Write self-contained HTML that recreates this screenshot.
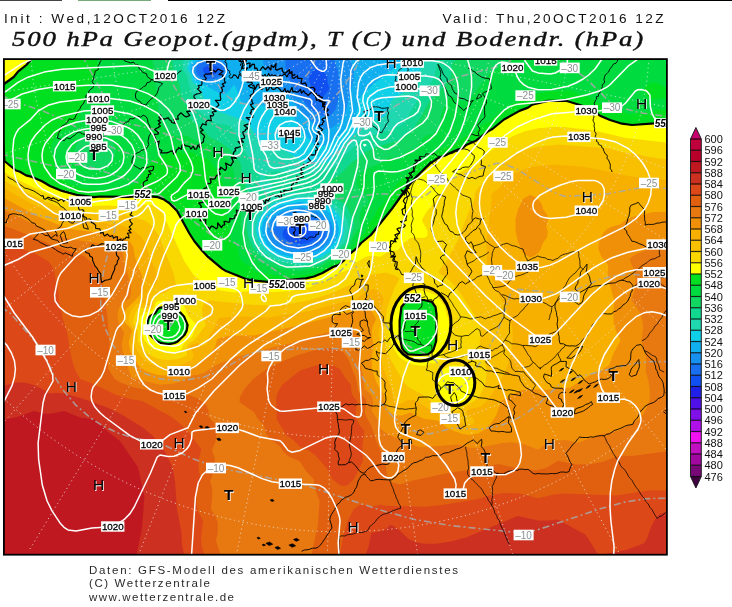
<!DOCTYPE html>
<html><head><meta charset="utf-8"><style>
html,body{margin:0;padding:0;background:#fff;width:732px;height:607px;overflow:hidden}
svg{display:block}
.h1{font-family:"Liberation Sans",sans-serif;font-size:13.6px;fill:#111}
.ti{font-family:"Liberation Serif",serif;font-style:italic;font-size:22px;fill:#111;stroke:#111;stroke-width:0.45px}
.ft{font-family:"Liberation Sans",sans-serif;font-size:11.5px;fill:#2a2a2a}
.cb text{font-family:"Liberation Sans",sans-serif;font-size:11px;fill:#111}
.lb{font-family:"Liberation Sans",sans-serif;font-size:10px}
</style></head><body>
<svg width="732" height="607" viewBox="0 0 732 607">
<rect width="732" height="607" fill="#fff"/>
<g>
<rect x="0" y="0" width="732" height="607" fill="#1050f0"/>
<path fill="#1870f0" d="M672.0 559.0 0.0 559.0 -0.0 55.0 672.0 55.0 672.0 559.0ZM213.3 75.0 218.0 72.0 218.5 69.0 217.3 67.0 212.0 64.8 204.5 67.0 203.0 69.0 203.0 71.0 204.3 73.0 208.4 75.0 213.3 75.0ZM322.3 99.0 324.3 95.0 329.6 89.0 327.7 83.0 327.2 77.0 326.0 74.7 322.0 71.1 318.0 68.6 316.0 68.8 310.0 73.6 308.8 79.0 314.0 95.0 320.0 100.3 322.0 100.0 322.3 99.0ZM308.2 243.0 315.3 239.0 317.5 235.0 317.7 233.0 316.0 229.4 312.0 226.2 304.0 223.7 296.0 223.7 288.0 226.2 283.0 231.0 282.5 235.0 284.0 238.2 290.0 242.2 300.0 244.1 308.2 243.0Z"/>
<path fill="#1890f0" d="M672.0 559.0 0.0 559.0 -0.0 55.0 286.7 55.0 285.3 61.0 285.5 67.0 287.9 77.0 290.6 83.0 308.0 106.9 318.0 114.2 326.0 116.5 330.0 115.5 332.0 114.1 335.8 109.0 340.5 89.0 338.1 71.0 332.2 55.0 672.0 55.0 672.0 559.0ZM215.1 79.0 222.0 75.3 224.3 71.0 224.3 69.0 222.3 65.0 219.6 63.0 215.4 61.0 210.0 60.7 206.0 62.3 202.0 62.5 197.8 65.0 196.3 67.0 196.0 71.6 197.7 75.0 200.6 77.0 208.0 79.3 215.1 79.0ZM306.4 249.0 317.9 245.0 324.4 239.0 326.2 235.0 326.7 231.0 325.4 227.0 322.0 222.2 318.0 219.3 312.0 216.7 306.0 215.3 298.0 215.0 286.0 217.4 277.2 223.0 274.0 228.5 273.4 233.0 275.7 239.0 278.0 241.8 282.3 245.0 290.0 248.1 296.0 249.2 306.4 249.0Z"/>
<path fill="#10b0f0" d="M672.0 559.0 0.0 559.0 -0.0 55.0 262.6 55.0 263.2 63.0 265.5 69.0 274.0 79.7 279.9 89.0 291.6 99.0 302.0 112.8 314.0 124.2 320.0 128.0 326.0 129.2 332.0 127.7 338.0 123.7 342.3 119.0 345.2 113.0 353.5 81.0 353.7 71.0 351.1 61.0 353.2 55.0 672.0 55.0 672.0 559.0ZM214.3 83.0 223.7 79.0 228.0 73.0 228.0 67.0 224.0 61.0 214.0 56.7 210.0 57.6 206.0 59.9 202.0 59.6 200.0 60.4 194.0 64.8 192.4 69.0 196.0 77.3 204.0 81.6 214.3 83.0ZM309.4 253.0 317.1 251.0 322.0 248.3 328.0 243.4 331.1 239.0 333.0 233.0 332.5 227.0 330.0 221.2 326.4 217.0 316.0 210.6 300.0 207.6 283.0 211.0 276.2 215.0 271.7 219.0 268.0 225.4 267.2 233.0 269.1 239.0 273.8 245.0 282.0 250.5 290.0 252.8 300.0 254.3 309.4 253.0Z"/>
<path fill="#10d0e8" d="M672.0 559.0 0.0 559.0 -0.0 55.0 206.5 55.0 204.0 56.7 200.0 57.5 192.2 63.0 190.7 65.0 190.0 69.0 190.6 71.0 194.0 78.5 196.0 80.6 222.0 94.4 224.0 94.4 229.0 91.0 234.0 85.1 236.0 87.9 240.9 101.0 242.0 101.9 248.0 103.9 250.0 105.6 256.0 104.9 266.0 105.9 278.0 108.5 286.0 111.7 294.0 117.7 302.0 131.1 308.0 138.5 314.0 144.3 320.0 146.4 326.0 145.4 332.0 142.1 348.3 127.0 356.1 115.0 360.0 99.0 362.0 95.1 376.0 81.9 396.1 67.0 400.3 61.0 401.4 55.0 672.0 55.0 672.0 559.0ZM308.9 257.0 318.0 255.0 322.0 253.0 330.8 247.0 335.7 241.0 338.2 235.0 338.8 229.0 336.7 221.0 332.8 215.0 320.0 205.8 300.0 201.8 280.0 205.8 267.2 215.0 263.4 221.0 261.2 229.0 262.7 237.0 267.1 245.0 274.6 251.0 282.0 254.9 300.0 258.2 308.9 257.0Z"/>
<path fill="#20d8b0" d="M672.0 559.0 0.0 559.0 -0.0 55.0 197.0 55.0 195.8 57.0 190.0 60.7 188.2 63.0 187.2 69.0 191.1 75.0 192.3 81.0 194.0 83.4 199.9 87.0 204.2 99.0 211.0 107.0 216.0 110.6 245.4 121.0 250.8 127.0 258.0 140.6 264.0 148.3 268.0 149.2 278.0 148.5 284.0 149.7 304.0 162.2 312.0 164.2 330.0 161.4 341.3 147.0 362.0 127.2 370.0 121.7 382.0 117.9 385.6 115.0 388.9 109.0 390.8 101.0 404.0 91.6 412.0 83.7 416.9 77.0 421.2 67.0 423.3 55.0 672.0 55.0 672.0 559.0ZM304.7 261.0 320.0 257.7 332.0 251.1 339.2 243.0 342.0 238.8 344.0 229.0 343.0 223.0 340.6 217.0 331.6 207.0 324.8 203.0 316.0 199.4 300.0 197.1 284.0 199.5 274.0 203.2 264.0 211.3 258.5 219.0 256.0 229.0 257.0 235.0 259.2 241.0 266.0 249.5 278.0 257.3 294.0 260.9 304.7 261.0Z"/>
<path fill="#10d890" d="M672.0 559.0 0.0 559.0 -0.0 55.0 187.3 55.0 182.9 63.0 182.7 69.0 187.7 77.0 188.2 83.0 195.7 103.0 197.6 111.0 208.0 116.4 216.0 123.6 226.0 124.4 230.0 126.1 233.0 129.0 236.0 135.0 242.0 139.5 245.1 145.0 244.6 151.0 250.8 161.0 253.9 169.0 259.6 175.0 260.4 177.0 258.0 185.0 258.3 187.0 262.6 191.0 268.0 193.1 270.0 192.7 272.7 187.0 271.5 183.0 268.3 181.0 264.7 177.0 265.2 175.0 268.0 172.9 276.0 170.9 292.0 173.1 312.0 173.6 328.0 170.3 336.0 165.7 344.0 156.1 364.0 138.1 392.0 129.4 402.0 124.6 405.3 121.0 420.0 95.7 432.3 81.0 434.5 75.0 438.9 55.0 672.0 55.0 672.0 559.0ZM312.4 263.0 318.0 262.2 326.0 257.5 334.0 254.4 339.6 247.0 345.8 241.0 348.8 227.0 347.6 221.0 344.0 213.4 340.0 208.5 330.0 200.3 312.0 193.2 290.0 192.5 280.0 196.3 272.0 195.8 270.0 196.6 265.9 203.0 257.5 211.0 252.1 223.0 251.2 229.0 251.8 233.0 256.0 244.5 260.0 249.5 266.0 254.8 273.2 259.0 280.0 261.7 300.0 264.9 312.4 263.0Z"/>
<path fill="#10d860" d="M672.0 559.0 0.0 559.0 -0.0 55.0 172.5 55.0 172.2 61.0 173.3 69.0 179.8 85.0 180.6 93.0 182.3 99.0 188.4 109.0 188.1 113.0 189.1 117.0 192.0 120.4 200.0 126.1 209.7 137.0 222.0 143.6 229.7 149.0 240.6 163.0 241.5 173.0 245.8 181.0 245.3 187.0 251.6 203.0 250.4 213.0 247.1 221.0 246.6 227.0 248.3 237.0 252.6 247.0 259.6 255.0 270.0 261.7 282.0 265.6 300.0 267.9 320.0 264.8 326.0 260.1 336.0 256.9 340.9 249.0 348.6 243.0 353.1 229.0 353.9 225.0 353.3 221.0 347.3 207.0 344.0 203.5 338.0 200.3 332.0 192.5 328.0 190.1 323.6 189.0 323.4 187.0 325.0 185.0 329.3 181.0 340.0 174.6 351.0 163.0 366.0 151.8 374.0 148.0 398.0 140.5 404.0 137.1 411.5 131.0 416.2 125.0 430.0 100.5 450.1 79.0 451.7 71.0 451.5 63.0 462.4 55.0 672.0 55.0 672.0 559.0Z"/>
<path fill="#00dc40" d="M672.0 559.0 0.0 559.0 -0.0 55.0 151.0 55.0 155.9 75.0 155.6 85.0 157.6 95.0 158.3 111.0 163.1 127.0 174.0 135.7 176.0 136.4 184.0 135.4 188.0 136.2 195.9 141.0 202.0 141.9 210.0 145.4 216.5 149.0 222.0 153.5 230.2 163.0 233.6 171.0 238.6 195.0 238.4 205.0 241.3 213.0 240.4 225.0 246.3 245.0 250.0 251.0 258.0 261.1 262.1 263.0 280.0 268.9 300.0 270.8 320.0 267.3 328.0 261.4 336.0 259.4 338.8 257.0 342.0 250.8 350.3 245.0 352.8 237.0 360.2 227.0 359.5 217.0 360.6 211.0 364.0 205.8 368.3 203.0 368.7 201.0 366.5 195.0 360.0 190.2 356.6 185.0 356.8 179.0 360.0 173.9 366.0 169.4 380.0 163.2 388.0 157.9 392.0 157.4 398.0 159.2 400.0 159.0 404.9 153.0 407.7 151.0 416.0 148.6 423.9 137.0 428.0 134.7 432.0 134.3 434.0 133.1 439.2 127.0 440.1 125.0 440.8 115.0 448.0 98.5 450.0 97.3 454.0 97.3 464.0 101.2 469.9 99.0 488.0 75.1 502.0 64.8 512.0 59.3 520.0 59.3 527.2 55.0 672.0 55.0 672.0 559.0ZM103.6 169.0 109.8 165.0 114.1 159.0 115.6 151.0 113.2 143.0 107.8 137.0 100.0 133.8 94.0 133.5 84.0 136.6 77.2 143.0 75.6 147.0 74.4 153.0 76.9 161.0 82.0 166.4 86.5 169.0 96.0 170.7 103.6 169.0Z"/>
<path fill="#00e020" d="M672.0 559.0 0.0 559.0 -0.0 55.0 93.9 55.0 96.5 59.0 98.8 69.0 97.9 71.0 92.8 75.0 77.0 121.0 70.0 124.7 66.0 129.1 58.0 134.0 55.5 137.0 51.4 145.0 50.4 151.0 54.1 159.0 54.8 169.0 58.0 174.6 62.8 179.0 68.4 183.0 78.0 187.7 94.0 190.4 112.0 189.8 128.0 187.5 136.5 183.0 140.6 179.0 144.0 171.7 150.4 163.0 160.0 156.5 174.0 151.5 184.0 153.1 192.0 152.2 198.0 156.1 207.8 159.0 217.8 171.0 219.5 177.0 223.3 185.0 221.1 189.0 220.8 193.0 222.7 199.0 226.8 205.0 226.3 215.0 227.4 219.0 230.7 225.0 229.2 231.0 229.6 237.0 232.9 243.0 238.0 247.6 238.6 255.0 240.2 259.0 243.9 263.0 251.4 267.0 254.0 270.2 258.0 272.6 280.0 276.1 298.0 275.6 312.0 273.5 322.0 270.2 326.0 267.0 338.0 262.3 341.6 259.0 345.4 253.0 353.7 247.0 358.0 239.1 365.4 233.0 367.8 225.0 375.1 215.0 378.0 208.6 384.2 203.0 388.4 195.0 397.9 183.0 405.6 177.0 410.0 170.8 415.9 165.0 434.0 152.4 458.0 141.7 466.0 136.3 474.0 133.1 480.0 127.0 490.0 121.2 498.0 113.5 506.0 109.2 512.0 104.1 522.0 100.4 528.0 96.0 534.0 94.0 540.0 93.4 548.0 91.2 570.0 90.6 576.0 92.5 580.0 95.1 586.0 95.6 590.0 96.9 596.0 102.0 606.0 105.5 612.0 110.1 622.0 111.2 630.0 114.8 640.0 112.0 644.0 112.1 650.0 113.8 656.0 109.8 666.0 109.5 666.9 103.0 666.0 100.0 664.0 98.5 654.0 99.8 648.0 98.0 645.2 95.0 644.0 91.5 644.1 89.0 646.0 85.5 650.0 83.0 654.0 82.6 660.0 84.3 666.0 87.8 668.0 88.3 672.0 87.3 672.0 559.0Z"/>
<path fill="#ffff00" d="M0.0 96.6 -0.0 55.0 31.6 55.0 31.5 59.0 26.3 65.0 18.0 71.7 13.7 77.0 4.0 84.0 0.0 96.6ZM672.0 559.0 0.0 559.0 0.0 114.4 2.6 135.0 4.4 161.0 16.0 170.5 20.0 171.8 26.0 175.4 32.0 176.9 42.0 181.2 50.0 186.0 62.0 190.9 78.0 195.2 94.0 197.1 128.0 196.9 144.0 195.8 158.0 197.2 164.0 199.6 169.1 203.0 177.1 211.0 189.1 233.0 194.2 241.0 202.4 251.0 208.0 256.9 222.0 268.6 226.0 271.1 246.0 279.0 252.0 280.4 268.0 281.8 306.0 278.4 314.0 276.5 322.0 273.3 333.0 267.0 338.5 265.0 361.2 243.0 370.9 235.0 391.8 209.0 406.1 189.0 416.2 177.0 430.0 163.6 438.0 158.2 462.0 148.5 466.0 145.1 476.0 140.7 504.0 119.5 520.0 110.6 528.0 107.6 532.0 104.8 548.0 100.9 566.0 100.8 584.0 106.3 594.0 111.4 600.0 115.7 610.0 120.0 622.0 123.7 632.0 125.0 658.0 123.1 672.0 123.9 672.0 559.0ZM419.7 355.0 428.0 354.3 432.7 351.0 433.7 349.0 436.2 341.0 436.6 315.0 435.5 307.0 432.0 302.0 424.0 300.0 414.0 299.9 406.0 301.5 401.4 307.0 399.6 321.0 399.7 337.0 402.0 348.1 404.0 351.0 408.0 354.3 419.7 355.0ZM174.8 343.0 178.0 341.2 184.5 335.0 186.6 331.0 187.6 325.0 184.0 316.4 178.0 310.0 172.0 310.6 166.0 307.1 160.0 307.6 158.0 308.7 155.4 313.0 150.0 316.2 148.0 319.0 147.2 325.0 150.0 334.7 156.0 340.8 160.0 342.8 168.0 344.3 174.8 343.0Z"/>
<path fill="#f8d800" d="M672.0 559.0 0.0 559.0 0.0 169.5 12.0 176.8 28.0 184.7 46.0 193.2 70.0 202.8 94.0 205.7 110.0 205.4 124.0 206.8 140.0 204.6 154.1 205.0 162.0 211.6 184.2 261.0 193.6 275.0 204.0 283.6 220.0 290.6 234.0 292.6 252.0 290.7 272.0 291.9 290.0 291.0 300.0 288.0 310.0 287.3 320.0 282.3 328.0 280.9 336.0 274.2 348.0 270.0 354.0 263.8 366.0 256.7 372.0 255.5 380.0 256.8 388.0 251.8 398.0 249.9 404.0 242.4 410.0 238.2 414.0 237.5 422.0 238.1 426.0 237.2 427.6 235.0 427.5 231.0 422.2 221.0 422.3 219.0 427.1 211.0 434.0 203.0 437.1 197.0 444.0 190.0 448.4 183.0 462.0 171.1 478.0 163.2 485.4 155.0 500.0 143.7 512.0 136.4 524.0 131.5 538.0 128.2 552.0 126.9 564.0 127.0 594.0 130.5 626.0 138.0 666.0 142.5 672.0 142.3 672.0 559.0ZM427.1 365.0 430.0 363.0 434.0 363.5 438.0 362.3 440.2 359.0 441.0 355.0 445.8 349.0 446.6 341.0 449.1 335.0 448.9 321.0 444.2 305.0 436.0 295.1 426.0 291.3 418.0 290.3 404.0 293.8 398.1 299.0 390.9 313.0 390.6 321.0 388.6 327.0 390.6 341.0 394.0 349.1 400.0 358.0 412.0 364.6 424.0 366.0 427.1 365.0ZM178.8 351.0 181.6 349.0 183.2 345.0 186.0 341.3 192.0 337.0 195.6 327.0 195.0 323.0 188.0 316.1 184.0 306.1 182.0 303.3 178.0 303.7 172.0 306.3 170.0 306.0 164.0 300.3 158.0 301.0 155.5 303.0 154.7 307.0 152.0 310.5 143.6 313.0 140.4 317.0 139.5 323.0 144.0 339.7 150.0 346.6 158.1 351.0 168.0 353.0 178.8 351.0ZM459.9 403.0 465.0 401.0 470.8 395.0 473.8 385.0 473.1 381.0 471.3 375.0 466.0 368.7 460.0 365.7 452.0 365.2 444.0 368.7 441.7 371.0 437.7 379.0 438.4 389.0 440.5 395.0 445.4 401.0 456.0 404.5 459.9 403.0Z"/>
<path fill="#f8c000" d="M672.0 559.0 0.0 559.0 0.0 178.4 38.0 198.3 62.0 207.9 78.0 211.7 90.0 213.3 124.0 214.4 144.0 220.2 148.7 223.0 152.9 227.0 160.1 237.0 163.8 249.0 173.5 273.0 175.9 285.0 175.1 287.0 170.0 289.2 164.6 293.0 154.0 295.1 152.5 299.0 152.8 305.0 152.0 307.0 150.0 308.6 138.0 308.0 134.5 315.0 133.1 323.0 137.7 331.0 137.7 341.0 140.0 345.7 148.0 353.4 154.0 357.0 160.0 359.2 168.0 360.1 176.0 359.4 182.0 357.8 187.0 355.0 186.7 349.0 187.6 345.0 189.3 343.0 194.0 340.4 206.0 325.0 202.4 315.0 202.0 309.0 204.0 303.3 207.5 301.0 210.0 300.4 252.0 304.7 272.0 305.7 290.0 303.8 310.0 299.9 330.0 293.8 352.0 284.1 368.0 275.2 386.0 272.6 396.0 276.1 399.3 279.0 394.0 289.0 387.0 309.0 383.9 329.0 385.1 343.0 390.0 358.8 404.0 382.2 408.0 386.7 426.0 396.4 439.4 409.0 444.0 408.9 456.0 411.1 460.0 410.0 474.4 401.0 480.2 395.0 485.3 383.0 486.4 375.0 486.2 369.0 484.3 361.0 478.9 349.0 480.9 333.0 480.2 327.0 478.0 320.8 458.0 289.5 448.0 278.7 439.0 273.0 438.9 271.0 448.0 258.7 457.5 241.0 470.0 209.0 474.0 201.0 475.0 193.0 478.0 187.6 484.0 183.3 498.0 166.5 506.1 159.0 520.0 151.7 530.0 148.5 540.0 146.7 558.0 144.6 610.0 148.4 622.0 151.9 636.0 153.9 650.0 157.3 672.0 159.8 672.0 559.0ZM170.0 303.9 169.0 303.0 170.0 301.1 172.0 303.0 170.0 303.9ZM190.0 314.2 188.8 313.0 190.0 311.3 191.0 313.0 190.0 314.2Z"/>
<path fill="#f8b000" d="M672.0 559.0 0.0 559.0 0.0 187.1 5.4 189.0 32.0 203.9 60.0 215.9 78.0 220.5 110.0 223.5 122.0 225.5 134.0 230.7 141.4 237.0 145.1 243.0 149.6 257.0 156.4 271.0 157.3 281.0 156.0 283.9 150.0 288.1 147.2 293.0 146.9 299.0 151.0 305.0 150.0 306.2 148.0 305.8 142.0 302.5 136.0 303.9 130.8 311.0 128.9 317.0 128.9 321.0 130.4 325.0 134.5 331.0 133.5 341.0 134.6 347.0 142.0 357.3 150.0 363.4 158.0 366.5 168.0 367.4 180.0 365.4 190.0 361.0 192.2 359.0 193.7 355.0 190.1 347.0 190.9 345.0 198.0 342.9 202.0 346.1 206.0 345.1 207.4 343.0 209.4 335.0 214.8 327.0 218.0 319.3 220.0 317.9 234.0 316.2 268.0 317.5 310.0 311.0 342.0 302.2 352.0 302.1 364.0 293.0 374.0 288.6 380.0 292.3 383.9 299.0 381.5 307.0 381.8 319.0 378.6 333.0 380.5 355.0 382.7 367.0 390.9 387.0 394.6 401.0 396.3 403.0 400.0 404.2 408.0 399.9 414.0 399.8 430.0 409.6 442.0 412.1 452.0 418.4 466.0 424.8 470.0 425.3 473.8 423.0 474.1 419.0 466.8 415.0 466.9 411.0 470.0 408.6 478.0 407.4 482.0 405.6 486.0 402.1 489.8 397.0 500.0 381.0 506.1 369.0 510.8 355.0 512.7 343.0 512.7 331.0 510.2 319.0 506.3 309.0 493.2 283.0 488.9 271.0 486.9 261.0 486.5 241.0 491.7 201.0 491.3 195.0 492.2 193.0 500.0 187.5 506.8 177.0 516.0 172.4 532.0 166.7 554.0 164.4 584.0 166.8 630.0 176.2 648.0 178.8 666.0 179.8 672.0 181.1 672.0 559.0ZM200.0 341.9 199.2 341.0 200.0 339.5 200.0 341.9Z"/>
<path fill="#f09008" d="M532.0 257.0 529.2 257.0 523.2 253.0 518.0 242.1 515.6 231.0 515.5 219.0 518.0 209.6 523.1 199.0 530.0 194.8 535.3 197.0 539.8 201.0 542.2 205.0 543.1 209.0 547.4 215.0 548.2 219.0 546.2 227.0 547.7 231.0 547.2 237.0 543.0 243.0 539.9 251.0 536.0 254.7 532.0 257.0ZM672.0 559.0 0.0 559.0 0.0 197.1 6.0 199.1 38.0 216.4 64.0 226.9 72.0 229.2 114.0 234.7 128.0 240.4 131.0 243.0 133.3 247.0 134.9 257.0 142.2 277.0 143.1 289.0 138.5 297.0 126.3 309.0 124.5 313.0 124.1 319.0 125.2 323.0 131.1 329.0 131.8 331.0 128.7 343.0 130.3 351.0 138.0 364.4 142.0 368.6 145.9 371.0 158.0 374.9 168.0 375.4 178.0 373.3 192.0 367.3 198.9 363.0 212.0 351.4 215.1 347.0 217.2 339.0 222.0 337.2 232.0 335.6 254.0 335.5 302.0 324.5 348.0 312.3 356.0 311.3 368.0 307.6 372.0 311.7 376.2 319.0 372.6 327.0 371.9 331.0 372.0 337.0 373.6 345.0 371.7 357.0 372.0 369.2 376.6 383.0 384.2 395.0 384.9 403.0 388.0 410.0 392.0 413.7 396.0 415.3 402.0 415.4 410.0 412.5 424.0 418.8 438.0 420.6 446.1 427.0 452.0 430.3 462.0 433.8 470.0 435.0 478.0 433.6 485.7 429.0 491.2 423.0 496.4 415.0 501.2 401.0 520.0 390.6 530.0 389.3 546.0 389.7 570.0 387.6 590.0 375.2 600.0 370.9 609.3 365.0 613.7 353.0 620.2 341.0 620.1 339.0 615.9 331.0 613.7 323.0 613.2 313.0 614.4 301.0 608.1 279.0 607.6 273.0 608.3 265.0 601.5 257.0 598.4 249.0 598.7 243.0 601.1 237.0 603.1 233.0 607.3 229.0 612.0 226.6 620.0 224.4 626.0 219.7 632.0 216.9 652.0 212.3 662.0 211.8 672.0 212.5 672.0 559.0Z"/>
<path fill="#e87810" d="M672.0 559.0 0.0 559.0 0.0 209.1 4.0 209.8 44.0 229.4 64.0 237.2 74.0 239.7 96.1 243.0 122.0 248.9 124.8 265.0 130.7 285.0 131.2 293.0 130.0 298.4 124.0 301.4 120.0 305.9 118.0 311.0 117.5 317.0 118.7 323.0 124.1 333.0 121.9 343.0 122.4 351.0 127.3 361.0 128.8 371.0 132.0 378.1 160.0 384.8 174.0 383.6 184.0 380.1 190.0 375.7 198.0 374.7 204.0 372.8 216.0 364.9 234.0 357.6 276.0 346.4 292.0 343.1 326.0 332.7 342.0 330.0 352.0 330.8 356.3 333.0 361.0 339.0 361.6 341.0 360.2 365.0 363.6 377.0 364.5 389.0 369.6 393.0 372.2 397.0 373.2 403.0 372.0 411.0 378.4 421.0 380.8 429.0 386.0 433.0 396.0 438.3 410.0 444.1 420.0 447.2 458.0 444.4 468.0 447.4 478.0 448.0 502.0 443.1 512.0 442.3 524.0 444.2 538.0 449.8 546.0 443.9 554.0 440.7 566.0 440.0 578.0 442.9 600.0 434.4 618.0 431.1 640.0 419.3 645.2 411.0 649.5 401.0 649.9 391.0 648.5 381.0 645.7 371.0 646.4 361.0 645.7 353.0 641.4 341.0 643.2 329.0 642.6 321.0 639.1 311.0 632.2 301.0 631.7 299.0 635.0 289.0 635.7 279.0 634.4 271.0 629.5 259.0 634.7 255.0 646.0 250.2 666.0 248.5 672.0 250.9 672.0 559.0Z"/>
<path fill="#e06010" d="M226.0 559.0 -0.0 559.0 0.0 225.1 12.0 228.4 60.0 247.9 84.0 256.1 91.7 263.0 100.0 275.9 102.7 283.0 107.6 319.0 109.8 345.0 107.9 357.0 108.0 368.6 114.5 379.0 121.5 383.0 134.0 387.6 150.0 390.4 160.0 394.3 178.0 395.9 190.0 395.3 198.8 399.0 206.4 405.0 208.7 411.0 208.5 417.0 214.1 423.0 215.8 427.0 216.6 433.0 215.7 441.0 212.3 449.0 212.2 451.0 214.4 457.0 215.0 463.0 213.7 471.0 210.0 481.0 211.8 487.0 212.3 493.0 211.0 509.0 215.9 517.0 217.7 523.0 217.8 531.0 216.0 541.0 220.6 555.0 226.0 559.0ZM672.0 559.0 305.1 559.0 311.4 555.0 317.9 525.0 319.6 501.0 315.2 489.0 313.4 479.0 306.0 471.0 300.0 461.6 288.0 456.1 282.8 451.0 280.0 446.3 269.8 439.0 265.9 433.0 263.9 425.0 258.0 419.0 254.0 412.1 240.6 403.0 239.5 401.0 240.0 397.0 244.4 389.0 253.3 379.0 263.8 371.0 278.1 363.0 298.1 355.0 318.0 349.3 330.0 347.9 340.0 350.1 344.1 353.0 348.0 358.5 356.1 379.0 358.2 391.0 365.9 399.0 366.2 403.0 364.7 411.0 365.4 415.0 371.7 427.0 375.5 439.0 383.3 457.0 385.6 465.0 388.0 479.7 392.0 482.6 400.0 484.5 412.0 480.8 448.0 473.0 480.0 468.2 498.0 464.1 524.0 469.6 536.0 470.2 546.0 467.9 558.0 460.7 576.0 464.4 590.0 464.3 604.0 461.4 618.0 456.0 634.0 455.8 664.0 451.7 668.0 450.7 672.0 448.4 672.0 559.0Z"/>
<path fill="#dc4818" d="M204.0 559.0 -0.0 559.0 0.0 243.4 5.2 243.0 36.0 254.1 48.0 261.3 51.5 265.0 54.7 273.0 55.8 281.0 58.1 289.0 58.8 301.0 61.2 309.0 62.2 317.0 66.7 331.0 71.7 359.0 74.9 369.0 80.0 378.9 92.0 383.2 116.0 395.0 130.0 399.0 142.0 401.0 168.2 415.0 177.0 421.0 186.0 429.3 201.3 449.0 198.9 459.0 198.4 465.0 199.2 473.0 201.1 479.0 197.1 491.0 196.2 501.0 197.9 511.0 203.0 521.0 200.9 539.0 201.9 547.0 204.8 557.0 205.1 559.0 204.0 559.0ZM348.0 485.1 344.0 486.1 340.0 485.3 332.0 478.7 327.3 469.0 315.2 455.0 308.0 449.9 300.0 447.1 294.0 440.5 286.0 434.9 276.6 419.0 276.2 397.0 278.6 391.0 282.1 385.0 300.0 370.4 320.0 364.3 334.0 366.1 340.0 368.9 344.6 377.0 350.9 385.0 351.5 393.0 353.6 397.0 357.3 401.0 355.7 413.0 356.6 419.0 359.6 425.0 364.4 431.0 362.4 445.0 363.0 461.0 354.0 479.1 348.0 485.1ZM672.0 559.0 338.9 559.0 343.1 537.0 348.0 520.0 354.0 509.0 360.0 505.1 374.0 506.3 380.0 504.7 386.0 505.8 424.0 506.7 442.0 504.9 478.0 499.0 492.0 494.8 504.0 492.9 520.0 493.6 538.0 498.3 554.0 494.6 564.0 493.4 616.0 495.5 650.0 490.3 666.0 490.4 672.0 488.6 672.0 559.0Z"/>
<path fill="#cc3020" d="M182.0 559.0 0.0 559.0 0.0 380.9 4.0 385.7 16.0 382.5 26.0 382.8 36.0 385.8 50.0 393.6 58.0 393.0 66.0 393.8 88.0 400.5 106.0 407.1 122.3 415.0 142.0 427.1 151.8 435.0 158.9 443.0 167.0 455.0 173.0 469.0 175.0 481.0 176.9 509.0 181.2 531.0 182.0 545.0 184.1 555.0 184.0 559.0 182.0 559.0ZM672.0 559.0 366.6 559.0 365.5 555.0 368.5 547.0 371.4 533.0 382.0 531.1 386.0 529.0 390.0 525.3 392.0 525.3 398.0 529.0 408.0 538.6 414.0 541.8 424.0 543.7 436.0 543.7 450.0 541.8 466.0 537.5 518.0 515.9 538.0 520.4 548.0 520.6 558.0 519.5 585.8 535.0 598.0 554.3 600.0 554.7 626.0 550.0 644.0 543.3 646.9 539.0 651.0 527.0 655.3 519.0 660.0 513.7 664.0 512.7 672.0 514.4 672.0 559.0Z"/>
<path fill="#c01820" d="M134.0 559.0 -0.0 559.0 0.0 420.6 18.0 416.8 34.0 410.9 44.0 413.4 50.0 413.8 64.2 411.0 80.0 417.5 96.0 419.9 108.0 431.7 120.0 440.9 138.0 467.2 144.4 497.0 141.9 529.0 135.6 559.0 134.0 559.0Z"/>
<path d="M-18.3 376.3 -15.4 379.4 -12.4 382.5 -9.4 385.6 -6.4 388.6 -3.4 391.6 -0.3 394.6 2.8 397.6 5.9 400.5 9.1 403.4 12.3 406.3 15.5 409.1 18.7 411.9 21.9 414.7 25.2 417.5 28.5 420.2 31.8 422.9 35.2 425.6 38.5 428.2 41.9 430.9 45.3 433.4 48.8 436.0 52.2 438.5 55.7 441.0 59.2 443.5 62.7 445.9 66.3 448.3 69.9 450.7 73.4 453.0 77.0 455.4 80.7 457.6 84.3 459.9 88.0 462.1 91.7 464.3 95.4 466.4 99.1 468.5 102.8 470.6 106.6 472.7 110.4 474.7 114.2 476.7 118.0 478.6 121.8 480.6 125.6 482.5 129.5 484.3 133.4 486.1 137.3 487.9 141.2 489.7 145.1 491.4 149.0 493.1 153.0 494.7 157.0 496.3 160.9 497.9 164.9 499.5 168.9 501.0 173.0 502.4 177.0 503.9 181.0 505.3 185.1 506.7 189.2 508.0 193.2 509.3 197.3 510.6 201.4 511.8 205.6 513.0 209.7 514.1 213.8 515.2 218.0 516.3 222.1 517.4 226.3 518.4 230.4 519.4 234.6 520.3 238.8 521.2 243.0 522.1 247.2 522.9 251.4 523.7 255.6 524.4 259.8 525.2 264.1 525.8 268.3 526.5 272.5 527.1 276.8 527.7 281.0 528.2 285.3 528.7 289.6 529.1 293.8 529.6 298.1 530.0 302.4 530.3 306.6 530.6 310.9 530.9 315.2 531.1 319.4 531.3 323.7 531.5 328.0 531.6 332.3 531.7 336.6 531.7 340.9 531.7 345.1 531.7 349.4 531.7 353.7 531.6 358.0 531.4 362.3 531.2 366.5 531.0 370.8 530.8 375.1 530.5 379.4 530.2 383.6 529.8 387.9 529.4 392.1 529.0 396.4 528.5 400.7 528.0 404.9 527.4 409.1 526.9 413.4 526.2 417.6 525.6 421.8 524.9 426.1 524.1 430.3 523.4 434.5 522.6 438.7 521.7 442.9 520.8 447.1 519.9 451.2 519.0 455.4 518.0 459.6 517.0 463.7 515.9 467.8 514.8 472.0 513.7 476.1 512.5 480.2 511.3 484.3 510.1 488.4 508.8 492.5 507.5 496.5 506.1 500.6 504.7 504.6 503.3 508.7 501.9 512.7 500.4 516.7 498.8 520.7 497.3 524.6 495.7 528.6 494.1 532.5 492.4 536.5 490.7 540.4 489.0 544.3 487.2 548.2 485.4 552.0 483.6 555.9 481.7 559.7 479.8 563.6 477.9 567.4 475.9 571.1 473.9 574.9 471.9 578.7 469.8 582.4 467.7 586.1 465.6 589.8 463.4 593.5 461.2 597.1 459.0 600.8 456.7 604.4 454.4 608.0 452.1 611.6 449.8 615.1 447.4 618.7 445.0 622.2 442.5 625.7 440.0 629.1 437.5 632.6 435.0 636.0 432.4 639.4 429.8 642.8 427.2 646.2 424.5 649.5 421.8 652.8 419.1 656.1 416.4 659.4 413.6 662.6 410.8 665.8 408.0 669.0 405.1 672.2 402.2 675.3 399.3 678.4 396.4 681.5 393.4 684.6 390.4 687.6 387.4M-18.9 209.1 -17.5 212.3 -15.9 215.4 -14.4 218.5 -12.8 221.6 -11.3 224.6 -9.6 227.7 -8.0 230.7 -6.3 233.8 -4.6 236.8 -2.9 239.8 -1.2 242.8 0.6 245.7 2.4 248.7 4.2 251.6 6.1 254.5 8.0 257.5 9.9 260.3 11.8 263.2 13.7 266.1 15.7 268.9 17.7 271.7 19.7 274.5 21.8 277.3 23.9 280.1 26.0 282.8 28.1 285.6 30.2 288.3 32.4 291.0 34.6 293.7 36.8 296.3 39.1 298.9 41.3 301.6 43.6 304.2 45.9 306.7 48.2 309.3 50.6 311.8 53.0 314.3 55.4 316.8 57.8 319.3 60.2 321.8 62.7 324.2 65.2 326.6 67.7 329.0 70.2 331.4 72.7 333.7 75.3 336.0 77.9 338.3 80.5 340.6 83.1 342.8 85.8 345.1 88.4 347.3 91.1 349.5 93.8 351.6 96.5 353.8 99.3 355.9 102.0 358.0 104.8 360.0 107.6 362.1 110.4 364.1 113.2 366.1 116.1 368.0 118.9 370.0 121.8 371.9 124.7 373.8 127.6 375.7 130.5 377.5 133.5 379.3 136.5 381.1 139.4 382.9 142.4 384.6 145.4 386.3 148.4 388.0 151.5 389.7 154.5 391.3 157.6 392.9 160.7 394.5 163.8 396.0 166.9 397.6 170.0 399.0 173.1 400.5 176.3 402.0 179.4 403.4 182.6 404.8 185.8 406.1 189.0 407.5 192.2 408.8 195.4 410.0 198.6 411.3 201.8 412.5 205.1 413.7 208.3 414.9 211.6 416.0 214.9 417.1 218.2 418.2 221.5 419.2 224.8 420.2 228.1 421.2 231.4 422.2 234.7 423.1 238.1 424.0 241.4 424.9 244.8 425.8 248.1 426.6 251.5 427.4 254.9 428.1 258.3 428.8 261.7 429.5 265.0 430.2 268.4 430.8 271.9 431.5 275.3 432.0 278.7 432.6 282.1 433.1 285.5 433.6 289.0 434.1 292.4 434.5 295.8 434.9 299.3 435.3 302.7 435.6 306.1 435.9 309.6 436.2 313.0 436.4 316.5 436.7 319.9 436.9 323.4 437.0 326.9 437.1 330.3 437.2 333.8 437.3 337.2 437.4 340.7 437.4 344.2 437.3 347.6 437.3 351.1 437.2 354.5 437.1 358.0 437.0 361.4 436.8 364.9 436.6 368.3 436.3 371.8 436.1 375.2 435.8 378.7 435.5 382.1 435.1 385.6 434.7 389.0 434.3 392.4 433.9 395.8 433.4 399.3 432.9 402.7 432.4 406.1 431.8 409.5 431.2 412.9 430.6 416.3 429.9 419.7 429.3 423.1 428.6 426.5 427.8 429.8 427.0 433.2 426.2 436.6 425.4 439.9 424.6 443.3 423.7 446.6 422.8 449.9 421.8 453.2 420.8 456.5 419.8 459.8 418.8 463.1 417.7 466.4 416.7 469.7 415.5 473.0 414.4 476.2 413.2 479.5 412.0 482.7 410.8 485.9 409.5 489.1 408.2 492.3 406.9 495.5 405.6 498.7 404.2 501.8 402.8 505.0 401.4 508.1 399.9 511.3 398.5 514.4 396.9 517.5 395.4 520.6 393.8 523.6 392.3 526.7 390.6 529.7 389.0 532.8 387.3 535.8 385.6 538.8 383.9 541.8 382.2 544.7 380.4 547.7 378.6 550.6 376.8 553.5 374.9 556.5 373.0 559.3 371.1 562.2 369.2 565.1 367.3 567.9 365.3 570.7 363.3 573.5 361.3 576.3 359.2 579.1 357.1 581.8 355.0 584.6 352.9 587.3 350.8 590.0 348.6 592.7 346.4 595.3 344.2 597.9 341.9 600.6 339.7 603.2 337.4 605.7 335.1 608.3 332.8 610.8 330.4 613.3 328.0 615.8 325.6 618.3 323.2 620.8 320.8 623.2 318.3 625.6 315.8 628.0 313.3 630.4 310.8 632.7 308.3 635.0 305.7 637.3 303.1 639.6 300.5 641.8 297.9 644.1 295.2 646.3 292.6 648.5 289.9 650.6 287.2 652.8 284.5 654.9 281.7 657.0 279.0 659.0 276.2 661.1 273.4 663.1 270.6 665.1 267.8 667.0 264.9 669.0 262.1 670.9 259.2 672.8 256.3 674.7 253.4 676.5 250.5 678.3 247.5 680.1 244.5 681.9 241.6 683.6 238.6 685.3 235.6 687.0 232.6 688.7 229.5M36.2 -17.5 35.7 -14.8 35.2 -12.2 34.8 -9.5 34.4 -6.9 33.9 -4.2 33.6 -1.5 33.2 1.2 32.9 3.8 32.6 6.5 32.3 9.2 32.0 11.9 31.8 14.6 31.5 17.3 31.3 20.0 31.2 22.7 31.0 25.3 30.9 28.0 30.8 30.7 30.7 33.4 30.7 36.1 30.6 38.8 30.6 41.5 30.6 44.2 30.7 46.9 30.7 49.6 30.8 52.3 30.9 55.0 31.1 57.7 31.2 60.4 31.4 63.1 31.6 65.8 31.9 68.5 32.1 71.2 32.4 73.9 32.7 76.6 33.0 79.2 33.3 81.9 33.7 84.6 34.1 87.3 34.5 89.9 35.0 92.6 35.4 95.3 35.9 97.9 36.4 100.6 36.9 103.2 37.5 105.9 38.1 108.5 38.7 111.1 39.3 113.7 39.9 116.4 40.6 119.0 41.3 121.6 42.0 124.2 42.8 126.8 43.5 129.4 44.3 132.0 45.1 134.5 45.9 137.1 46.8 139.7 47.7 142.2 48.6 144.8 49.5 147.3 50.4 149.9 51.4 152.4 52.4 154.9 53.4 157.4 54.4 159.9 55.4 162.4 56.5 164.9 57.6 167.3 58.7 169.8 59.8 172.2 61.0 174.7 62.2 177.1 63.4 179.5 64.6 181.9 65.8 184.3 67.1 186.7 68.4 189.1 69.7 191.5 71.0 193.8 72.3 196.2 73.7 198.5 75.1 200.8 76.5 203.1 77.9 205.4 79.4 207.7 80.8 210.0 82.3 212.2 83.8 214.4 85.3 216.7 86.9 218.9 88.4 221.1 90.0 223.3 91.6 225.5 93.2 227.6 94.9 229.8 96.5 231.9 98.2 234.0 99.9 236.1 101.6 238.2 103.4 240.3 105.1 242.3 106.9 244.4 108.7 246.4 110.5 248.4 112.3 250.4 114.1 252.4 116.0 254.4 117.8 256.3 119.7 258.2 121.6 260.1 123.5 262.0 125.5 263.9 127.4 265.8 129.4 267.6 131.4 269.5 133.4 271.3 135.4 273.1 137.4 274.8 139.5 276.6 141.6 278.3 143.6 280.1 145.7 281.8 147.8 283.5 150.0 285.1 152.1 286.8 154.2 288.4 156.4 290.0 158.6 291.6 160.8 293.2 163.0 294.7 165.2 296.3 167.4 297.8 169.7 299.3 172.0 300.8 174.2 302.2 176.5 303.7 178.8 305.1 181.1 306.5 183.4 307.8 185.8 309.2 188.1 310.5 190.5 311.8 192.9 313.1 195.2 314.4 197.6 315.7 200.0 316.9 202.4 318.1 204.9 319.3 207.3 320.5 209.7 321.6 212.2 322.7 214.7 323.8 217.1 324.9 219.6 326.0 222.1 327.0 224.6 328.0 227.1 329.0 229.6 330.0 232.2 331.0 234.7 331.9 237.2 332.8 239.8 333.7 242.3 334.6 244.9 335.4 247.5 336.2 250.1 337.0 252.7 337.8 255.2 338.5 257.8 339.3 260.4 340.0 263.1 340.7 265.7 341.3 268.3 342.0 270.9 342.6 273.6 343.2 276.2 343.7 278.8 344.3 281.5 344.8 284.2 345.3 286.8 345.8 289.5 346.2 292.1 346.6 294.8 347.1 297.5 347.4 300.2 347.8 302.8 348.1 305.5 348.4 308.2 348.7 310.9 349.0 313.6 349.2 316.3 349.5 319.0 349.7 321.7 349.8 324.3 350.0 327.0 350.1 329.7 350.2 332.4 350.3 335.1 350.3 337.8 350.4 340.5 350.4 343.2 350.4 345.9 350.3 348.6 350.3 351.3 350.2 354.0 350.1 356.7 349.9 359.4 349.8 362.1 349.6 364.8 349.4 367.5 349.1 370.2 348.9 372.9 348.6 375.6 348.3 378.2 348.0 380.9 347.7 383.6 347.3 386.3 346.9 388.9 346.5 391.6 346.0 394.3 345.6 396.9 345.1 399.6 344.6 402.2 344.1 404.9 343.5 407.5 342.9 410.1 342.3 412.7 341.7 415.4 341.1 418.0 340.4 420.6 339.7 423.2 339.0 425.8 338.2 428.4 337.5 431.0 336.7 433.5 335.9 436.1 335.1 438.7 334.2 441.2 333.3 443.8 332.4 446.3 331.5 448.9 330.6 451.4 329.6 453.9 328.6 456.4 327.6 458.9 326.6 461.4 325.6 463.9 324.5 466.3 323.4 468.8 322.3 471.2 321.2 473.7 320.0 476.1 318.8 478.5 317.6 480.9 316.4 483.3 315.2 485.7 313.9 488.1 312.6 490.5 311.3 492.8 310.0 495.2 308.7 497.5 307.3 499.8 305.9 502.1 304.5 504.4 303.1 506.7 301.6 509.0 300.2 511.2 298.7 513.4 297.2 515.7 295.7 517.9 294.1 520.1 292.6 522.3 291.0 524.5 289.4 526.6 287.8 528.8 286.1 530.9 284.5 533.0 282.8 535.1 281.1 537.2 279.4 539.3 277.6 541.3 275.9 543.4 274.1 545.4 272.3 547.4 270.5 549.4 268.7 551.4 266.9 553.4 265.0 555.3 263.2 557.2 261.3 559.1 259.4 561.0 257.5 562.9 255.5 564.8 253.6 566.6 251.6 568.5 249.6 570.3 247.6 572.1 245.6 573.8 243.6 575.6 241.5 577.3 239.4 579.1 237.4 580.8 235.3 582.5 233.2 584.1 231.0 585.8 228.9 587.4 226.8 589.0 224.6 590.6 222.4 592.2 220.2 593.7 218.0 595.3 215.8 596.8 213.6 598.3 211.3 599.8 209.0 601.2 206.8 602.7 204.5 604.1 202.2 605.5 199.9 606.8 197.6 608.2 195.2 609.5 192.9 610.8 190.5 612.1 188.1 613.4 185.8 614.7 183.4 615.9 181.0 617.1 178.6 618.3 176.1 619.5 173.7 620.6 171.3 621.7 168.8 622.8 166.3 623.9 163.9 625.0 161.4 626.0 158.9 627.0 156.4 628.0 153.9 629.0 151.4 630.0 148.8 630.9 146.3 631.8 143.8 632.7 141.2 633.6 138.7 634.4 136.1 635.2 133.5 636.0 130.9 636.8 128.3 637.5 125.8 638.3 123.2 639.0 120.6 639.7 117.9 640.3 115.3 641.0 112.7 641.6 110.1 642.2 107.4 642.7 104.8 643.3 102.2 643.8 99.5 644.3 96.8 644.8 94.2 645.2 91.5 645.6 88.9 646.1 86.2 646.4 83.5 646.8 80.8 647.1 78.2 647.4 75.5 647.7 72.8 648.0 70.1 648.2 67.4 648.5 64.7 648.7 62.0 648.8 59.3 649.0 56.7 649.1 54.0 649.2 51.3 649.3 48.6 649.3 45.9 649.4 43.2 649.4 40.5 649.4 37.8 649.3 35.1 649.3 32.4 649.2 29.7 649.1 27.0 648.9 24.3 648.8 21.6 648.6 18.9 648.4 16.2 648.1 13.5 647.9 10.8 647.6 8.1 647.3 5.4 647.0 2.8 646.7 0.1 646.3 -2.6 645.9 -5.3 645.5 -7.9 645.0 -10.6 644.6 -13.3 644.1 -15.9 643.6 -18.6M120.4 -19.5 119.9 -17.6 119.4 -15.6 118.9 -13.7 118.4 -11.8 118.0 -9.8 117.6 -7.9 117.1 -6.0 116.7 -4.0 116.4 -2.1 116.0 -0.1 115.6 1.8 115.3 3.8 115.0 5.8 114.7 7.7 114.4 9.7 114.1 11.7 113.9 13.6 113.7 15.6 113.4 17.6 113.3 19.6 113.1 21.5 112.9 23.5 112.8 25.5 112.6 27.5 112.5 29.5 112.4 31.5 112.4 33.4 112.3 35.4 112.3 37.4 112.2 39.4 112.2 41.4 112.3 43.4 112.3 45.4 112.3 47.4 112.4 49.3 112.5 51.3 112.6 53.3 112.7 55.3 112.8 57.3 113.0 59.3 113.1 61.2 113.3 63.2 113.5 65.2 113.8 67.2 114.0 69.2 114.2 71.1 114.5 73.1 114.8 75.1 115.1 77.0 115.4 79.0 115.8 80.9 116.1 82.9 116.5 84.8 116.9 86.8 117.3 88.7 117.7 90.7 118.2 92.6 118.6 94.6 119.1 96.5 119.6 98.4 120.1 100.3 120.6 102.2 121.2 104.2 121.7 106.1 122.3 108.0 122.9 109.9 123.5 111.8 124.1 113.6 124.8 115.5 125.4 117.4 126.1 119.3 126.8 121.1 127.5 123.0 128.2 124.8 129.0 126.7 129.7 128.5 130.5 130.4 131.3 132.2 132.1 134.0 132.9 135.8 133.8 137.6 134.6 139.4 135.5 141.2 136.4 143.0 137.2 144.8 138.2 146.5 139.1 148.3 140.0 150.0 141.0 151.8 142.0 153.5 143.0 155.2 144.0 156.9 145.0 158.6 146.0 160.3 147.1 162.0 148.1 163.7 149.2 165.4 150.3 167.0 151.4 168.7 152.5 170.3 153.7 172.0 154.8 173.6 156.0 175.2 157.2 176.8 158.3 178.4 159.6 180.0 160.8 181.5 162.0 183.1 163.3 184.6 164.5 186.2 165.8 187.7 167.1 189.2 168.4 190.7 169.7 192.2 171.0 193.7 172.3 195.2 173.7 196.6 175.1 198.1 176.4 199.5 177.8 200.9 179.2 202.3 180.6 203.7 182.1 205.1 183.5 206.5 185.0 207.8 186.4 209.2 187.9 210.5 189.4 211.8 190.9 213.2 192.4 214.4 193.9 215.7 195.4 217.0 197.0 218.3 198.5 219.5 200.1 220.7 201.7 221.9 203.3 223.1 204.8 224.3 206.4 225.5 208.1 226.7 209.7 227.8 211.3 228.9 213.0 230.0 214.6 231.1 216.3 232.2 218.0 233.3 219.6 234.4 221.3 235.4 223.0 236.4 224.7 237.4 226.5 238.4 228.2 239.4 229.9 240.4 231.7 241.3 233.4 242.3 235.2 243.2 237.0 244.1 238.7 245.0 240.5 245.9 242.3 246.7 244.1 247.6 245.9 248.4 247.7 249.2 249.5 250.0 251.4 250.8 253.2 251.6 255.0 252.3 256.9 253.1 258.8 253.8 260.6 254.5 262.5 255.2 264.3 255.8 266.2 256.5 268.1 257.1 270.0 257.7 271.9 258.3 273.8 258.9 275.7 259.5 277.6 260.0 279.5 260.6 281.4 261.1 283.4 261.6 285.3 262.1 287.2 262.6 289.2 263.0 291.1 263.4 293.0 263.9 295.0 264.3 296.9 264.6 298.9 265.0 300.8 265.4 302.8 265.7 304.8 266.0 306.7 266.3 308.7 266.6 310.7 266.9 312.6 267.1 314.6 267.3 316.6 267.6 318.6 267.7 320.5 267.9 322.5 268.1 324.5 268.2 326.5 268.4 328.5 268.5 330.5 268.6 332.4 268.6 334.4 268.7 336.4 268.7 338.4 268.8 340.4 268.8 342.4 268.7 344.4 268.7 346.4 268.7 348.3 268.6 350.3 268.5 352.3 268.4 354.3 268.3 356.3 268.2 358.3 268.0 360.2 267.9 362.2 267.7 364.2 267.5 366.2 267.2 368.2 267.0 370.1 266.8 372.1 266.5 374.1 266.2 376.0 265.9 378.0 265.6 379.9 265.2 381.9 264.9 383.8 264.5 385.8 264.1 387.7 263.7 389.7 263.3 391.6 262.8 393.6 262.4 395.5 261.9 397.4 261.4 399.3 260.9 401.2 260.4 403.2 259.8 405.1 259.3 407.0 258.7 408.9 258.1 410.8 257.5 412.6 256.9 414.5 256.2 416.4 255.6 418.3 254.9 420.1 254.2 422.0 253.5 423.8 252.8 425.7 252.0 427.5 251.3 429.4 250.5 431.2 249.7 433.0 248.9 434.8 248.1 436.6 247.2 438.4 246.4 440.2 245.5 442.0 244.6 443.8 243.8 445.5 242.8 447.3 241.9 449.0 241.0 450.8 240.0 452.5 239.0 454.2 238.0 455.9 237.0 457.6 236.0 459.3 235.0 461.0 233.9 462.7 232.9 464.4 231.8 466.0 230.7 467.7 229.6 469.3 228.5 471.0 227.3 472.6 226.2 474.2 225.0 475.8 223.8 477.4 222.7 479.0 221.4 480.5 220.2 482.1 219.0 483.6 217.7 485.2 216.5 486.7 215.2 488.2 213.9 489.7 212.6 491.2 211.3 492.7 210.0 494.2 208.7 495.6 207.3 497.1 205.9 498.5 204.6 499.9 203.2 501.3 201.8 502.7 200.4 504.1 198.9 505.5 197.5 506.8 196.0 508.2 194.6 509.5 193.1 510.8 191.6 512.2 190.1 513.4 188.6 514.7 187.1 516.0 185.6 517.3 184.0 518.5 182.5 519.7 180.9 520.9 179.3 522.1 177.7 523.3 176.2 524.5 174.6 525.7 172.9 526.8 171.3 527.9 169.7 529.0 168.0 530.1 166.4 531.2 164.7 532.3 163.0 533.4 161.4 534.4 159.7 535.4 158.0 536.4 156.3 537.4 154.5 538.4 152.8 539.4 151.1 540.3 149.3 541.3 147.6 542.2 145.8 543.1 144.0 544.0 142.3 544.9 140.5 545.7 138.7 546.6 136.9 547.4 135.1 548.2 133.3 549.0 131.5 549.8 129.6 550.6 127.8 551.3 126.0 552.1 124.1 552.8 122.2 553.5 120.4 554.2 118.5 554.8 116.7 555.5 114.8 556.1 112.9 556.7 111.0 557.3 109.1 557.9 107.2 558.5 105.3 559.0 103.4 559.6 101.5 560.1 99.6 560.6 97.6 561.1 95.7 561.6 93.8 562.0 91.8 562.4 89.9 562.9 88.0 563.3 86.0 563.6 84.1 564.0 82.1 564.4 80.2 564.7 78.2 565.0 76.2 565.3 74.3 565.6 72.3 565.9 70.3 566.1 68.4 566.3 66.4 566.6 64.4 566.7 62.4 566.9 60.5 567.1 58.5 567.2 56.5 567.4 54.5 567.5 52.5 567.6 50.5 567.6 48.6 567.7 46.6 567.7 44.6 567.8 42.6 567.8 40.6 567.7 38.6 567.7 36.6 567.7 34.6 567.6 32.7 567.5 30.7 567.4 28.7 567.3 26.7 567.2 24.7 567.0 22.7 566.9 20.8 566.7 18.8 566.5 16.8 566.2 14.8 566.0 12.8 565.8 10.9 565.5 8.9 565.2 6.9 564.9 5.0 564.6 3.0 564.2 1.1 563.9 -0.9 563.5 -2.8 563.1 -4.8 562.7 -6.7 562.3 -8.7 561.8 -10.6 561.4 -12.6 560.9 -14.5 560.4 -16.4 559.9 -18.3M203.0 -19.7 202.4 -18.5 201.9 -17.3 201.4 -16.1 200.9 -14.9 200.5 -13.7 200.0 -12.5 199.5 -11.2 199.1 -10.0 198.6 -8.8 198.2 -7.5 197.8 -6.3 197.4 -5.1 197.0 -3.8 196.6 -2.6 196.2 -1.3 195.9 -0.1 195.5 1.2 195.2 2.5 194.8 3.7 194.5 5.0 194.2 6.3 193.9 7.5 193.6 8.8 193.3 10.1 193.1 11.4 192.8 12.7 192.6 13.9 192.4 15.2 192.1 16.5 191.9 17.8 191.7 19.1 191.5 20.4 191.4 21.7 191.2 23.0 191.1 24.3 190.9 25.6 190.8 26.9 190.7 28.2 190.6 29.5 190.5 30.8 190.4 32.1 190.3 33.4 190.3 34.7 190.2 36.0 190.2 37.3 190.1 38.6 190.1 40.0 190.1 41.3 190.1 42.6 190.1 43.9 190.2 45.2 190.2 46.5 190.3 47.8 190.3 49.1 190.4 50.4 190.5 51.7 190.6 53.0 190.7 54.3 190.8 55.6 191.0 56.9 191.1 58.2 191.3 59.5 191.4 60.8 191.6 62.1 191.8 63.4 192.0 64.7 192.2 66.0 192.4 67.3 192.7 68.6 192.9 69.9 193.2 71.1 193.5 72.4 193.7 73.7 194.0 75.0 194.3 76.2 194.6 77.5 195.0 78.8 195.3 80.0 195.6 81.3 196.0 82.6 196.4 83.8 196.7 85.1 197.1 86.3 197.5 87.6 198.0 88.8 198.4 90.0 198.8 91.3 199.3 92.5 199.7 93.7 200.2 95.0 200.6 96.2 201.1 97.4 201.6 98.6 202.1 99.8 202.7 101.0 203.2 102.2 203.7 103.4 204.3 104.6 204.8 105.8 205.4 106.9 206.0 108.1 206.6 109.3 207.2 110.4 207.8 111.6 208.4 112.7 209.0 113.9 209.7 115.0 210.3 116.2 211.0 117.3 211.7 118.4 212.3 119.5 213.0 120.6 213.7 121.7 214.4 122.8 215.2 123.9 215.9 125.0 216.6 126.1 217.4 127.2 218.1 128.2 218.9 129.3 219.7 130.4 220.5 131.4 221.3 132.4 222.1 133.5 222.9 134.5 223.7 135.5 224.5 136.5 225.4 137.5 226.2 138.5 227.1 139.5 227.9 140.5 228.8 141.5 229.7 142.4 230.6 143.4 231.5 144.4 232.4 145.3 233.3 146.2 234.2 147.2 235.1 148.1 236.1 149.0 237.0 149.9 238.0 150.8 238.9 151.7 239.9 152.6 240.9 153.4 241.9 154.3 242.9 155.1 243.9 156.0 244.9 156.8 245.9 157.6 246.9 158.5 247.9 159.3 249.0 160.1 250.0 160.9 251.1 161.6 252.1 162.4 253.2 163.2 254.2 163.9 255.3 164.7 256.4 165.4 257.5 166.1 258.6 166.8 259.7 167.5 260.8 168.2 261.9 168.9 263.0 169.6 264.2 170.3 265.3 170.9 266.4 171.6 267.6 172.2 268.7 172.8 269.9 173.5 271.0 174.1 272.2 174.7 273.4 175.2 274.5 175.8 275.7 176.4 276.9 176.9 278.1 177.5 279.3 178.0 280.5 178.6 281.7 179.1 282.9 179.6 284.1 180.1 285.3 180.5 286.5 181.0 287.8 181.5 289.0 181.9 290.2 182.4 291.5 182.8 292.7 183.2 293.9 183.6 295.2 184.0 296.4 184.4 297.7 184.8 298.9 185.1 300.2 185.5 301.5 185.8 302.7 186.2 304.0 186.5 305.3 186.8 306.5 187.1 307.8 187.4 309.1 187.7 310.4 187.9 311.7 188.2 312.9 188.4 314.2 188.6 315.5 188.9 316.8 189.1 318.1 189.3 319.4 189.5 320.7 189.6 322.0 189.8 323.3 189.9 324.6 190.1 325.9 190.2 327.2 190.3 328.5 190.4 329.8 190.5 331.1 190.6 332.4 190.7 333.7 190.7 335.0 190.8 336.3 190.8 337.6 190.9 339.0 190.9 340.3 190.9 341.6 190.9 342.9 190.9 344.2 190.8 345.5 190.8 346.8 190.7 348.1 190.7 349.4 190.6 350.7 190.5 352.0 190.4 353.3 190.3 354.6 190.2 355.9 190.0 357.2 189.9 358.5 189.7 359.8 189.6 361.1 189.4 362.4 189.2 363.7 189.0 365.0 188.8 366.3 188.6 367.6 188.3 368.9 188.1 370.1 187.8 371.4 187.5 372.7 187.3 374.0 187.0 375.2 186.7 376.5 186.4 377.8 186.0 379.0 185.7 380.3 185.4 381.6 185.0 382.8 184.6 384.1 184.3 385.3 183.9 386.6 183.5 387.8 183.0 389.0 182.6 390.3 182.2 391.5 181.7 392.7 181.3 394.0 180.8 395.2 180.4 396.4 179.9 397.6 179.4 398.8 178.9 400.0 178.3 401.2 177.8 402.4 177.3 403.6 176.7 404.8 176.2 405.9 175.6 407.1 175.0 408.3 174.4 409.4 173.8 410.6 173.2 411.7 172.6 412.9 172.0 414.0 171.3 415.2 170.7 416.3 170.0 417.4 169.3 418.5 168.7 419.6 168.0 420.7 167.3 421.8 166.6 422.9 165.8 424.0 165.1 425.1 164.4 426.2 163.6 427.2 162.9 428.3 162.1 429.4 161.3 430.4 160.5 431.4 159.7 432.5 158.9 433.5 158.1 434.5 157.3 435.5 156.5 436.5 155.6 437.5 154.8 438.5 153.9 439.5 153.1 440.5 152.2 441.4 151.3 442.4 150.4 443.4 149.5 444.3 148.6 445.2 147.7 446.2 146.8 447.1 145.9 448.0 144.9 448.9 144.0 449.8 143.0 450.7 142.1 451.6 141.1 452.4 140.1 453.3 139.1 454.1 138.1 455.0 137.1 455.8 136.1 456.6 135.1 457.5 134.1 458.3 133.1 459.1 132.0 459.9 131.0 460.6 129.9 461.4 128.9 462.2 127.8 462.9 126.8 463.7 125.7 464.4 124.6 465.1 123.5 465.8 122.4 466.5 121.3 467.2 120.2 467.9 119.1 468.6 118.0 469.3 116.8 469.9 115.7 470.6 114.6 471.2 113.4 471.8 112.3 472.5 111.1 473.1 110.0 473.7 108.8 474.2 107.6 474.8 106.5 475.4 105.3 475.9 104.1 476.5 102.9 477.0 101.7 477.6 100.5 478.1 99.3 478.6 98.1 479.1 96.9 479.5 95.7 480.0 94.5 480.5 93.2 480.9 92.0 481.4 90.8 481.8 89.5 482.2 88.3 482.6 87.1 483.0 85.8 483.4 84.6 483.8 83.3 484.1 82.1 484.5 80.8 484.8 79.5 485.2 78.3 485.5 77.0 485.8 75.7 486.1 74.5 486.4 73.2 486.7 71.9 486.9 70.6 487.2 69.3 487.4 68.1 487.6 66.8 487.9 65.5 488.1 64.2 488.3 62.9 488.5 61.6 488.6 60.3 488.8 59.0 488.9 57.7 489.1 56.4 489.2 55.1 489.3 53.8 489.4 52.5 489.5 51.2 489.6 49.9 489.7 48.6 489.7 47.3 489.8 46.0 489.8 44.7 489.9 43.4 489.9 42.0 489.9 40.7 489.9 39.4 489.9 38.1 489.8 36.8 489.8 35.5 489.7 34.2 489.7 32.9 489.6 31.6 489.5 30.3 489.4 29.0 489.3 27.7 489.2 26.4 489.0 25.1 488.9 23.8 488.7 22.5 488.6 21.2 488.4 19.9 488.2 18.6 488.0 17.3 487.8 16.0 487.6 14.7 487.3 13.4 487.1 12.1 486.8 10.9 486.5 9.6 486.3 8.3 486.0 7.0 485.7 5.8 485.4 4.5 485.0 3.2 484.7 2.0 484.4 0.7 484.0 -0.6 483.6 -1.8 483.3 -3.1 482.9 -4.3 482.5 -5.6 482.0 -6.8 481.6 -8.0 481.2 -9.3 480.7 -10.5 480.3 -11.7 479.8 -13.0 479.4 -14.2 478.9 -15.4 478.4 -16.6 477.9 -17.8 477.3 -19.0M293.6 -17.1 293.1 -16.7 292.6 -16.3 292.1 -15.9 291.6 -15.5 291.1 -15.0 290.6 -14.6 290.1 -14.2 289.7 -13.7 289.2 -13.3 288.7 -12.9 288.2 -12.4 287.8 -12.0 287.3 -11.5 286.9 -11.0 286.4 -10.6 286.0 -10.1 285.5 -9.6 285.1 -9.1 284.6 -8.7 284.2 -8.2 283.8 -7.7 283.4 -7.2 282.9 -6.7 282.5 -6.2 282.1 -5.7 281.7 -5.2 281.3 -4.7 280.9 -4.2 280.5 -3.7 280.1 -3.1 279.8 -2.6 279.4 -2.1 279.0 -1.5 278.6 -1.0 278.3 -0.5 277.9 0.1 277.6 0.6 277.2 1.2 276.9 1.7 276.5 2.3 276.2 2.8 275.9 3.4 275.5 3.9 275.2 4.5 274.9 5.1 274.6 5.6 274.3 6.2 274.0 6.8 273.7 7.4 273.4 7.9 273.1 8.5 272.8 9.1 272.5 9.7 272.3 10.3 272.0 10.9 271.8 11.5 271.5 12.1 271.2 12.7 271.0 13.3 270.8 13.9 270.5 14.5 270.3 15.1 270.1 15.7 269.9 16.3 269.6 16.9 269.4 17.5 269.2 18.1 269.0 18.8 268.8 19.4 268.7 20.0 268.5 20.6 268.3 21.3 268.1 21.9 268.0 22.5 267.8 23.1 267.7 23.8 267.5 24.4 267.4 25.0 267.2 25.7 267.1 26.3 267.0 26.9 266.9 27.6 266.7 28.2 266.6 28.9 266.5 29.5 266.4 30.1 266.3 30.8 266.3 31.4 266.2 32.1 266.1 32.7 266.0 33.4 266.0 34.0 265.9 34.6 265.9 35.3 265.8 35.9 265.8 36.6 265.7 37.2 265.7 37.9 265.7 38.5 265.7 39.2 265.6 39.8 265.6 40.5 265.6 41.1 265.6 41.8 265.6 42.4 265.7 43.1 265.7 43.7 265.7 44.4 265.7 45.0 265.8 45.7 265.8 46.3 265.9 47.0 265.9 47.6 266.0 48.3 266.1 48.9 266.1 49.5 266.2 50.2 266.3 50.8 266.4 51.5 266.5 52.1 266.6 52.8 266.7 53.4 266.8 54.0 266.9 54.7 267.0 55.3 267.2 56.0 267.3 56.6 267.4 57.2 267.6 57.9 267.7 58.5 267.9 59.1 268.0 59.7 268.2 60.4 268.4 61.0 268.6 61.6 268.7 62.2 268.9 62.9 269.1 63.5 269.3 64.1 269.5 64.7 269.7 65.3 269.9 65.9 270.2 66.6 270.4 67.2 270.6 67.8 270.9 68.4 271.1 69.0 271.3 69.6 271.6 70.2 271.9 70.8 272.1 71.4 272.4 72.0 272.7 72.5 272.9 73.1 273.2 73.7 273.5 74.3 273.8 74.9 274.1 75.5 274.4 76.0 274.7 76.6 275.0 77.2 275.3 77.7 275.7 78.3 276.0 78.9 276.3 79.4 276.7 80.0 277.0 80.5 277.4 81.1 277.7 81.6 278.1 82.2 278.4 82.7 278.8 83.2 279.2 83.8 279.5 84.3 279.9 84.8 280.3 85.3 280.7 85.9 281.1 86.4 281.5 86.9 281.9 87.4 282.3 87.9 282.7 88.4 283.1 88.9 283.5 89.4 284.0 89.9 284.4 90.4 284.8 90.9 285.3 91.3 285.7 91.8 286.1 92.3 286.6 92.8 287.0 93.2 287.5 93.7 288.0 94.1 288.4 94.6 288.9 95.0 289.4 95.5 289.9 95.9 290.3 96.4 290.8 96.8 291.3 97.2 291.8 97.6 292.3 98.1 292.8 98.5 293.3 98.9 293.8 99.3 294.3 99.7 294.8 100.1 295.3 100.5 295.9 100.9 296.4 101.2 296.9 101.6 297.5 102.0 298.0 102.4 298.5 102.7 299.1 103.1 299.6 103.4 300.2 103.8 300.7 104.1 301.3 104.5 301.8 104.8 302.4 105.1 302.9 105.5 303.5 105.8 304.1 106.1 304.6 106.4 305.2 106.7 305.8 107.0 306.4 107.3 306.9 107.6 307.5 107.9 308.1 108.2 308.7 108.5 309.3 108.7 309.9 109.0 310.5 109.2 311.1 109.5 311.7 109.8 312.3 110.0 312.9 110.2 313.5 110.5 314.1 110.7 314.7 110.9 315.3 111.1 315.9 111.4 316.5 111.6 317.1 111.8 317.8 112.0 318.4 112.2 319.0 112.3 319.6 112.5 320.3 112.7 320.9 112.9 321.5 113.0 322.1 113.2 322.8 113.3 323.4 113.5 324.0 113.6 324.7 113.8 325.3 113.9 325.9 114.0 326.6 114.1 327.2 114.3 327.9 114.4 328.5 114.5 329.1 114.6 329.8 114.7 330.4 114.7 331.1 114.8 331.7 114.9 332.4 115.0 333.0 115.0 333.6 115.1 334.3 115.1 334.9 115.2 335.6 115.2 336.2 115.3 336.9 115.3 337.5 115.3 338.2 115.3 338.8 115.4 339.5 115.4 340.1 115.4 340.8 115.4 341.4 115.4 342.1 115.3 342.7 115.3 343.4 115.3 344.0 115.3 344.7 115.2 345.3 115.2 346.0 115.1 346.6 115.1 347.3 115.0 347.9 114.9 348.5 114.9 349.2 114.8 349.8 114.7 350.5 114.6 351.1 114.5 351.8 114.4 352.4 114.3 353.0 114.2 353.7 114.1 354.3 114.0 355.0 113.8 355.6 113.7 356.2 113.6 356.9 113.4 357.5 113.3 358.1 113.1 358.7 113.0 359.4 112.8 360.0 112.6 360.6 112.4 361.2 112.3 361.9 112.1 362.5 111.9 363.1 111.7 363.7 111.5 364.3 111.3 364.9 111.1 365.6 110.8 366.2 110.6 366.8 110.4 367.4 110.1 368.0 109.9 368.6 109.7 369.2 109.4 369.8 109.1 370.4 108.9 371.0 108.6 371.5 108.3 372.1 108.1 372.7 107.8 373.3 107.5 373.9 107.2 374.5 106.9 375.0 106.6 375.6 106.3 376.2 106.0 376.7 105.7 377.3 105.3 377.9 105.0 378.4 104.7 379.0 104.3 379.5 104.0 380.1 103.6 380.6 103.3 381.2 102.9 381.7 102.6 382.2 102.2 382.8 101.8 383.3 101.5 383.8 101.1 384.3 100.7 384.9 100.3 385.4 99.9 385.9 99.5 386.4 99.1 386.9 98.7 387.4 98.3 387.9 97.9 388.4 97.5 388.9 97.0 389.4 96.6 389.9 96.2 390.3 95.7 390.8 95.3 391.3 94.9 391.8 94.4 392.2 94.0 392.7 93.5 393.1 93.0 393.6 92.6 394.0 92.1 394.5 91.6 394.9 91.1 395.4 90.7 395.8 90.2 396.2 89.7 396.6 89.2 397.1 88.7 397.5 88.2 397.9 87.7 398.3 87.2 398.7 86.7 399.1 86.2 399.5 85.7 399.9 85.1 400.2 84.6 400.6 84.1 401.0 83.5 401.4 83.0 401.7 82.5 402.1 81.9 402.4 81.4 402.8 80.8 403.1 80.3 403.5 79.7 403.8 79.2 404.1 78.6 404.5 78.1 404.8 77.5 405.1 76.9 405.4 76.4 405.7 75.8 406.0 75.2 406.3 74.6 406.6 74.1 406.9 73.5 407.2 72.9 407.5 72.3 407.7 71.7 408.0 71.1 408.2 70.5 408.5 69.9 408.8 69.3 409.0 68.7 409.2 68.1 409.5 67.5 409.7 66.9 409.9 66.3 410.1 65.7 410.4 65.1 410.6 64.5 410.8 63.9 411.0 63.2 411.2 62.6 411.3 62.0 411.5 61.4 411.7 60.7 411.9 60.1 412.0 59.5 412.2 58.9 412.3 58.2 412.5 57.6 412.6 57.0 412.8 56.3 412.9 55.7 413.0 55.1 413.1 54.4 413.3 53.8 413.4 53.1 413.5 52.5 413.6 51.9 413.7 51.2 413.7 50.6 413.8 49.9 413.9 49.3 414.0 48.6 414.0 48.0 414.1 47.4 414.1 46.7 414.2 46.1 414.2 45.4 414.3 44.8 414.3 44.1 414.3 43.5 414.3 42.8 414.4 42.2 414.4 41.5 414.4 40.9 414.4 40.2 414.4 39.6 414.3 38.9 414.3 38.3 414.3 37.6 414.3 37.0 414.2 36.3 414.2 35.7 414.1 35.0 414.1 34.4 414.0 33.7 413.9 33.1 413.9 32.5 413.8 31.8 413.7 31.2 413.6 30.5 413.5 29.9 413.4 29.2 413.3 28.6 413.2 28.0 413.1 27.3 413.0 26.7 412.8 26.0 412.7 25.4 412.6 24.8 412.4 24.1 412.3 23.5 412.1 22.9 412.0 22.3 411.8 21.6 411.6 21.0 411.4 20.4 411.3 19.8 411.1 19.1 410.9 18.5 410.7 17.9 410.5 17.3 410.3 16.7 410.1 16.1 409.8 15.4 409.6 14.8 409.4 14.2 409.1 13.6 408.9 13.0 408.7 12.4 408.4 11.8 408.1 11.2 407.9 10.6 407.6 10.0 407.3 9.5 407.1 8.9 406.8 8.3 406.5 7.7 406.2 7.1 405.9 6.5 405.6 6.0 405.3 5.4 405.0 4.8 404.7 4.3 404.3 3.7 404.0 3.1 403.7 2.6 403.3 2.0 403.0 1.5 402.6 0.9 402.3 0.4 401.9 -0.2 401.6 -0.7 401.2 -1.2 400.8 -1.8 400.5 -2.3 400.1 -2.8 399.7 -3.3 399.3 -3.9 398.9 -4.4 398.5 -4.9 398.1 -5.4 397.7 -5.9 397.3 -6.4 396.9 -6.9 396.5 -7.4 396.0 -7.9 395.6 -8.4 395.2 -8.9 394.7 -9.3 394.3 -9.8 393.9 -10.3 393.4 -10.8 393.0 -11.2 392.5 -11.7 392.0 -12.1 391.6 -12.6 391.1 -13.0 390.6 -13.5 390.1 -13.9 389.7 -14.4 389.2 -14.8 388.7 -15.2 388.2 -15.6 387.7 -16.1 387.2 -16.5 386.7 -16.9 386.2 -17.3 385.7 -17.7 385.2 -18.1 384.7 -18.5 384.1 -18.9 383.6 -19.2 383.1 -19.6 382.5 -20.0M-16.3 32.3 -12.0 32.4 -7.6 32.5 -3.3 32.6 1.0 32.7 5.3 32.8 9.6 32.9 13.8 33.0 18.1 33.1 22.3 33.2 26.5 33.3 30.7 33.4 34.9 33.5 39.1 33.6 43.3 33.7 47.4 33.8 51.6 34.0 55.7 34.1 59.8 34.2 63.9 34.3 68.0 34.4 72.1 34.5 76.1 34.6 80.2 34.7 84.3 34.7 88.3 34.8 92.3 34.9 96.3 35.0 100.3 35.1 104.3 35.2 108.3 35.3 112.3 35.4 116.3 35.5 120.2 35.6 124.2 35.7 128.1 35.8 132.1 35.9 136.0 36.0 139.9 36.1 143.8 36.2 147.7 36.3 151.6 36.4 155.5 36.5 159.4 36.6 163.3 36.7 167.1 36.8 171.0 36.9 174.8 37.0 178.7 37.1 182.5 37.2 186.3 37.2 190.2 37.3 194.0 37.4 197.8 37.5 201.6 37.6 205.4 37.7 209.2 37.8 213.0 37.9 216.8 38.0 220.6 38.1 224.4 38.2 228.1 38.3 231.9 38.4 235.7 38.5 239.4 38.5 243.2 38.6 246.9 38.7 250.7 38.8 254.4 38.9 258.2 39.0 261.9 39.1 265.7 39.2 269.4 39.3 273.1 39.4 276.9 39.5 280.6 39.5 284.3 39.6 288.0 39.7 291.7 39.8 295.5 39.9 299.2 40.0 302.9 40.1 306.6 40.2 310.3 40.3 314.0 40.4 317.7 40.5 321.5 40.5 325.2 40.6 328.9 40.7 332.6 40.8 336.3 40.9 340.0 41.0M-16.7 95.0 -12.4 94.3 -8.1 93.6 -3.8 93.0 0.4 92.4 4.7 91.7 8.9 91.1 13.2 90.4 17.4 89.8 21.6 89.2 25.8 88.5 29.9 87.9 34.1 87.3 38.3 86.6 42.4 86.0 46.5 85.4 50.6 84.8 54.7 84.1 58.8 83.5 62.9 82.9 66.9 82.3 71.0 81.7 75.0 81.1 79.0 80.5 83.1 79.9 87.1 79.3 91.0 78.7 95.0 78.0 99.0 77.4 103.0 76.8 106.9 76.2 110.9 75.7 114.8 75.1 118.7 74.5 122.6 73.9 126.6 73.3 130.5 72.7 134.3 72.1 138.2 71.5 142.1 70.9 146.0 70.3 149.8 69.8 153.7 69.2 157.5 68.6 161.4 68.0 165.2 67.4 169.0 66.9 172.8 66.3 176.6 65.7 180.4 65.1 184.2 64.6 188.0 64.0 191.8 63.4 195.6 62.8 199.4 62.3 203.1 61.7 206.9 61.1 210.6 60.6 214.4 60.0 218.1 59.4 221.9 58.9 225.6 58.3 229.4 57.7 233.1 57.2 236.8 56.6 240.5 56.0 244.2 55.5 248.0 54.9 251.7 54.4 255.4 53.8 259.1 53.2 262.8 52.7 266.5 52.1 270.2 51.6 273.9 51.0 277.5 50.4 281.2 49.9 284.9 49.3 288.6 48.8 292.3 48.2 296.0 47.7 299.6 47.1 303.3 46.5 307.0 46.0 310.7 45.4 314.3 44.9 318.0 44.3 321.7 43.8 325.3 43.2 329.0 42.7 332.7 42.1 336.3 41.6 340.0 41.0M-18.7 161.7 -14.5 160.3 -10.3 158.9 -6.1 157.5 -2.0 156.1 2.2 154.7 6.3 153.3 10.4 151.9 14.5 150.5 18.6 149.2 22.7 147.8 26.7 146.4 30.8 145.1 34.8 143.7 38.8 142.4 42.8 141.0 46.8 139.7 50.8 138.3 54.7 137.0 58.7 135.7 62.6 134.4 66.5 133.0 70.4 131.7 74.4 130.4 78.2 129.1 82.1 127.8 86.0 126.5 89.9 125.2 93.7 123.9 97.5 122.6 101.4 121.3 105.2 120.0 109.0 118.7 112.8 117.5 116.6 116.2 120.4 114.9 124.1 113.6 127.9 112.4 131.7 111.1 135.4 109.9 139.1 108.6 142.9 107.3 146.6 106.1 150.3 104.8 154.0 103.6 157.7 102.3 161.4 101.1 165.1 99.9 168.8 98.6 172.4 97.4 176.1 96.2 179.8 94.9 183.4 93.7 187.1 92.5 190.7 91.2 194.3 90.0 198.0 88.8 201.6 87.6 205.2 86.4 208.8 85.2 212.4 83.9 216.0 82.7 219.6 81.5 223.2 80.3 226.8 79.1 230.4 77.9 233.9 76.7 237.5 75.5 241.1 74.3 244.7 73.1 248.2 71.9 251.8 70.7 255.3 69.5 258.9 68.3 262.4 67.1 266.0 65.9 269.5 64.7 273.1 63.5 276.6 62.3 280.1 61.1 283.7 60.0 287.2 58.8 290.7 57.6 294.3 56.4 297.8 55.2 301.3 54.0 304.8 52.8 308.3 51.7 311.9 50.5 315.4 49.3 318.9 48.1 322.4 46.9 325.9 45.7 329.5 44.5 333.0 43.4 336.5 42.2 340.0 41.0M-20.0 237.3 -16.0 235.1 -12.0 232.9 -8.0 230.7 -4.0 228.6 -0.1 226.4 3.8 224.3 7.7 222.2 11.6 220.0 15.5 217.9 19.4 215.8 23.2 213.7 27.1 211.6 30.9 209.5 34.7 207.5 38.5 205.4 42.3 203.3 46.0 201.3 49.8 199.2 53.5 197.2 57.3 195.2 61.0 193.1 64.7 191.1 68.4 189.1 72.1 187.1 75.7 185.1 79.4 183.1 83.0 181.1 86.7 179.1 90.3 177.1 93.9 175.2 97.5 173.2 101.1 171.2 104.7 169.3 108.3 167.3 111.8 165.4 115.4 163.5 118.9 161.5 122.5 159.6 126.0 157.7 129.5 155.8 133.0 153.8 136.5 151.9 140.0 150.0 143.5 148.1 147.0 146.2 150.5 144.3 153.9 142.4 157.4 140.6 160.8 138.7 164.3 136.8 167.7 134.9 171.1 133.1 174.6 131.2 178.0 129.3 181.4 127.5 184.8 125.6 188.2 123.8 191.6 121.9 194.9 120.1 198.3 118.3 201.7 116.4 205.0 114.6 208.4 112.7 211.8 110.9 215.1 109.1 218.5 107.3 221.8 105.4 225.1 103.6 228.5 101.8 231.8 100.0 235.1 98.2 238.4 96.4 241.7 94.6 245.1 92.8 248.4 91.0 251.7 89.2 255.0 87.4 258.3 85.6 261.6 83.8 264.9 82.0 268.1 80.2 271.4 78.4 274.7 76.6 278.0 74.8 281.3 73.0 284.5 71.2 287.8 69.5 291.1 67.7 294.4 65.9 297.6 64.1 300.9 62.3 304.2 60.5 307.4 58.8 310.7 57.0 313.9 55.2 317.2 53.4 320.5 51.7 323.7 49.9 327.0 48.1 330.2 46.3 333.5 44.6 336.7 42.8 340.0 41.0M-16.9 325.9 -13.2 323.0 -9.5 320.0 -5.8 317.1 -2.1 314.1 1.5 311.2 5.2 308.3 8.8 305.4 12.4 302.5 16.0 299.6 19.6 296.8 23.1 293.9 26.7 291.1 30.2 288.3 33.8 285.5 37.3 282.7 40.8 279.9 44.2 277.1 47.7 274.3 51.2 271.6 54.6 268.8 58.0 266.1 61.4 263.4 64.8 260.7 68.2 258.0 71.6 255.3 75.0 252.6 78.3 249.9 81.7 247.2 85.0 244.6 88.3 241.9 91.6 239.3 94.9 236.6 98.2 234.0 101.5 231.4 104.8 228.8 108.0 226.2 111.3 223.6 114.5 221.0 117.7 218.4 120.9 215.9 124.2 213.3 127.4 210.7 130.5 208.2 133.7 205.7 136.9 203.1 140.1 200.6 143.2 198.1 146.4 195.6 149.5 193.1 152.7 190.6 155.8 188.1 158.9 185.6 162.0 183.1 165.1 180.6 168.2 178.1 171.3 175.7 174.4 173.2 177.4 170.8 180.5 168.3 183.6 165.9 186.6 163.4 189.7 161.0 192.7 158.6 195.8 156.1 198.8 153.7 201.8 151.3 204.8 148.9 207.9 146.5 210.9 144.1 213.9 141.7 216.9 139.3 219.9 136.9 222.9 134.5 225.9 132.1 228.8 129.7 231.8 127.4 234.8 125.0 237.8 122.6 240.7 120.3 243.7 117.9 246.6 115.5 249.6 113.2 252.5 110.8 255.5 108.5 258.4 106.1 261.4 103.8 264.3 101.4 267.2 99.1 270.2 96.7 273.1 94.4 276.0 92.1 279.0 89.7 281.9 87.4 284.8 85.1 287.7 82.7 290.6 80.4 293.5 78.1 296.5 75.8 299.4 73.4 302.3 71.1 305.2 68.8 308.1 66.5 311.0 64.2 313.9 61.8 316.8 59.5 319.7 57.2 322.6 54.9 325.5 52.6 328.4 50.3 331.3 47.9 334.2 45.6 337.1 43.3 340.0 41.0M-18.1 447.2 -14.7 443.3 -11.2 439.4 -7.8 435.6 -4.5 431.7 -1.1 427.9 2.2 424.1 5.6 420.3 8.9 416.6 12.2 412.8 15.5 409.1 18.7 405.4 22.0 401.7 25.2 398.1 28.4 394.4 31.6 390.8 34.8 387.2 38.0 383.6 41.1 380.0 44.3 376.5 47.4 372.9 50.5 369.4 53.6 365.9 56.7 362.4 59.7 358.9 62.8 355.4 65.8 352.0 68.9 348.5 71.9 345.1 74.9 341.7 77.9 338.3 80.9 334.9 83.8 331.6 86.8 328.2 89.7 324.9 92.7 321.5 95.6 318.2 98.5 314.9 101.4 311.6 104.3 308.4 107.2 305.1 110.0 301.8 112.9 298.6 115.7 295.4 118.6 292.2 121.4 288.9 124.2 285.7 127.0 282.6 129.8 279.4 132.6 276.2 135.4 273.1 138.2 269.9 140.9 266.8 143.7 263.7 146.4 260.5 149.2 257.4 151.9 254.3 154.6 251.2 157.4 248.2 160.1 245.1 162.8 242.0 165.5 239.0 168.1 235.9 170.8 232.9 173.5 229.9 176.2 226.8 178.8 223.8 181.5 220.8 184.1 217.8 186.7 214.8 189.4 211.8 192.0 208.9 194.6 205.9 197.2 202.9 199.8 200.0 202.5 197.0 205.0 194.1 207.6 191.1 210.2 188.2 212.8 185.3 215.4 182.4 218.0 179.4 220.5 176.5 223.1 173.6 225.6 170.7 228.2 167.8 230.7 164.9 233.3 162.1 235.8 159.2 238.4 156.3 240.9 153.4 243.4 150.6 245.9 147.7 248.5 144.8 251.0 142.0 253.5 139.1 256.0 136.3 258.5 133.4 261.0 130.6 263.5 127.8 266.0 124.9 268.5 122.1 271.0 119.3 273.5 116.5 276.0 113.6 278.4 110.8 280.9 108.0 283.4 105.2 285.9 102.4 288.3 99.6 290.8 96.8 293.3 94.0 295.8 91.2 298.2 88.4 300.7 85.6 303.2 82.8 305.6 80.0 308.1 77.2 310.5 74.4 313.0 71.6 315.5 68.8 317.9 66.1 320.4 63.3 322.8 60.5 325.3 57.7 327.7 54.9 330.2 52.1 332.6 49.3 335.1 46.6 337.5 43.8 340.0 41.0M29.9 549.0 32.8 544.3 35.6 539.6 38.5 535.0 41.3 530.4 44.1 525.8 46.9 521.2 49.6 516.7 52.4 512.2 55.1 507.7 57.9 503.2 60.6 498.8 63.3 494.4 66.0 490.0 68.6 485.6 71.3 481.3 73.9 476.9 76.5 472.6 79.1 468.4 81.7 464.1 84.3 459.9 86.9 455.7 89.4 451.5 92.0 447.3 94.5 443.2 97.0 439.0 99.5 434.9 102.0 430.8 104.5 426.8 107.0 422.7 109.5 418.7 111.9 414.7 114.4 410.7 116.8 406.7 119.2 402.7 121.6 398.8 124.0 394.9 126.4 390.9 128.8 387.1 131.1 383.2 133.5 379.3 135.8 375.5 138.2 371.6 140.5 367.8 142.8 364.0 145.1 360.2 147.4 356.5 149.7 352.7 152.0 349.0 154.3 345.2 156.6 341.5 158.8 337.8 161.1 334.1 163.3 330.5 165.6 326.8 167.8 323.1 170.0 319.5 172.2 315.9 174.4 312.3 176.6 308.7 178.8 305.1 181.0 301.5 183.2 297.9 185.3 294.4 187.5 290.8 189.7 287.3 191.8 283.8 194.0 280.2 196.1 276.7 198.2 273.2 200.4 269.8 202.5 266.3 204.6 262.8 206.7 259.4 208.8 255.9 210.9 252.5 213.0 249.0 215.1 245.6 217.2 242.2 219.3 238.8 221.3 235.4 223.4 232.0 225.5 228.6 227.5 225.3 229.6 221.9 231.6 218.5 233.7 215.2 235.7 211.8 237.8 208.5 239.8 205.2 241.8 201.8 243.8 198.5 245.9 195.2 247.9 191.9 249.9 188.6 251.9 185.3 253.9 182.0 255.9 178.7 257.9 175.5 259.9 172.2 261.9 168.9 263.9 165.7 265.9 162.4 267.9 159.2 269.9 155.9 271.8 152.7 273.8 149.4 275.8 146.2 277.8 143.0 279.7 139.7 281.7 136.5 283.7 133.3 285.6 130.1 287.6 126.9 289.5 123.7 291.5 120.5 293.5 117.3 295.4 114.1 297.4 110.9 299.3 107.7 301.3 104.5 303.2 101.3 305.1 98.1 307.1 94.9 309.0 91.7 311.0 88.6 312.9 85.4 314.9 82.2 316.8 79.0 318.7 75.8 320.7 72.7 322.6 69.5 324.5 66.3 326.5 63.2 328.4 60.0 330.3 56.8 332.3 53.7 334.2 50.5 336.1 47.3 338.1 44.2 340.0 41.0M128.8 579.8 130.8 574.8 132.8 569.8 134.7 564.8 136.7 559.9 138.6 554.9 140.5 550.0 142.4 545.2 144.3 540.3 146.2 535.5 148.1 530.7 149.9 526.0 151.8 521.2 153.6 516.5 155.5 511.8 157.3 507.2 159.1 502.5 160.9 497.9 162.7 493.3 164.5 488.8 166.3 484.2 168.1 479.7 169.8 475.2 171.6 470.7 173.4 466.2 175.1 461.8 176.8 457.4 178.5 453.0 180.3 448.6 182.0 444.2 183.7 439.9 185.4 435.6 187.1 431.3 188.7 427.0 190.4 422.7 192.1 418.5 193.7 414.2 195.4 410.0 197.0 405.8 198.7 401.7 200.3 397.5 201.9 393.4 203.5 389.2 205.1 385.1 206.8 381.0 208.4 376.9 209.9 372.9 211.5 368.8 213.1 364.8 214.7 360.7 216.3 356.7 217.8 352.7 219.4 348.8 220.9 344.8 222.5 340.8 224.0 336.9 225.6 333.0 227.1 329.0 228.6 325.1 230.2 321.2 231.7 317.4 233.2 313.5 234.7 309.6 236.2 305.8 237.7 302.0 239.2 298.1 240.7 294.3 242.2 290.5 243.7 286.7 245.2 283.0 246.7 279.2 248.1 275.4 249.6 271.7 251.1 267.9 252.5 264.2 254.0 260.5 255.4 256.8 256.9 253.1 258.3 249.4 259.8 245.7 261.2 242.0 262.7 238.3 264.1 234.7 265.5 231.0 267.0 227.3 268.4 223.7 269.8 220.1 271.2 216.4 272.7 212.8 274.1 209.2 275.5 205.6 276.9 202.0 278.3 198.4 279.7 194.8 281.1 191.3 282.5 187.7 283.9 184.1 285.3 180.5 286.7 177.0 288.1 173.4 289.5 169.9 290.9 166.3 292.3 162.8 293.6 159.3 295.0 155.7 296.4 152.2 297.8 148.7 299.2 145.2 300.5 141.7 301.9 138.2 303.3 134.7 304.7 131.2 306.0 127.7 307.4 124.2 308.8 120.7 310.1 117.2 311.5 113.7 312.9 110.2 314.2 106.8 315.6 103.3 317.0 99.8 318.3 96.3 319.7 92.9 321.0 89.4 322.4 85.9 323.7 82.5 325.1 79.0 326.5 75.6 327.8 72.1 329.2 68.6 330.5 65.2 331.9 61.7 333.2 58.3 334.6 54.8 335.9 51.4 337.3 47.9 338.6 44.5 340.0 41.0M231.9 577.0 233.0 571.8 234.0 566.7 235.0 561.7 236.0 556.6 237.0 551.6 238.0 546.6 239.1 541.7 240.0 536.7 241.0 531.8 242.0 526.9 243.0 522.1 244.0 517.2 244.9 512.4 245.9 507.6 246.9 502.9 247.8 498.1 248.8 493.4 249.7 488.7 250.7 484.0 251.6 479.4 252.5 474.8 253.5 470.1 254.4 465.6 255.3 461.0 256.2 456.4 257.1 451.9 258.1 447.4 259.0 442.9 259.9 438.4 260.8 434.0 261.7 429.5 262.5 425.1 263.4 420.7 264.3 416.3 265.2 412.0 266.1 407.6 266.9 403.3 267.8 399.0 268.7 394.7 269.5 390.4 270.4 386.1 271.3 381.9 272.1 377.6 273.0 373.4 273.8 369.2 274.7 365.0 275.5 360.8 276.3 356.7 277.2 352.5 278.0 348.4 278.8 344.3 279.7 340.2 280.5 336.1 281.3 332.0 282.1 327.9 283.0 323.8 283.8 319.8 284.6 315.8 285.4 311.7 286.2 307.7 287.0 303.7 287.8 299.7 288.6 295.7 289.4 291.8 290.2 287.8 291.0 283.9 291.8 279.9 292.6 276.0 293.4 272.1 294.2 268.2 295.0 264.3 295.8 260.4 296.5 256.5 297.3 252.6 298.1 248.7 298.9 244.9 299.7 241.0 300.4 237.2 301.2 233.4 302.0 229.5 302.8 225.7 303.5 221.9 304.3 218.1 305.1 214.3 305.8 210.5 306.6 206.7 307.3 203.0 308.1 199.2 308.9 195.4 309.6 191.7 310.4 187.9 311.1 184.2 311.9 180.4 312.6 176.7 313.4 173.0 314.1 169.2 314.9 165.5 315.6 161.8 316.4 158.1 317.1 154.4 317.9 150.7 318.6 147.0 319.4 143.3 320.1 139.6 320.9 135.9 321.6 132.3 322.3 128.6 323.1 124.9 323.8 121.2 324.6 117.6 325.3 113.9 326.0 110.2 326.8 106.6 327.5 102.9 328.3 99.3 329.0 95.6 329.7 92.0 330.5 88.3 331.2 84.7 331.9 81.0 332.7 77.4 333.4 73.7 334.1 70.1 334.9 66.5 335.6 62.8 336.3 59.2 337.1 55.5 337.8 51.9 338.5 48.3 339.3 44.6 340.0 41.0M326.9 577.1 327.0 572.0 327.1 566.8 327.3 561.7 327.4 556.6 327.5 551.6 327.6 546.5 327.8 541.5 327.9 536.6 328.0 531.6 328.1 526.7 328.3 521.8 328.4 516.9 328.5 512.0 328.6 507.2 328.7 502.4 328.8 497.6 329.0 492.8 329.1 488.1 329.2 483.3 329.3 478.6 329.4 474.0 329.5 469.3 329.6 464.7 329.8 460.0 329.9 455.4 330.0 450.9 330.1 446.3 330.2 441.8 330.3 437.2 330.4 432.7 330.5 428.3 330.6 423.8 330.8 419.3 330.9 414.9 331.0 410.5 331.1 406.1 331.2 401.7 331.3 397.3 331.4 393.0 331.5 388.6 331.6 384.3 331.7 380.0 331.8 375.7 331.9 371.4 332.0 367.2 332.1 362.9 332.2 358.7 332.3 354.5 332.4 350.3 332.5 346.1 332.6 341.9 332.7 337.7 332.8 333.6 333.0 329.4 333.1 325.3 333.2 321.2 333.3 317.1 333.4 313.0 333.5 308.9 333.6 304.9 333.7 300.8 333.7 296.7 333.8 292.7 333.9 288.7 334.0 284.7 334.1 280.7 334.2 276.7 334.3 272.7 334.4 268.7 334.5 264.7 334.6 260.8 334.7 256.8 334.8 252.9 334.9 248.9 335.0 245.0 335.1 241.1 335.2 237.2 335.3 233.3 335.4 229.4 335.5 225.5 335.6 221.6 335.7 217.7 335.8 213.9 335.9 210.0 336.0 206.2 336.1 202.3 336.2 198.5 336.2 194.7 336.3 190.8 336.4 187.0 336.5 183.2 336.6 179.4 336.7 175.6 336.8 171.8 336.9 168.0 337.0 164.2 337.1 160.4 337.2 156.6 337.3 152.9 337.4 149.1 337.5 145.3 337.5 141.6 337.6 137.8 337.7 134.1 337.8 130.3 337.9 126.6 338.0 122.8 338.1 119.1 338.2 115.3 338.3 111.6 338.4 107.9 338.5 104.1 338.5 100.4 338.6 96.7 338.7 93.0 338.8 89.3 338.9 85.5 339.0 81.8 339.1 78.1 339.2 74.4 339.3 70.7 339.4 67.0 339.5 63.3 339.5 59.5 339.6 55.8 339.7 52.1 339.8 48.4 339.9 44.7 340.0 41.0M421.0 576.4 420.2 571.3 419.4 566.2 418.7 561.1 417.9 556.0 417.1 551.0 416.4 546.0 415.6 541.0 414.9 536.1 414.1 531.1 413.4 526.2 412.6 521.4 411.9 516.5 411.2 511.7 410.5 506.9 409.7 502.1 409.0 497.3 408.3 492.6 407.6 487.9 406.9 483.2 406.2 478.5 405.5 473.9 404.8 469.2 404.1 464.6 403.4 460.0 402.7 455.5 402.0 450.9 401.3 446.4 400.6 441.9 399.9 437.4 399.3 432.9 398.6 428.4 397.9 424.0 397.3 419.6 396.6 415.2 395.9 410.8 395.3 406.4 394.6 402.1 394.0 397.7 393.3 393.4 392.6 389.1 392.0 384.8 391.4 380.6 390.7 376.3 390.1 372.1 389.4 367.8 388.8 363.6 388.2 359.4 387.5 355.2 386.9 351.1 386.3 346.9 385.6 342.7 385.0 338.6 384.4 334.5 383.8 330.4 383.1 326.3 382.5 322.2 381.9 318.1 381.3 314.1 380.7 310.0 380.1 306.0 379.5 302.0 378.9 297.9 378.3 293.9 377.7 290.0 377.0 286.0 376.4 282.0 375.8 278.0 375.2 274.1 374.7 270.1 374.1 266.2 373.5 262.3 372.9 258.4 372.3 254.4 371.7 250.5 371.1 246.7 370.5 242.8 369.9 238.9 369.3 235.0 368.8 231.2 368.2 227.3 367.6 223.5 367.0 219.6 366.4 215.8 365.9 212.0 365.3 208.2 364.7 204.4 364.1 200.6 363.6 196.8 363.0 193.0 362.4 189.2 361.8 185.4 361.3 181.6 360.7 177.9 360.1 174.1 359.6 170.4 359.0 166.6 358.4 162.9 357.9 159.1 357.3 155.4 356.7 151.6 356.2 147.9 355.6 144.2 355.0 140.5 354.5 136.8 353.9 133.0 353.4 129.3 352.8 125.6 352.2 121.9 351.7 118.2 351.1 114.5 350.6 110.8 350.0 107.1 349.4 103.5 348.9 99.8 348.3 96.1 347.8 92.4 347.2 88.7 346.7 85.0 346.1 81.4 345.5 77.7 345.0 74.0 344.4 70.3 343.9 66.7 343.3 63.0 342.8 59.3 342.2 55.7 341.7 52.0 341.1 48.3 340.6 44.7 340.0 41.0M521.2 579.3 519.4 574.2 517.8 569.2 516.1 564.2 514.4 559.2 512.7 554.2 511.1 549.3 509.4 544.4 507.8 539.5 506.1 534.7 504.5 529.9 502.9 525.1 501.3 520.3 499.7 515.5 498.1 510.8 496.5 506.1 495.0 501.4 493.4 496.8 491.8 492.2 490.3 487.6 488.7 483.0 487.2 478.4 485.7 473.9 484.2 469.3 482.6 464.8 481.1 460.4 479.6 455.9 478.1 451.5 476.7 447.1 475.2 442.7 473.7 438.3 472.2 433.9 470.8 429.6 469.3 425.3 467.9 420.9 466.4 416.7 465.0 412.4 463.6 408.1 462.1 403.9 460.7 399.7 459.3 395.5 457.9 391.3 456.5 387.1 455.1 383.0 453.7 378.8 452.3 374.7 450.9 370.6 449.5 366.5 448.2 362.4 446.8 358.3 445.4 354.3 444.1 350.2 442.7 346.2 441.4 342.2 440.0 338.2 438.7 334.2 437.3 330.2 436.0 326.3 434.7 322.3 433.4 318.4 432.0 314.5 430.7 310.6 429.4 306.6 428.1 302.8 426.8 298.9 425.5 295.0 424.2 291.1 422.9 287.3 421.6 283.5 420.3 279.6 419.0 275.8 417.7 272.0 416.5 268.2 415.2 264.4 413.9 260.6 412.6 256.9 411.4 253.1 410.1 249.3 408.9 245.6 407.6 241.9 406.3 238.1 405.1 234.4 403.8 230.7 402.6 227.0 401.3 223.3 400.1 219.6 398.9 215.9 397.6 212.2 396.4 208.6 395.2 204.9 393.9 201.2 392.7 197.6 391.5 193.9 390.2 190.3 389.0 186.7 387.8 183.0 386.6 179.4 385.4 175.8 384.2 172.2 382.9 168.6 381.7 165.0 380.5 161.4 379.3 157.8 378.1 154.2 376.9 150.6 375.7 147.1 374.5 143.5 373.3 139.9 372.1 136.3 370.9 132.8 369.7 129.2 368.5 125.7 367.3 122.1 366.1 118.6 364.9 115.0 363.7 111.5 362.5 107.9 361.3 104.4 360.1 100.9 359.0 97.3 357.8 93.8 356.6 90.3 355.4 86.7 354.2 83.2 353.0 79.7 351.8 76.2 350.7 72.7 349.5 69.1 348.3 65.6 347.1 62.1 345.9 58.6 344.7 55.1 343.5 51.5 342.4 48.0 341.2 44.5 340.0 41.0M624.9 563.6 622.3 558.7 619.6 553.9 617.0 549.1 614.4 544.4 611.9 539.7 609.3 535.0 606.8 530.3 604.2 525.6 601.7 521.0 599.2 516.4 596.7 511.9 594.3 507.3 591.8 502.8 589.3 498.3 586.9 493.9 584.5 489.4 582.1 485.0 579.7 480.6 577.3 476.2 574.9 471.9 572.6 467.5 570.2 463.2 567.9 458.9 565.5 454.7 563.2 450.4 560.9 446.2 558.6 442.0 556.3 437.8 554.1 433.6 551.8 429.5 549.6 425.4 547.3 421.3 545.1 417.2 542.9 413.1 540.7 409.0 538.5 405.0 536.3 401.0 534.1 397.0 531.9 393.0 529.7 389.0 527.6 385.0 525.4 381.1 523.3 377.2 521.2 373.3 519.0 369.4 516.9 365.5 514.8 361.6 512.7 357.8 510.6 353.9 508.5 350.1 506.5 346.3 504.4 342.5 502.3 338.7 500.3 335.0 498.2 331.2 496.2 327.5 494.2 323.7 492.1 320.0 490.1 316.3 488.1 312.6 486.1 308.9 484.1 305.3 482.1 301.6 480.1 298.0 478.1 294.3 476.1 290.7 474.2 287.1 472.2 283.5 470.2 279.9 468.3 276.3 466.3 272.7 464.4 269.2 462.5 265.6 460.5 262.1 458.6 258.5 456.7 255.0 454.8 251.5 452.8 248.0 450.9 244.5 449.0 241.0 447.1 237.5 445.2 234.0 443.3 230.5 441.4 227.1 439.6 223.6 437.7 220.2 435.8 216.7 433.9 213.3 432.1 209.9 430.2 206.4 428.3 203.0 426.5 199.6 424.6 196.2 422.8 192.8 420.9 189.4 419.1 186.1 417.3 182.7 415.4 179.3 413.6 176.0 411.7 172.6 409.9 169.2 408.1 165.9 406.3 162.5 404.4 159.2 402.6 155.9 400.8 152.5 399.0 149.2 397.2 145.9 395.4 142.6 393.6 139.3 391.8 135.9 390.0 132.6 388.2 129.3 386.4 126.0 384.6 122.7 382.8 119.4 381.0 116.1 379.2 112.9 377.4 109.6 375.6 106.3 373.8 103.0 372.0 99.7 370.2 96.5 368.5 93.2 366.7 89.9 364.9 86.6 363.1 83.4 361.3 80.1 359.5 76.8 357.8 73.6 356.0 70.3 354.2 67.1 352.4 63.8 350.7 60.5 348.9 57.3 347.1 54.0 345.3 50.8 343.6 47.5 341.8 44.3 340.0 41.0M687.7 476.5 684.4 472.4 681.1 468.3 677.8 464.2 674.6 460.1 671.4 456.1 668.2 452.1 665.0 448.1 661.8 444.1 658.6 440.1 655.5 436.2 652.4 432.3 649.3 428.4 646.2 424.5 643.1 420.7 640.0 416.8 637.0 413.0 633.9 409.2 630.9 405.4 627.9 401.7 624.9 397.9 622.0 394.2 619.0 390.5 616.1 386.8 613.1 383.1 610.2 379.5 607.3 375.8 604.4 372.2 601.5 368.6 598.6 365.0 595.8 361.4 592.9 357.9 590.1 354.3 587.3 350.8 584.5 347.2 581.7 343.7 578.9 340.2 576.1 336.8 573.3 333.3 570.6 329.8 567.8 326.4 565.1 323.0 562.4 319.6 559.7 316.2 557.0 312.8 554.3 309.4 551.6 306.0 548.9 302.7 546.2 299.3 543.6 296.0 540.9 292.7 538.3 289.4 535.6 286.1 533.0 282.8 530.4 279.5 527.8 276.2 525.2 273.0 522.6 269.7 520.0 266.5 517.4 263.3 514.9 260.1 512.3 256.8 509.7 253.6 507.2 250.5 504.7 247.3 502.1 244.1 499.6 240.9 497.1 237.8 494.6 234.6 492.1 231.5 489.6 228.3 487.1 225.2 484.6 222.1 482.1 219.0 479.6 215.9 477.1 212.8 474.7 209.7 472.2 206.6 469.8 203.6 467.3 200.5 464.9 197.4 462.4 194.4 460.0 191.3 457.6 188.3 455.1 185.2 452.7 182.2 450.3 179.2 447.9 176.2 445.5 173.1 443.1 170.1 440.7 167.1 438.3 164.1 435.9 161.1 433.5 158.1 431.1 155.1 428.7 152.2 426.4 149.2 424.0 146.2 421.6 143.2 419.3 140.3 416.9 137.3 414.5 134.4 412.2 131.4 409.8 128.5 407.5 125.5 405.1 122.6 402.8 119.6 400.4 116.7 398.1 113.8 395.7 110.8 393.4 107.9 391.1 105.0 388.7 102.0 386.4 99.1 384.1 96.2 381.7 93.3 379.4 90.4 377.1 87.5 374.8 84.5 372.4 81.6 370.1 78.7 367.8 75.8 365.5 72.9 363.2 70.0 360.8 67.1 358.5 64.2 356.2 61.3 353.9 58.4 351.6 55.5 349.3 52.6 346.9 49.7 344.6 46.8 342.3 43.9 340.0 41.0M689.8 349.4 686.2 346.2 682.6 343.0 679.0 339.9 675.5 336.7 671.9 333.6 668.4 330.5 664.9 327.4 661.4 324.3 657.9 321.3 654.4 318.2 651.0 315.2 647.5 312.1 644.1 309.1 640.7 306.1 637.3 303.1 633.9 300.1 630.6 297.2 627.2 294.2 623.9 291.3 620.5 288.3 617.2 285.4 613.9 282.5 610.6 279.6 607.4 276.7 604.1 273.8 600.8 271.0 597.6 268.1 594.4 265.3 591.2 262.4 587.9 259.6 584.7 256.8 581.6 254.0 578.4 251.2 575.2 248.4 572.1 245.6 568.9 242.8 565.8 240.1 562.7 237.3 559.5 234.6 556.4 231.8 553.3 229.1 550.2 226.4 547.2 223.6 544.1 220.9 541.0 218.2 538.0 215.5 534.9 212.9 531.9 210.2 528.9 207.5 525.8 204.8 522.8 202.2 519.8 199.5 516.8 196.9 513.8 194.3 510.8 191.6 507.9 189.0 504.9 186.4 501.9 183.8 499.0 181.2 496.0 178.5 493.1 176.0 490.1 173.4 487.2 170.8 484.3 168.2 481.4 165.6 478.4 163.0 475.5 160.5 472.6 157.9 469.7 155.4 466.8 152.8 463.9 150.3 461.1 147.7 458.2 145.2 455.3 142.6 452.4 140.1 449.6 137.6 446.7 135.1 443.8 132.5 441.0 130.0 438.1 127.5 435.3 125.0 432.4 122.5 429.6 120.0 426.8 117.5 423.9 115.0 421.1 112.5 418.3 110.0 415.5 107.5 412.6 105.0 409.8 102.6 407.0 100.1 404.2 97.6 401.4 95.1 398.6 92.7 395.8 90.2 393.0 87.7 390.2 85.2 387.4 82.8 384.6 80.3 381.8 77.8 379.0 75.4 376.2 72.9 373.4 70.5 370.6 68.0 367.8 65.5 365.1 63.1 362.3 60.6 359.5 58.2 356.7 55.7 353.9 53.3 351.1 50.8 348.3 48.4 345.6 45.9 342.8 43.5 340.0 41.0M689.9 254.6 686.1 252.2 682.2 249.9 678.3 247.5 674.5 245.2 670.6 242.8 666.8 240.5 663.0 238.2 659.2 235.9 655.5 233.6 651.7 231.3 648.0 229.0 644.2 226.7 640.5 224.4 636.8 222.2 633.1 219.9 629.5 217.7 625.8 215.4 622.1 213.2 618.5 211.0 614.9 208.8 611.3 206.6 607.7 204.4 604.1 202.2 600.5 200.0 596.9 197.8 593.4 195.7 589.8 193.5 586.3 191.3 582.8 189.2 579.2 187.0 575.7 184.9 572.2 182.8 568.8 180.6 565.3 178.5 561.8 176.4 558.4 174.3 554.9 172.2 551.5 170.1 548.0 168.0 544.6 165.9 541.2 163.8 537.8 161.7 534.4 159.7 531.0 157.6 527.6 155.5 524.3 153.5 520.9 151.4 517.5 149.4 514.2 147.3 510.8 145.3 507.5 143.2 504.2 141.2 500.8 139.2 497.5 137.2 494.2 135.1 490.9 133.1 487.6 131.1 484.3 129.1 481.0 127.1 477.7 125.1 474.5 123.1 471.2 121.1 467.9 119.1 464.7 117.1 461.4 115.1 458.2 113.1 454.9 111.1 451.7 109.2 448.4 107.2 445.2 105.2 442.0 103.2 438.7 101.3 435.5 99.3 432.3 97.3 429.1 95.4 425.9 93.4 422.7 91.5 419.5 89.5 416.3 87.5 413.1 85.6 409.9 83.6 406.7 81.7 403.5 79.7 400.3 77.8 397.1 75.9 393.9 73.9 390.7 72.0 387.6 70.0 384.4 68.1 381.2 66.1 378.0 64.2 374.8 62.3 371.7 60.3 368.5 58.4 365.3 56.5 362.2 54.5 359.0 52.6 355.8 50.7 352.7 48.7 349.5 46.8 346.3 44.9 343.2 42.9 340.0 41.0M688.2 177.5 684.1 175.9 680.0 174.2 675.9 172.6 671.9 171.1 667.8 169.5 663.8 167.9 659.7 166.3 655.7 164.7 651.7 163.2 647.8 161.6 643.8 160.1 639.8 158.5 635.9 157.0 632.0 155.4 628.0 153.9 624.1 152.4 620.2 150.8 616.4 149.3 612.5 147.8 608.6 146.3 604.8 144.8 601.0 143.3 597.1 141.8 593.3 140.3 589.5 138.8 585.7 137.3 582.0 135.8 578.2 134.3 574.4 132.9 570.7 131.4 566.9 129.9 563.2 128.5 559.5 127.0 555.8 125.6 552.1 124.1 548.4 122.7 544.7 121.2 541.0 119.8 537.3 118.3 533.7 116.9 530.0 115.5 526.3 114.0 522.7 112.6 519.1 111.2 515.4 109.8 511.8 108.3 508.2 106.9 504.6 105.5 501.0 104.1 497.4 102.7 493.8 101.3 490.3 99.9 486.7 98.5 483.1 97.1 479.5 95.7 476.0 94.3 472.4 92.9 468.9 91.5 465.3 90.1 461.8 88.7 458.3 87.4 454.7 86.0 451.2 84.6 447.7 83.2 444.2 81.8 440.7 80.5 437.2 79.1 433.7 77.7 430.2 76.3 426.7 75.0 423.2 73.6 419.7 72.2 416.2 70.9 412.7 69.5 409.2 68.1 405.8 66.8 402.3 65.4 398.8 64.0 395.3 62.7 391.9 61.3 388.4 60.0 384.9 58.6 381.5 57.3 378.0 55.9 374.6 54.5 371.1 53.2 367.6 51.8 364.2 50.5 360.7 49.1 357.3 47.8 353.8 46.4 350.4 45.1 346.9 43.7 343.5 42.4 340.0 41.0M689.4 111.5 685.1 110.6 680.9 109.7 676.6 108.9 672.4 108.0 668.2 107.2 664.0 106.3 659.8 105.5 655.7 104.7 651.5 103.8 647.4 103.0 643.3 102.2 639.2 101.3 635.1 100.5 631.0 99.7 626.9 98.9 622.8 98.0 618.8 97.2 614.8 96.4 610.7 95.6 606.7 94.8 602.7 94.0 598.7 93.2 594.7 92.4 590.8 91.6 586.8 90.8 582.9 90.0 578.9 89.2 575.0 88.4 571.1 87.6 567.2 86.8 563.3 86.0 559.4 85.2 555.5 84.5 551.6 83.7 547.7 82.9 543.9 82.1 540.0 81.3 536.2 80.6 532.4 79.8 528.5 79.0 524.7 78.2 520.9 77.5 517.1 76.7 513.3 75.9 509.5 75.2 505.7 74.4 502.0 73.7 498.2 72.9 494.4 72.1 490.7 71.4 486.9 70.6 483.2 69.9 479.4 69.1 475.7 68.4 472.0 67.6 468.2 66.9 464.5 66.1 460.8 65.4 457.1 64.6 453.4 63.9 449.7 63.1 446.0 62.4 442.3 61.6 438.6 60.9 434.9 60.1 431.3 59.4 427.6 58.7 423.9 57.9 420.2 57.2 416.6 56.4 412.9 55.7 409.2 55.0 405.6 54.2 401.9 53.5 398.3 52.7 394.6 52.0 391.0 51.3 387.3 50.5 383.7 49.8 380.0 49.1 376.4 48.3 372.7 47.6 369.1 46.9 365.5 46.1 361.8 45.4 358.2 44.7 354.5 43.9 350.9 43.2 347.3 42.5 343.6 41.7 340.0 41.0M687.6 49.5 683.3 49.4 679.0 49.3 674.7 49.2 670.4 49.1 666.2 49.0 661.9 48.9 657.7 48.8 653.5 48.7 649.3 48.6 645.1 48.5 640.9 48.4 636.7 48.3 632.6 48.2 628.4 48.0 624.3 47.9 620.2 47.8 616.1 47.7 612.0 47.6 607.9 47.5 603.9 47.4 599.8 47.3 595.7 47.3 591.7 47.2 587.7 47.1 583.7 47.0 579.7 46.9 575.7 46.8 571.7 46.7 567.7 46.6 563.7 46.5 559.8 46.4 555.8 46.3 551.9 46.2 547.9 46.1 544.0 46.0 540.1 45.9 536.2 45.8 532.3 45.7 528.4 45.6 524.5 45.5 520.6 45.4 516.7 45.3 512.9 45.2 509.0 45.1 505.2 45.0 501.3 44.9 497.5 44.8 493.7 44.8 489.8 44.7 486.0 44.6 482.2 44.5 478.4 44.4 474.6 44.3 470.8 44.2 467.0 44.1 463.2 44.0 459.4 43.9 455.6 43.8 451.9 43.7 448.1 43.6 444.3 43.5 440.6 43.5 436.8 43.4 433.1 43.3 429.3 43.2 425.6 43.1 421.8 43.0 418.1 42.9 414.3 42.8 410.6 42.7 406.9 42.6 403.1 42.5 399.4 42.5 395.7 42.4 392.0 42.3 388.3 42.2 384.5 42.1 380.8 42.0 377.1 41.9 373.4 41.8 369.7 41.7 366.0 41.6 362.3 41.5 358.5 41.5 354.8 41.4 351.1 41.3 347.4 41.2 343.7 41.1 340.0 41.0M688.1 -11.6 683.8 -11.0 679.6 -10.4 675.3 -9.7 671.1 -9.1 666.8 -8.4 662.6 -7.8 658.4 -7.2 654.2 -6.5 650.1 -5.9 645.9 -5.3 641.7 -4.6 637.6 -4.0 633.5 -3.4 629.4 -2.8 625.3 -2.1 621.2 -1.5 617.1 -0.9 613.1 -0.3 609.0 0.3 605.0 0.9 601.0 1.5 596.9 2.1 592.9 2.7 589.0 3.3 585.0 4.0 581.0 4.6 577.0 5.2 573.1 5.8 569.1 6.3 565.2 6.9 561.3 7.5 557.4 8.1 553.4 8.7 549.5 9.3 545.7 9.9 541.8 10.5 537.9 11.1 534.0 11.7 530.2 12.2 526.3 12.8 522.5 13.4 518.6 14.0 514.8 14.6 511.0 15.1 507.2 15.7 503.4 16.3 499.6 16.9 495.8 17.4 492.0 18.0 488.2 18.6 484.4 19.2 480.6 19.7 476.9 20.3 473.1 20.9 469.4 21.4 465.6 22.0 461.9 22.6 458.1 23.1 454.4 23.7 450.6 24.3 446.9 24.8 443.2 25.4 439.5 26.0 435.8 26.5 432.0 27.1 428.3 27.6 424.6 28.2 420.9 28.8 417.2 29.3 413.5 29.9 409.8 30.4 406.1 31.0 402.5 31.6 398.8 32.1 395.1 32.7 391.4 33.2 387.7 33.8 384.0 34.3 380.4 34.9 376.7 35.5 373.0 36.0 369.3 36.6 365.7 37.1 362.0 37.7 358.3 38.2 354.7 38.8 351.0 39.3 347.3 39.9 343.7 40.4 340.0 41.0M518.6 -19.1 514.9 -17.9 511.2 -16.6 507.6 -15.4 503.9 -14.2 500.2 -12.9 496.6 -11.7 492.9 -10.5 489.3 -9.2 485.7 -8.0 482.0 -6.8 478.4 -5.6 474.8 -4.4 471.2 -3.2 467.6 -1.9 464.0 -0.7 460.4 0.5 456.8 1.7 453.2 2.9 449.6 4.1 446.1 5.3 442.5 6.5 438.9 7.7 435.3 8.9 431.8 10.1 428.2 11.3 424.7 12.5 421.1 13.7 417.6 14.9 414.0 16.1 410.5 17.3 406.9 18.5 403.4 19.7 399.9 20.9 396.3 22.0 392.8 23.2 389.3 24.4 385.7 25.6 382.2 26.8 378.7 28.0 375.2 29.2 371.7 30.3 368.1 31.5 364.6 32.7 361.1 33.9 357.6 35.1 354.1 36.3 350.5 37.5 347.0 38.6 343.5 39.8 340.0 41.0" fill="none" stroke="#e8e8e8" stroke-opacity="0.75" stroke-width="1" stroke-dasharray="1.2 3.2"/><g fill="none" stroke="#a8a8a8" stroke-width="1.6" stroke-dasharray="7 3 2 3" opacity="0.85"><path d="M207.5 56.0 208.9 65.0 213.1 77.0 222.9 92.0 229.6 98.0 238.0 102.6 253.0 105.4 271.0 102.3 289.9 92.0 307.7 74.0 313.2 65.0 315.9 56.0"/>
<path d="M165.2 56.0 168.3 71.0 173.8 86.0 181.4 98.0 192.8 110.0 208.4 122.0 224.9 131.0 235.0 133.5 253.0 134.3 271.0 133.5 286.0 130.8 301.0 125.2 313.0 118.0 325.7 107.0 341.5 89.0 355.8 68.0 360.9 56.0"/>
<path d="M82.4 56.0 114.6 116.0 120.7 122.0 154.0 129.2 196.0 146.1 214.1 152.0 295.0 165.5 316.0 162.7 334.0 155.2 346.0 145.8 367.0 122.7 406.0 99.8 460.0 76.6 503.6 65.0 518.6 56.0"/>
<path d="M554.5 56.0 584.4 77.0 608.9 101.0 616.0 106.2 640.0 112.8 670.0 116.8"/>
<path d="M1.0 94.8 16.0 102.1 43.0 110.9 64.0 120.0 106.0 144.5 118.0 150.1 196.0 174.6 211.0 177.1 244.0 178.7 256.0 182.7 262.7 188.0 267.3 197.0 267.4 221.0 270.2 230.0 277.0 238.2 289.0 243.5 295.0 242.4 298.0 238.9 305.5 218.0 310.0 210.2 316.0 204.9 322.0 202.0 334.0 199.3 379.0 193.8 394.0 194.2 421.0 197.8 427.0 194.7 442.0 182.0 496.0 163.4 502.0 163.2 517.0 169.1 553.0 192.2 565.0 196.4 607.0 194.0 646.0 186.6 670.0 188.8"/>
<path d="M1.0 154.2 58.0 166.8 82.0 164.3 139.0 183.0 162.3 197.0 211.0 234.7 235.0 242.9 283.0 275.5 298.0 282.7 313.0 284.1 325.9 281.0 336.7 275.0 349.0 262.0 352.0 260.8 355.1 263.0 359.7 278.0 367.9 296.0 388.5 329.0 403.0 343.5 427.0 354.6 436.0 361.0 440.8 368.0 445.0 386.5 448.0 389.8 451.0 390.6 458.1 389.0 466.0 383.0 482.6 359.0 497.4 332.0 510.8 293.0 514.0 289.9 520.0 289.4 565.0 293.5 574.0 290.9 598.0 280.0 616.0 275.4 634.0 274.5 670.0 277.7"/>
<path d="M170.6 326.0 174.4 320.0 172.4 314.0 169.0 312.0 163.0 312.8 159.2 317.0 158.5 323.0 163.0 327.2 170.6 326.0"/>
<path d="M1.0 207.1 70.0 221.9 85.0 222.7 106.0 220.2 113.1 221.0 115.1 224.0 114.8 230.0 104.5 266.0 100.5 290.0 100.8 308.0 104.3 326.0 112.0 344.0 124.0 359.2 142.0 372.5 160.0 378.9 181.0 380.7 204.1 377.0 219.7 371.0 247.0 355.2 256.0 351.7 295.0 349.1 340.0 348.6 346.0 350.9 349.0 354.1 366.0 383.0 383.9 407.0 394.9 419.0 412.0 430.4 421.0 433.2 430.0 433.9 454.0 427.9 478.0 429.4 499.0 426.2 514.0 420.3 526.5 413.0 538.4 404.0 559.0 384.8 568.0 379.8 628.0 364.4 649.0 361.7 670.0 361.6"/>
<path d="M1.0 307.3 10.0 313.0 37.5 344.0 43.0 351.7 53.2 374.0 62.2 389.0 76.0 405.4 91.0 418.3 103.0 425.9 118.0 433.0 133.0 437.7 160.0 443.2 193.0 458.8 217.0 467.6 304.0 484.8 382.0 510.6 415.0 519.5 451.0 525.6 517.0 532.5 526.0 532.4 537.0 530.0 601.0 508.6 625.0 502.0 646.0 498.7 670.0 498.1"/></g>
<g fill="none" stroke="#000" stroke-linejoin="round"><path d="M447.4 381.8 445.4 384.3 443.2 386.6 440.7 388.6 439.6 390.6 437.6 392.9 435.2 395.2 432.8 398.4 428.8 397.0 424.2 397.0 418.6 397.2 417.6 400.7 415.3 402.9 415.5 405.2 416.3 408.7 415.8 411.6 415.9 415.2 411.5 417.3 408.4 419.2 405.5 421.7 403.5 425.7 402.5 428.7 401.2 431.3 398.7 434.3 397.8 437.3 399.7 439.9 401.9 442.4 403.0 445.0 400.3 446.6 398.1 448.7 396.4 451.9 396.0 455.4 390.7 456.1 390.3 458.7 389.3 461.2 388.9 463.9 386.1 464.5 382.5 464.1 379.3 464.9 376.6 465.4 373.9 465.8 371.4 466.7 368.0 468.9 366.2 470.8 364.6 473.1 363.0 473.1 359.8 471.4 357.8 468.8 355.4 465.6 351.7 462.0 348.4 462.7 345.3 464.7 341.5 464.8 338.5 464.9 338.1 462.0 339.4 459.3 338.4 455.6 338.1 452.5 334.5 449.2 335.2 446.0 334.7 442.6 335.8 438.9 337.6 435.5 339.2 433.0 339.3 430.2 338.6 427.6 338.4 424.6 337.7 421.6 337.3 418.8 337.3 414.8 335.1 411.0 338.4 409.3 341.2 407.0 345.7 403.8 348.9 404.9 352.1 404.0 355.2 405.0 358.4 404.2 361.5 404.7 364.5 404.4 367.5 404.5 370.4 405.7 373.4 406.1 376.4 405.8 379.4 406.5 381.9 405.1 384.9 403.4 386.0 400.2 385.8 396.9 385.1 393.6 386.5 390.7 384.9 387.8 384.9 385.0 385.1 382.3 383.8 380.1 381.8 378.3 379.5 376.9 377.3 374.7 377.1 371.0 374.3 371.1 371.7 369.9 368.4 369.2 365.1 368.1 364.0 366.0 361.4 363.2 365.7 360.4 368.6 360.3 371.3 358.4 374.2 358.9 377.3 360.7 379.6 358.8 377.7 356.4 376.7 353.7 376.2 351.1 378.4 352.9 381.1 353.0 385.5 353.7 387.9 351.5 390.0 349.0 392.2 346.7 393.8 343.8 393.8 340.4 395.0 337.8 397.1 336.1 399.9 334.6 401.5 332.0 403.7 330.0 404.7 327.4 404.8 324.5 405.3 321.9 406.1 318.4 408.0 314.7 411.3 313.3 414.7 312.1 416.7 311.2 420.7 307.9 422.0 305.6 421.8 301.3 418.8 297.3 416.4 293.8 415.6 291.1 414.6 288.5 412.7 285.9 413.3 283.3 414.0 280.6 416.6 278.0 418.4 274.5 421.2 273.4 421.2 277.5 421.5 280.4 422.7 283.3 425.0 284.6 424.3 287.6 424.1 290.4 425.2 294.8 426.9 296.8 427.9 300.1 431.7 299.7 432.7 302.0 434.4 298.8 437.1 297.6 438.7 295.4 441.4 292.8 445.5 295.1 448.4 296.8 449.6 293.3 452.6 291.5 455.0 288.9 457.4 286.3 459.2 283.3 462.2 281.5 465.4 284.0 469.7 281.5 468.4 276.9 470.2 274.6 471.8 271.6 470.5 268.5 468.0 266.2 466.9 263.3 466.1 259.6 464.8 256.1 466.1 253.5 467.2 250.7 471.8 252.9 476.2 252.8 473.5 248.7 473.0 245.3 470.9 241.7 469.0 243.8 465.7 240.7 465.6 237.4 467.9 235.7 470.6 233.1 473.2 230.5 476.1 229.3 477.5 226.7 480.0 224.1 480.5 220.2 483.5 218.7 479.5 219.0 475.4 217.8 473.1 219.5 471.9 221.8 469.9 223.6 467.8 225.2 466.9 227.9 465.5 230.1 463.1 232.5 460.8 234.7 457.8 235.0 454.7 234.4 452.8 232.0 450.2 231.3 448.2 227.8 447.2 225.2 444.8 223.8 443.7 221.4 441.7 216.7 442.2 213.9 443.0 211.1 443.2 208.5 444.2 205.1 444.4 201.4 445.7 196.9 442.8 195.9 440.4 194.8 437.6 194.9 435.3 196.5 433.2 199.1 434.1 204.1 434.3 207.0 436.2 209.6 436.2 214.4 434.8 216.9 434.2 219.7 433.3 223.3 432.0 226.8 431.0 228.9 432.4 232.2 433.9 235.4 434.6 238.6 436.6 241.9 439.5 241.3 442.8 241.2 446.7 244.6 444.2 249.4 445.0 254.7 442.1 255.7 440.1 258.0 442.8 260.6 444.3 263.9 446.5 266.0 447.2 268.6 447.5 271.4 447.5 274.2 445.5 276.1 444.2 278.6 442.6 280.0 442.7 285.0 439.8 285.5 437.4 287.2 437.0 285.5 434.7 283.1 434.1 278.6 431.9 276.7 429.4 275.4 425.8 271.9 424.3 269.7 422.0 268.1 419.6 264.3 417.7 261.9 417.0 259.1 416.1 256.7 415.7 261.0 415.4 264.6 412.9 267.4 411.3 270.7 409.3 273.6 405.7 275.3 401.5 274.4 400.4 271.7 398.8 269.2 394.5 266.2 395.4 262.4 394.3 258.8 390.7 254.9 390.5 250.1 390.0 245.5 393.7 242.5 394.9 239.0 397.2 236.2 399.4 232.6 400.5 230.5 401.8 228.1 401.9 225.2 403.2 222.9 403.8 219.9 406.1 217.6 406.0 214.9 405.5 212.2 405.4 209.6 404.5 206.6 405.8 203.9 406.7 201.1 407.5 198.0 406.5 195.2 406.2 191.9 402.7 191.9 405.7 190.8 408.1 188.3 406.6 183.5 407.6 180.1 410.2 175.9 411.8 172.6 414.4 168.9 415.6 165.9 416.4 162.8 419.2 159.7 419.4 156.3 424.7 156.9 425.8 153.9 428.4 154.0 431.2 154.6 434.2 153.4 437.5 156.2 440.8 156.5 444.3 156.5 446.9 155.4 449.2 153.9 452.4 153.5 455.2 151.8 458.3 151.3 460.7 148.5 464.2 148.9 467.6 149.6 470.2 151.3 472.0 153.9 474.4 155.6 474.2 158.4 473.4 160.7 472.0 163.0 470.6 165.2 468.6 167.1 465.5 167.0 462.5 167.6 459.9 169.5 456.2 169.3 452.5 171.7 455.4 172.4 457.8 173.9 460.9 174.4 463.4 176.1 466.2 177.2 469.0 178.6 472.0 177.3 475.3 178.8 477.6 177.3 480.0 176.4 483.1 176.0 483.6 172.9 484.4 169.9 485.5 166.6 481.0 165.2 481.5 162.0 480.8 158.8 482.9 156.5 484.0 153.7 484.3 151.1 481.5 148.9 478.2 147.5 475.7 145.1 473.1 142.5 469.9 140.9 466.4 140.1 468.7 137.1 471.6 133.9 474.9 135.3 479.0 135.8 478.2 132.5 480.0 129.4 477.7 125.0 479.6 122.8 481.3 120.5 483.6 118.7 485.0 116.4 484.6 113.0 484.6 109.6 484.5 106.2 486.5 103.3 486.3 100.4 484.8 97.0 482.4 93.7 484.6 92.2 487.2 91.4 489.4 89.8 491.6 88.6 490.9 85.5 490.5 82.4 489.2 78.5 485.3 78.2 481.6 77.1 479.4 75.6 477.0 74.2 475.1 72.1 472.6 70.9 470.6 69.0 468.0 68.0" stroke-width="0.90"/>
<path d="M398.3 269.7 395.4 269.0 396.9 265.7 397.0 263.9 397.3 262.0 393.1 261.0 392.9 259.7 395.5 256.1 390.6 257.2 394.6 254.2 393.5 252.0 388.1 250.4 388.5 248.0 390.9 246.5 390.3 242.6 390.9 240.6 396.0 241.8 394.6 238.8 397.7 238.7 394.8 235.0 397.4 233.9 399.9 232.9 397.0 229.1 398.7 228.1 402.4 227.7 404.4 226.8 405.3 225.4 400.6 221.5 403.9 221.1 406.3 220.2 405.7 217.6 406.8 215.9 403.3 214.6 402.4 213.0 402.5 211.4 401.9 209.5 405.4 207.6 405.2 205.7 405.5 203.8 403.3 201.2 404.1 199.4 404.7 198.2 408.8 196.0 409.6 194.0 406.4 189.5 404.3 195.0 401.1 189.8 406.3 193.3 405.8 189.5 409.3 188.2 406.1 187.0 406.8 185.3 406.9 183.7 407.1 181.8 408.9 180.7 405.9 177.6 410.9 178.0 412.4 176.9 409.0 173.4 411.5 172.4 414.3 171.4 413.5 168.4 413.3 165.8 414.2 163.9 417.3 163.2 414.9 160.1 421.2 160.3 419.5 157.1" stroke-width="1.20"/>
<path d="M447.4 381.8 450.5 382.5 453.5 382.7 455.7 384.8 458.2 386.6 459.9 388.7 461.2 391.2 464.1 392.4 466.9 394.3 471.4 395.2 476.0 396.7 479.2 397.8 482.4 398.0 485.6 398.3 488.5 399.1 491.4 399.4 495.1 400.2 498.4 401.7 501.7 403.0 504.5 405.2 507.3 407.2 508.6 409.7 509.0 412.4 510.1 415.2 509.9 418.0 513.6 418.5 513.7 415.5 514.8 412.9 513.5 409.6 515.5 405.4 513.0 402.8 511.3 400.6 509.0 399.7 508.9 395.4 510.5 394.0 513.9 394.5 517.3 395.0 520.6 395.8 520.1 392.1 517.2 391.6 514.5 390.6 511.8 390.2 509.1 389.6 506.3 390.4 503.7 389.3 501.1 388.7 498.1 388.5 499.1 385.5 496.1 386.8 492.7 387.6 490.1 386.9 487.4 386.8 484.7 386.0 481.8 382.1 479.3 380.5 477.1 378.5 473.8 377.0 470.2 376.5 468.7 373.7 466.4 371.5 465.6 369.0 464.0 366.3 466.2 364.7 468.0 362.8 472.3 361.2 476.1 362.5 475.4 365.6 478.3 366.6 481.4 367.0 485.2 370.3 488.3 371.0 491.4 370.9 494.3 372.5 498.2 372.5 502.0 373.2 504.8 373.9 507.7 374.2 510.3 374.4 512.9 375.2 515.5 375.4 519.3 376.3 520.4 380.8 522.5 383.7 524.3 386.5 526.9 388.3 529.9 389.7 532.2 391.5 535.1 393.5 538.5 394.4 542.7 396.8 547.5 396.5 547.6 399.8 546.0 403.2 549.2 405.1 553.0 406.1 554.2 408.2 558.0 408.1 561.8 408.6 564.0 404.1 562.1 401.9 561.2 399.2 558.4 398.1 559.1 394.3 562.0 392.2 565.6 392.7 562.4 388.3 557.9 388.2 554.5 388.1 551.4 387.0 550.1 384.0 547.5 383.0 545.2 380.2 543.5 377.0 544.4 373.9 549.1 375.5 551.4 376.4 551.6 371.9 551.2 369.3 551.5 366.7 554.0 364.9 556.7 363.6 560.2 361.4 564.6 361.4 566.4 361.5 566.0 366.7 570.1 369.1 572.6 370.0 574.5 371.7 576.2 373.9 578.1 376.1 579.9 374.6 582.4 377.3 584.5 380.4 586.8 382.1 589.1 384.0 592.4 382.8 595.7 381.7 598.4 380.0 601.4 379.0 604.1 379.5 606.9 379.1 609.6 377.6 611.5 375.9 610.0 372.9 608.9 369.4 611.7 368.5 614.4 367.7 617.0 366.1 618.8 366.3 622.6 365.6 626.0 365.6 628.5 363.0 630.3 360.0 630.8 357.1 630.8 354.2 631.4 351.3 632.9 349.0 634.7 347.0 636.7 345.3 640.9 344.5 642.9 346.9 643.9 349.6 646.0 354.0 648.6 356.4 650.9 358.9 653.9 361.1 654.5 363.7 655.5 366.1 655.8 369.0 657.3 371.3 658.0 374.1 659.1 376.9 661.5 379.5 663.0 382.6 663.6 386.0 664.1 389.1 664.2 392.3 663.7 395.5 661.2 397.5 658.0 398.5 655.9 401.0 653.2 402.7 649.4 403.9 646.0 405.7 643.9 407.5 642.3 409.8 639.9 411.6 638.6 416.1 636.6 418.7 634.3 421.0 632.8 424.3 630.1 424.9 627.2 425.3 624.6 426.3 622.1 427.6 619.5 428.7 616.9 429.7 614.2 430.5 611.9 432.2 609.5 433.7 606.7 434.3 604.3 435.7 601.5 435.6 598.7 435.9 596.0 436.3 593.3 437.2 590.7 436.8 588.0 437.5 585.4 437.5 582.7 437.5 579.7 437.0 577.5 439.1 575.8 441.8 573.5 443.7 571.6 446.2 569.7 448.6 567.8 451.0 565.9 453.4 567.6 456.0 568.8 459.0 570.0 461.9 571.8 464.5 570.1 468.0 569.0 471.6 566.3 472.4 563.4 472.0 560.6 472.1 557.9 473.1 555.1 473.7 552.3 473.5 549.5 473.7 546.7 474.0 544.0 473.8 541.1 473.9 538.2 473.4 535.3 474.0 532.5 473.2 530.4 470.8 527.9 469.4 525.2 469.6 522.4 469.1 519.7 469.2 517.2 470.4 514.4 470.0 511.9 470.8 508.9 471.2 506.2 472.4 503.5 473.9 499.6 473.9 495.9 473.2 493.6 471.1 491.4 468.5 488.4 469.5 485.0 469.9 486.6 467.2 487.2 464.1 487.9 461.0 486.8 457.8 485.9 454.4 484.7 451.1 483.3 448.6 481.1 446.5 481.9 443.0 481.7 439.2 479.2 441.3 477.4 443.7 473.4 439.9 470.5 441.4 467.6 442.9 465.0 444.8 462.5 446.7 459.8 448.2 456.6 449.0 453.5 450.4 451.0 451.3 448.6 452.6 445.9 452.8 443.2 453.5 440.9 455.1 438.2 455.6 435.4 455.7 432.7 455.6 429.2 457.0 425.4 457.4 422.8 459.7 419.7 460.7 416.8 462.2 413.6 462.9 410.7 464.8 408.5 467.4 405.8 469.5 403.1 470.9 400.6 472.6 398.1 474.0 396.4 476.5 394.1 478.2 391.5 479.9 387.6 479.8 383.8 479.7 379.9 479.3 376.0 479.5 373.5 480.4 370.5 480.8 368.6 478.6 366.6 476.6 364.9 474.0 361.5 475.5 359.8 478.3 358.1 481.1 357.4 484.1 356.6 487.1 354.8 489.7 353.9 492.3 351.2 494.9 347.9 496.6 345.3 497.3 343.2 499.0 341.1 500.3 339.7 502.7 337.3 504.4 335.9 506.7 334.8 509.3 333.1 511.8 331.6 514.3 330.3 516.9 329.8 519.7 330.6 522.3 331.4 525.0 332.0 528.0 330.2 530.2 329.0 532.7 327.2 534.9 325.9 537.3 324.0 539.9 322.3 542.6 320.3 545.1 318.0 547.4 315.3 548.2 312.4 548.2 309.8 549.2 307.0 549.8 304.2 550.0 301.6 551.3" stroke-width="0.90"/>
<path d="M508.8 416.6 508.8 419.7 508.4 422.9 510.3 425.5 511.5 428.4 511.5 432.0 507.0 432.3 504.5 431.8 501.8 431.4 499.2 431.8 496.5 431.5 493.9 431.0 491.0 431.1 489.2 427.8 491.6 425.8 494.0 424.3 496.6 423.7 499.3 423.5 501.5 421.5 504.1 420.2 506.4 418.2Z" stroke-width="0.90"/>
<path d="M457.7 407.7 461.6 409.7 463.1 412.1 463.4 414.8 464.7 417.3 464.8 420.0 465.2 422.8 465.8 425.7 462.8 427.1 460.0 429.2 458.7 426.5 457.2 423.8 456.0 421.0 454.6 418.1 453.2 415.2 451.9 411.7 454.9 409.9Z" stroke-width="0.90"/>
<path d="M454.2 392.5 456.2 395.6 456.7 398.7 457.3 401.8 457.4 406.1 454.5 405.4 451.8 401.7 450.6 397.0 452.5 394.8Z" stroke-width="0.90"/>
<path d="M574.3 413.0 575.4 409.1 577.8 408.0 580.3 407.3 582.8 406.4 585.6 404.5 588.8 403.5 591.4 401.6 592.6 404.5 590.3 405.9 588.3 407.7 586.1 409.2 583.8 410.8 580.9 411.9 577.8 412.9 574.7 413.9Z" stroke-width="0.90"/>
<path d="M629.1 374.7 630.3 371.9 631.2 369.0 633.1 366.6 635.3 364.3 637.0 361.8 638.8 359.5 639.2 363.1 639.4 366.7 638.5 369.4 637.2 372.0 636.4 374.9 631.4 376.5Z" stroke-width="0.90"/>
<path d="M420.6 430.0 424.0 432.3 421.0 435.4 416.6 434.6 418.5 430.2Z" stroke-width="0.90"/>
<path d="M411.7 443.7 411.0 439.3 408.9 440.6Z" stroke-width="0.90"/>
<path d="M574.0 393.2 576.1 391.0 578.9 389.9 576.9 392.2Z" stroke-width="0.6" fill="#000"/>
<path d="M577.6 398.6 579.7 396.3 582.6 395.3 580.5 397.6Z" stroke-width="0.6" fill="#000"/>
<path d="M569.4 392.9 571.5 390.7 574.3 389.7 572.3 391.9Z" stroke-width="0.6" fill="#000"/>
<path d="M577.6 391.9 579.6 389.6 582.5 388.6 580.5 390.9Z" stroke-width="0.6" fill="#000"/>
<path d="M571.0 380.9 572.9 378.6 575.7 377.6 573.7 379.8Z" stroke-width="0.6" fill="#000"/>
<path d="M568.0 374.0 569.9 371.8 572.7 370.8 570.8 373.0Z" stroke-width="0.6" fill="#000"/>
<path d="M593.6 387.5 595.6 385.1 598.4 383.9 596.4 386.3Z" stroke-width="0.6" fill="#000"/>
<path d="M578.2 383.7 580.1 381.4 582.9 380.3 581.0 382.6Z" stroke-width="0.6" fill="#000"/>
<path d="M560.1 382.6 562.1 380.4 564.9 379.4 562.9 381.6Z" stroke-width="0.6" fill="#000"/>
<path d="M559.3 371.1 561.2 369.0 563.9 368.0 562.0 370.2Z" stroke-width="0.6" fill="#000"/>
<path d="M586.0 388.4 588.0 386.1 590.8 384.9 588.8 387.3Z" stroke-width="0.6" fill="#000"/>
<path d="M392.1 336.6 391.9 334.1 389.4 329.8 390.4 327.3 391.2 325.5 389.2 323.0 383.9 322.8 383.0 321.6 383.4 316.8 380.6 313.5 377.9 310.4 376.0 308.3 374.2 306.5 372.6 303.4 370.0 301.1 365.0 299.4 366.7 297.0 366.3 293.2 368.1 290.0 368.2 285.0 364.8 284.9 361.7 286.2 359.4 288.2 360.6 284.1 361.7 280.2 363.4 279.3 360.6 279.4 357.7 278.8 356.1 279.5 355.1 282.3 354.5 285.1 351.4 287.2 349.6 290.5 351.6 294.1 352.5 296.9 352.9 301.3 353.8 307.3 356.0 305.4 358.8 304.4 357.6 306.8 356.8 308.3 360.7 309.6 363.0 309.0 365.1 311.9 365.3 315.3 365.8 318.2 367.5 321.6 363.9 319.8 360.2 321.3 360.0 325.8 363.4 330.4 360.2 332.3 356.8 334.2 360.4 335.5 364.3 335.5 367.7 337.7 370.8 337.4 366.6 339.2 364.5 341.2 360.4 340.5 360.4 344.5 356.7 346.0 355.6 349.5 358.5 350.3 361.3 348.5 364.3 345.9 367.4 348.5 370.4 347.2 372.9 345.3 375.8 343.9 378.3 341.9 382.1 342.5 384.9 339.8 387.3 341.8 389.7 338.1Z" stroke-width="0.90"/>
<path d="M345.5 305.7 348.3 306.6 350.3 307.4 353.6 312.2 351.8 314.4 352.2 316.8 352.7 319.7 352.6 322.3 351.7 324.8 350.9 328.2 351.1 331.4 347.8 333.2 344.4 333.6 341.3 334.8 339.1 336.6 336.3 337.0 334.5 337.8 331.2 336.0 330.3 332.1 332.8 330.6 334.2 328.2 336.0 326.1 337.6 323.6 334.6 323.7 332.2 322.0 332.2 317.0 333.3 314.8 336.7 314.2 340.4 314.8 339.5 311.0 341.6 308.2Z" stroke-width="0.90"/>
<path d="M369.3 260.5 369.0 264.5 369.5 267.5 367.4 263.2Z" stroke-width="0.90"/>
<path d="M363.0 275.6 361.9 277.3 361.3 274.9Z" stroke-width="0.90"/>
<path d="M296.0 212.2 297.2 213.4 298.5 214.4 299.8 215.4 301.3 216.1 303.2 215.8 304.7 218.6 306.5 217.9 308.4 217.9 310.1 216.0 312.0 216.0 313.9 216.5 314.6 217.4 317.1 217.4 318.5 218.5 320.2 219.3 319.9 221.4 322.9 222.3 324.7 223.8 323.0 225.8 321.4 226.9 320.8 228.7 320.2 230.5 318.6 231.6 318.7 234.4 316.4 234.1 315.4 236.8 313.5 237.4 311.2 236.9 309.5 237.2 308.1 238.2 306.9 240.0 305.1 238.1 303.2 238.0 301.1 238.3 299.6 237.3 298.1 236.2 296.2 236.1 294.3 236.0 294.1 232.0 293.3 234.1 293.5 232.0 295.3 231.2 295.0 229.1 294.6 226.7 291.7 227.4 291.6 224.6 289.8 224.2 291.2 222.3 287.8 220.4 290.1 219.5 289.9 216.2 292.3 216.7 295.0 216.7 293.1 212.7Z" stroke-width="0.90"/>
<path d="M345.1 250.5 347.2 252.8 346.7 257.6 345.3 254.9 343.8 251.9Z" stroke-width="0.90"/>
<path d="M575.8 346.1 578.8 344.4 580.9 342.2 582.8 339.8 584.9 337.6 587.4 335.7 588.1 332.9 589.4 330.3 591.6 328.1 592.3 325.2 594.3 323.1 596.6 321.2 598.6 319.0 600.0 316.4 601.9 313.8 604.8 313.6 607.7 314.0 611.8 313.9 613.7 311.7 616.5 310.9 618.5 309.0 621.0 307.6 622.8 305.1 625.4 303.5 627.6 301.3 628.9 298.6 630.2 296.1 630.6 293.3 632.2 290.9 632.1 288.0 633.2 285.9 630.0 281.9 627.1 281.8 624.4 280.6 621.3 280.1 618.2 281.2 615.3 282.8 612.0 283.1 608.9 283.3 606.0 284.3 603.0 285.2 599.9 285.5 596.9 285.8 593.7 286.1 590.7 287.3 587.9 287.8 586.4 291.1 584.4 294.2 583.4 296.9 583.1 299.8 582.1 302.4 578.7 304.5 576.5 303.0 574.4 301.7 570.9 301.3 567.8 300.9 569.1 297.6 570.6 294.6 567.9 294.6 565.5 295.6 562.4 295.1 560.9 297.5 558.8 299.4 556.8 301.4 555.3 303.4 554.9 306.6 555.5 309.6 556.5 312.7 556.8 315.9 557.7 318.6 557.5 321.4 557.0 324.1 557.6 326.8 558.1 330.1 558.2 333.4 559.2 336.6 559.1 340.0 560.1 343.7 563.5 343.8 566.2 345.5 569.4 346.0 572.6 345.8Z" stroke-width="0.90"/>
<path d="M587.5 287.7 589.8 286.0 591.4 283.8 590.1 280.4 589.6 276.9 588.1 274.2 586.2 271.5 586.9 267.9 587.0 264.1 585.6 266.0 583.9 268.2 582.0 270.2 580.5 272.5 579.9 277.6 578.2 280.3 577.7 283.6 575.8 286.2 575.0 289.0 577.2 291.1 579.7 292.6 582.4 291.1 585.1 289.6Z" stroke-width="0.90"/>
<path d="M576.4 347.9 579.6 347.3 582.7 346.2 581.4 349.3 579.6 352.2 577.0 354.4 574.1 356.2 571.4 358.3 566.8 358.0 569.3 355.5 571.6 352.8 574.0 350.3Z" stroke-width="0.90"/>
<path d="M630.7 205.5 629.7 208.0 629.9 210.8 629.4 213.4 629.0 216.1 627.8 218.6 627.3 221.2 626.4 223.7 625.7 226.2 624.2 228.8 626.5 230.8 627.1 233.8 628.9 236.0 630.4 238.5 631.8 241.2 634.5 241.6 637.0 242.6 639.4 243.8 642.0 244.6 644.4 245.9 646.8 247.3 650.1 247.3 653.4 247.0 656.7 247.5 659.3 246.4 662.1 246.7 664.7 245.3 667.4 244.8 670.1 244.2 672.9 244.2 675.1 243.3 674.6 246.4 676.9 248.1 678.1 250.5 679.7 252.7 681.4 254.8 682.5 257.6 685.2 259.2 686.6 261.8 689.6 262.3 692.7 262.8 695.7 262.1 698.7 260.9 701.6 259.7 704.0 257.4 706.9 256.2 708.9 254.5 709.6 251.8 711.3 249.7 712.6 247.5 714.1 245.4 715.1 243.2 715.4 239.6 716.5 235.5 713.5 234.5 710.7 233.4 707.7 232.7 705.0 232.3 702.3 231.5 699.5 231.5 696.8 230.8 694.2 229.8 691.4 230.1 688.6 229.7 686.0 227.9 683.0 227.3 679.8 226.9 676.5 223.8 673.5 222.9 670.3 222.9 667.5 221.9 664.8 222.0 662.2 222.2 659.6 223.0 657.0 223.1 654.5 224.1 651.4 224.5 648.2 224.3 645.1 225.1 645.4 222.4 644.6 219.8 644.6 217.1 644.3 214.4 644.6 211.7 644.1 209.3 642.1 207.0 640.1 204.8 638.3 202.3 635.8 203.6 633.2 204.5Z" stroke-width="0.90"/>
<path d="M663.3 411.6 665.5 413.4 668.2 414.7 670.6 416.4 673.4 417.4 675.8 419.1 678.8 419.5 681.7 420.7 684.8 421.1 687.9 421.7 690.4 422.8 692.7 424.2 695.1 425.5 697.5 426.9 699.7 428.5 702.2 429.6 705.0 430.3 707.8 431.3 710.5 432.2 713.1 433.8 716.0 434.3 718.6 435.6 721.3 436.6 724.1 437.4" stroke-width="0.90"/>
<path d="M664.5 410.4 667.1 411.4 669.9 411.4 672.4 412.3 675.0 413.0 678.2 413.3 681.3 414.4 684.5 414.5 687.9 415.0 686.6 412.7 685.2 410.4 684.4 407.9 683.2 405.5 682.0 403.1 681.5 400.4 682.8 403.2 684.9 405.5 686.4 408.1 688.0 410.7 689.6 413.3 689.0 416.6" stroke-width="0.90"/>
<path d="M752.0 307.6 753.2 310.6 753.8 314.0 756.6 314.1 759.2 315.0 761.9 315.4 764.6 315.4 767.5 315.5 770.5 315.7 773.4 316.1 776.3 316.0 779.3 316.1 782.4 316.0 780.1 314.7 778.1 313.0 776.1 311.3 774.0 309.7 771.9 308.2 769.9 306.5 768.2 304.5 766.1 302.8 764.2 301.0 762.3 299.2 759.9 298.0 758.0 296.2" stroke-width="0.90"/>
<path d="M363.7 111.5 366.9 110.6 370.1 110.0 372.3 106.9 375.5 106.8 378.6 107.1 381.5 108.2 384.5 108.3 388.4 107.6 387.2 110.3 388.7 113.0 387.7 115.7 387.7 118.4 388.5 121.7 386.3 124.1 385.1 127.0 383.3 129.6 381.5 133.0 379.0 131.5 377.1 129.2 375.0 127.3 372.4 125.6 371.6 122.4 368.8 120.9 366.5 118.7 365.2 115.0Z" stroke-width="0.90"/>
<path d="M395.0 81.6 395.8 78.7 396.0 75.6 397.9 73.0 398.9 70.5 400.8 68.5 403.1 67.1 404.2 64.1 407.3 63.3 407.4 66.5 408.2 69.7 407.4 73.0 405.9 76.3 403.0 78.4 400.8 80.9 397.9 81.4Z" stroke-width="0.90"/>
<path d="M437.9 64.3 438.9 66.9 439.7 69.5 440.8 72.0 440.6 74.8 440.0 77.7 441.3 80.2 442.7 82.7 442.4 85.7 445.0 87.3 446.1 90.1 447.5 92.6 448.5 95.4 451.4 96.9 452.7 99.6 453.9 102.1 456.0 103.7 458.1 105.4 460.0 107.2 462.2 108.8 463.8 110.7 465.4 108.6 468.1 107.6 470.0 105.8 471.0 103.0 473.3 100.4 469.7 101.6 466.8 100.5 464.1 98.8 461.0 98.4 457.9 97.3 457.8 94.3 454.7 93.0 453.4 90.7 452.1 88.4 451.6 85.6 449.3 83.9 447.4 82.0 447.0 78.7 445.1 76.4 443.2 74.1 442.2 71.2 440.9 68.5Z" stroke-width="0.90"/>
<path d="M476.5 99.2 479.1 97.9 481.8 96.4 479.3 93.9 477.6 96.4Z" stroke-width="0.90"/>
<path d="M200.0 147.7 197.9 145.2 196.5 149.0 194.7 149.1 193.2 146.2 190.8 149.1 189.5 146.5 187.7 146.2 185.9 145.9 183.3 144.1 181.9 145.3 181.2 149.3 178.7 147.4 177.9 149.2 176.4 150.1 175.9 152.2 173.7 154.1 172.5 150.9 170.1 151.4 168.5 152.4 166.6 152.8 164.6 152.9 160.7 152.9 162.0 150.5 159.4 149.4 158.5 147.7 158.0 145.8 158.3 145.0 159.3 141.2 155.5 142.3 155.5 139.6 155.7 138.6 154.7 136.5 153.6 134.4 157.9 134.2 158.5 132.7 154.7 129.6 156.3 128.5 158.2 127.4 160.4 126.2 158.4 124.1 160.5 122.7 158.1 120.6 161.0 119.4 159.0 117.3 160.5 114.9 161.5 117.7 163.0 118.7 164.6 119.1 166.7 118.2 168.6 117.9 169.3 119.7 171.0 120.5 171.7 122.5 175.5 123.4 173.8 119.5 176.0 119.2 178.4 119.1 177.6 116.2 179.4 114.3 181.1 112.8 183.8 115.5 186.2 117.0 189.9 115.4 186.6 111.4 190.3 111.3 189.9 108.9 192.0 107.8 191.5 105.7 195.0 105.4 196.1 103.9 192.0 100.0 196.2 100.1 193.9 97.0 194.2 95.3 196.2 94.2 199.2 93.5 201.3 92.5 197.4 88.9 199.2 87.7 198.3 85.5 201.6 85.2 201.9 83.6 202.0 81.9 202.2 80.2 205.5 79.8 206.3 78.4 204.0 75.7 205.4 74.2 207.5 74.2 209.3 73.8 211.4 73.8 210.6 70.1 212.0 70.6 213.9 70.3 215.2 72.2 218.0 69.1 219.6 69.8 222.9 71.4 218.9 74.4 223.1 75.0 222.3 77.0 224.8 78.0 224.2 80.5 225.6 82.6 222.2 84.0 224.2 86.3 221.2 87.5 222.5 89.9 222.2 91.7 220.2 93.0 220.3 94.9 220.3 96.8 220.9 98.8 220.3 100.3 215.3 100.4 218.0 103.0 218.8 105.0 217.7 106.3 215.6 107.5 212.3 108.4 216.2 111.3 212.1 112.0 213.7 114.3 213.0 115.8 210.2 115.6 210.9 118.3 211.4 120.8 208.2 120.2 206.7 121.1 205.8 122.5 206.3 125.0 202.4 123.9 201.2 126.5 200.3 128.0 203.2 130.1 200.7 131.4 201.1 133.1 204.0 135.2 204.6 137.0 203.5 138.6 203.5 140.2 203.5 141.8 201.6 143.1 199.1 144.3 201.3 146.3Z" stroke-width="1.20"/>
<path d="M230.4 77.9 232.2 77.6 233.6 74.9 235.7 75.4 238.0 78.5 239.5 73.9 241.7 76.1 243.7 77.2 245.6 76.9 247.5 76.6 249.5 75.0 251.5 76.8 253.4 76.8 255.1 76.5 256.7 77.5 258.3 73.4 259.9 77.4 261.6 74.8 263.2 76.4 265.1 74.4 266.6 77.6 268.6 73.6 270.2 76.3 271.8 74.7 273.5 75.4 275.2 75.3 276.9 76.6 278.7 77.3 280.2 75.1 281.9 76.2 283.4 74.7 285.0 74.2 287.0 76.9 288.4 74.0 290.0 72.8 291.8 73.8 293.7 75.5 295.3 74.2" stroke-width="1.10"/>
<path d="M230.4 77.9 228.9 76.5 230.6 74.4 229.5 72.9 229.7 71.2 227.4 69.9 226.8 68.4 226.5 66.8 226.8 64.9 226.7 63.2 224.7 62.0 226.1 59.9 225.4 58.0 226.8 56.7 228.8 56.4 231.2 56.8 231.2 53.4 232.6 54.6 235.3 53.7 236.1 56.1 239.0 54.8 238.0 57.3 240.4 58.6 238.6 60.5 241.6 61.7 241.1 63.5 240.2 65.2 242.4 66.8 242.0 68.6 240.4 70.5 239.4 72.4 241.1 74.3" stroke-width="0.90"/>
<path d="M153.6 166.3 153.5 168.0 153.2 169.7 151.8 170.7 148.7 170.9 151.0 173.9 148.4 174.6 148.5 176.7 146.7 177.8 147.5 180.2 145.1 181.1 143.5 182.4 143.1 184.2 143.5 186.1 143.5 187.9 142.0 188.9 141.9 191.4 138.6 190.2 137.6 191.8 136.9 193.6 134.8 194.5 135.4 196.4 135.1 198.1 135.4 200.0 133.5 201.4 133.2 203.2 133.1 204.9 134.7 207.1 131.9 208.2 132.2 210.0 131.6 211.6 131.5 213.2 130.0 214.8 133.2 216.5 131.8 218.1 129.5 219.7 130.6 221.8 132.4 223.9 130.7 225.7 129.2 227.0 131.1 229.3 128.7 230.3 131.2 232.8 127.3 233.3 128.8 235.5 129.0 237.9 126.1 237.1 125.4 238.8 123.4 239.1 122.5 240.5 123.0 241.7 121.0 241.5 121.0 238.9 117.2 240.7 117.5 236.8 115.6 236.9 113.5 238.3 112.5 235.6 110.4 236.6 108.8 235.8 107.6 234.0 104.7 236.0 103.6 234.6 103.2 232.4 100.4 233.1 100.4 230.5 99.7 228.7 97.6 228.6 95.6 228.3 95.7 225.4 94.7 224.3 93.3 223.2 91.4 222.4 91.3 220.1 89.7 219.0 86.4 219.3 86.2 217.4 84.3 216.8 83.1 215.7 83.2 213.6 84.0 211.0 82.9 209.8 79.5 210.3 78.8 208.8 78.5 207.0 78.5 204.1 76.6 204.3 75.5 202.6 72.7 205.1 72.7 201.0 69.9 203.4 69.1 201.1 67.7 199.4 65.8 199.7 63.6 201.4 62.2 199.1 60.3 199.7 58.2 201.0 56.7 199.3 55.1 199.0 53.3 197.7 51.5 199.0 49.7 197.6 48.0 197.2 45.6 199.1 43.9 198.7 43.2 195.8 41.2 195.9" stroke-width="1.10"/>
<path d="M153.6 166.3 150.7 166.3 148.3 167.2 145.9 168.3 142.5 167.3 140.7 169.3 137.4 167.5 134.3 165.6 131.8 162.9 132.1 159.6 133.0 157.0 134.8 154.6 137.1 152.9 139.7 151.9 141.8 150.2 145.2 149.4 147.3 147.2 148.8 144.6 148.0 141.7 148.4 139.0 149.1 136.0 150.9 133.2 149.8 130.0 150.0 126.1 148.0 122.9 147.5 119.2 146.0 116.5 143.1 115.2 140.7 117.2 137.6 116.0 135.3 117.4 133.0 118.9 129.8 118.7 128.5 121.6 125.7 122.3 123.7 124.2 121.3 125.3 119.0 127.0 116.2 126.7 114.5 129.1 112.1 131.0 109.3 131.9 107.9 134.9 105.0 135.4 103.0 136.8 100.1 137.6 97.4 136.7 94.5 137.1 92.2 134.7 88.6 135.7 85.7 134.5 82.5 133.9 79.1 132.0 76.6 133.3 74.5 135.3 72.2 136.8 70.0 138.9 66.7 137.7 64.2 140.8 61.0 139.3 57.4 138.2 58.4 133.5 60.3 130.1 61.5 126.3 65.3 124.4 67.4 122.0 69.3 118.8 72.4 119.6 74.8 118.5 75.7 115.8 77.2 113.5 77.9 110.8 80.0 108.7 81.0 106.1 83.0 104.1 84.5 101.4 85.9 98.8 85.9 95.4 88.4 93.3 89.2 90.6 93.1 87.4 94.3 84.8 92.1 81.7 93.6 79.2 93.8 76.4 94.8 74.0 95.1 71.0 98.3 69.6 97.8 66.1 99.5 63.9 100.3 61.2 102.5 59.0 106.0 58.4 108.8 55.2 111.4 55.4 114.1 56.7 116.6 56.5 119.2 58.2 122.5 58.2 124.7 61.0 127.5 61.8 130.2 62.9 133.8 62.2 135.4 64.6 138.3 65.0 139.1 68.5 140.8 69.9 142.7 72.4 146.5 73.7 147.3 76.7 151.6 79.8 154.2 79.8 156.9 78.6 159.4 80.5 162.4 79.6 165.0 80.6 167.2 80.2 170.2 79.7 171.8 77.1 173.9 75.6 176.9 74.5 178.8 72.2 181.4 70.7" stroke-width="0.90"/>
<path d="M141.7 103.9 140.2 101.5 137.5 100.3 135.7 98.0 135.4 94.9 136.4 91.6 138.9 90.2 141.3 88.6 143.5 86.7 146.0 85.5 147.0 82.6 150.0 82.0 151.8 79.0 154.1 81.6 157.2 81.8 160.1 82.6 162.7 83.7 160.7 85.5 158.9 87.4 158.2 90.2 157.0 93.5 154.9 96.2 152.0 98.2 150.0 100.3 147.9 102.2 146.0 105.1Z" stroke-width="0.90"/>
<path d="M75.4 220.1 75.4 216.9 75.0 214.4 72.4 213.7 69.8 212.9 67.7 211.6 65.3 209.9 63.5 207.6 60.6 206.4 59.0 203.9 56.8 202.4 53.7 201.0 50.5 200.2 47.5 198.5" stroke-width="0.90"/>
<path d="M75.4 220.1 73.2 223.3 70.3 222.6 68.0 220.8 65.4 219.0 63.6 221.2 62.0 223.5 61.1 226.2 58.4 228.4 55.1 230.8 56.7 233.3 57.2 236.3 55.4 234.7 51.0 238.2 49.5 236.0 48.0 233.9 46.4 231.8 44.8 230.0 41.9 228.4 38.9 227.0 36.3 225.9 34.9 223.3 31.9 222.8 30.1 220.6 27.4 218.5 24.4 216.7 21.6 215.0 18.7 214.8 15.9 214.0 13.2 213.7 8.9 214.9 8.4 217.7 6.7 220.2 6.2 223.0 3.6 221.7 2.0 219.3 0.6 216.7 -2.5 215.8 -4.0 213.2" stroke-width="0.90"/>
<path d="M76.2 248.6 74.8 251.0 72.9 253.3 72.3 256.4 70.0 254.9 67.5 254.0 65.4 252.9 63.2 254.1 60.7 252.5 57.9 251.4 55.5 249.5 53.0 247.9 50.7 246.3 47.7 246.2 45.2 245.0 42.9 243.7 40.4 242.6 37.2 240.3 33.3 239.3 36.5 235.9 39.5 232.4 42.5 233.4 45.1 235.4 48.5 235.7 51.0 238.7 54.0 239.7 57.5 240.3 59.3 242.7 60.6 245.9 64.1 247.0 67.8 247.8 70.7 247.1 73.4 248.7Z" stroke-width="0.90"/>
<path d="M63.7 231.6 65.1 234.4 65.6 237.4 66.7 240.3 67.7 242.8 65.1 243.1 62.1 243.5 62.1 240.6 61.2 238.1 60.2 235.6 61.5 233.2Z" stroke-width="0.90"/>
<path d="M124.2 243.6 120.5 244.1 117.4 245.9 116.9 249.0 116.2 252.1 116.6 255.2 119.1 258.2 117.4 261.0 117.0 263.8 115.0 265.8 114.6 269.6 113.0 273.0 111.9 275.4 111.1 278.7 108.3 279.7 105.1 280.2 101.7 282.5 100.9 278.1 100.8 273.9 98.6 271.1 97.1 268.4 94.9 265.9 93.9 263.3 92.7 260.8 92.5 257.6 89.9 256.1 89.1 253.4 85.9 252.4 84.8 249.6 87.5 248.5 90.4 247.9 92.4 244.7 95.7 246.6 98.8 245.2 101.5 243.8 104.5 244.0 107.0 243.1 109.9 243.0 112.1 242.9 115.3 242.2 118.2 243.2 121.3 242.8Z" stroke-width="1.10"/>
<path d="M83.1 214.9 83.9 217.9 85.5 220.6 86.0 223.7 87.5 226.4 88.3 229.3 83.6 227.8 83.1 224.4 82.3 221.1 81.8 217.6Z" stroke-width="0.90"/>
<path d="M41.2 195.9 38.8 194.2 36.4 192.6 33.9 191.0 30.9 189.9 27.9 188.7 24.8 188.1 22.5 186.3 20.2 184.7 18.1 182.8 15.2 181.6 12.8 179.7 10.0 178.5 7.6 176.7" stroke-width="0.90"/>
<path d="M216.7 438.7 219.3 438.1 221.2 440.1 218.5 440.7Z" stroke-width="0.6" fill="#000"/>
<path d="M204.9 427.1 208.0 426.5 210.1 428.9 207.0 429.6Z" stroke-width="0.6" fill="#000"/>
<path d="M199.4 426.1 201.5 425.7 202.9 427.4 200.7 427.8Z" stroke-width="0.6" fill="#000"/>
<path d="M184.3 411.4 185.9 411.2 186.9 412.5 185.3 412.7Z" stroke-width="0.6" fill="#000"/>
<path d="M270.1 500.1 272.3 499.3 274.2 500.7 272.0 501.6Z" stroke-width="0.6" fill="#000"/>
<path d="M265.9 543.3 269.6 542.0 272.8 544.2 269.1 545.6Z" stroke-width="0.6" fill="#000"/>
<path d="M274.9 547.6 277.9 546.4 280.6 548.3 277.6 549.4Z" stroke-width="0.6" fill="#000"/>
<path d="M288.9 545.1 292.5 543.7 295.7 545.8 292.1 547.3Z" stroke-width="0.6" fill="#000"/>
<path d="M293.5 539.5 296.5 538.3 299.2 540.0 296.2 541.3Z" stroke-width="0.6" fill="#000"/>
<path d="M262.1 544.7 263.9 544.1 265.5 545.2 263.6 545.9Z" stroke-width="0.6" fill="#000"/>
<path d="M256.9 537.8 258.7 537.2 260.3 538.3 258.5 539.0Z" stroke-width="0.6" fill="#000"/>
<path d="M383.3 404.5 386.0 404.9 388.5 406.1 391.1 406.6 393.8 407.0 396.4 407.5 398.8 408.9 402.2 408.8 405.6 409.4 408.4 408.8 411.1 408.7 413.9 408.3 416.7 408.0" stroke-width="0.75"/>
<path d="M397.9 336.0 401.9 338.5 404.9 339.5 408.0 340.2 412.0 341.0 415.0 342.2 417.7 344.2 421.0 344.5 423.9 345.6 426.6 345.9 429.2 344.9 431.7 345.2 431.8 348.3 431.9 351.4 432.1 354.5 432.2 357.9 428.5 359.3 428.0 361.9 427.3 364.5 427.3 367.3 426.2 370.1 429.5 371.0 432.9 372.6 432.6 376.2 432.6 379.8 435.5 381.8 437.7 384.5 440.3 386.6 440.5 389.3" stroke-width="0.75"/>
<path d="M404.9 331.5 408.4 331.5 411.5 331.1 415.2 332.5 416.4 333.9 416.9 336.8 418.1 339.6 419.9 341.6 421.2 343.9" stroke-width="0.75"/>
<path d="M416.8 312.3 416.9 315.3 417.5 318.3 418.4 321.5 416.4 323.7 414.7 325.8 414.7 329.1 415.4 332.4" stroke-width="0.75"/>
<path d="M419.7 298.6 422.6 297.4 425.6 296.7" stroke-width="0.75"/>
<path d="M447.3 296.4 449.1 298.7 450.7 301.1 452.4 303.5 453.7 306.2 455.6 308.7 457.3 311.4 459.0 314.0 460.5 316.8 460.0 318.5 458.2 321.0 455.6 322.5 453.4 324.4 451.4 326.6 449.2 328.7 450.8 330.8 452.7 332.7 454.5 334.9 458.0 336.0 461.5 336.3 460.9 339.6 461.3 342.2 460.7 344.9 461.4 347.7 458.8 348.3 456.5 349.9 454.0 350.8 451.5 351.9 448.9 352.6 446.4 353.5 443.5 354.6 440.5 355.2 437.5 356.1 434.8 357.0 432.0 357.6" stroke-width="0.75"/>
<path d="M443.0 354.2 445.9 356.7 449.2 358.0 452.5 358.4 455.6 357.6 458.6 356.6 461.9 357.0 465.1 355.3 468.6 354.8 470.8 358.1 472.2 361.7" stroke-width="0.75"/>
<path d="M468.7 354.8 471.3 353.4 473.2 351.1 475.9 349.8 477.7 347.4 480.2 346.1 484.4 347.8" stroke-width="0.75"/>
<path d="M460.5 316.8 463.8 317.1 467.0 317.7 470.2 318.9 473.0 318.7 475.6 317.8 478.3 317.4 480.8 316.7 485.3 318.9 487.8 317.6 490.5 317.1 493.1 315.8 496.0 315.1 498.7 314.0 501.5 313.1 504.2 312.1" stroke-width="0.75"/>
<path d="M461.7 336.4 465.1 335.6 468.7 335.5 470.7 333.6 472.9 332.0 474.8 330.0 477.2 328.6 479.8 330.2" stroke-width="0.75"/>
<path d="M479.8 330.2 480.3 332.7 480.7 335.7 482.8 336.3 485.5 333.6 488.5 331.3 491.0 329.8 493.6 328.6 496.1 327.3 498.7 325.6 500.5 322.9 502.4 320.1 504.0 317.2" stroke-width="0.75"/>
<path d="M469.0 281.5 471.9 280.5 474.6 279.2 476.9 277.0 479.9 276.0 482.6 274.7 487.0 275.7 488.2 278.1 489.4 280.5 490.2 283.0 492.1 285.1 492.9 287.6 495.2 290.3 498.5 291.8 500.8 294.0 502.7 296.7 504.9 298.5 505.6 301.3 505.3 304.0 504.3 306.6 504.2 309.4 504.2 312.1 504.0 317.2" stroke-width="0.75"/>
<path d="M466.8 264.1 469.2 263.0 471.7 261.9 474.1 260.7 476.1 258.7 478.5 257.5 481.4 256.7 484.0 255.4 486.5 253.8 488.9 252.0" stroke-width="0.75"/>
<path d="M472.8 246.3 476.5 245.2 480.2 244.1 482.9 242.7 485.6 241.4" stroke-width="0.75"/>
<path d="M478.6 227.7 480.5 230.2 481.2 233.3 483.0 235.8 484.2 238.7 485.6 241.5 488.0 242.9 490.1 244.8 492.5 246.2 494.6 247.5 497.9 247.1 500.7 245.3 503.7 244.2 506.9 243.2 509.5 244.3 512.1 245.6 514.9 246.1 517.6 247.0 520.1 248.3 523.0 249.0 523.7 251.6 524.9 253.9 525.3 256.6 526.9 258.8 527.4 261.1 529.9 259.8 532.5 258.4 535.2 257.4 537.5 256.0 540.0 256.9 542.7 257.5 545.4 257.9 547.7 259.4 550.5 259.7 552.8 260.5 555.3 259.2 557.9 258.3 560.0 256.3 562.3 254.9 564.9 254.0 567.6 253.6 570.2 252.5 572.9 251.8 575.7 251.9 578.1 251.2 578.9 253.7 578.7 256.4 579.5 258.9 579.9 261.5 579.9 264.1 580.2 266.9 583.5 269.6" stroke-width="0.75"/>
<path d="M487.2 275.7 488.4 273.1 489.9 270.8 490.4 267.9 492.1 265.6 491.8 262.4 491.4 259.2 492.1 256.1 492.3 253.1 493.4 250.4 494.7 247.8" stroke-width="0.75"/>
<path d="M492.9 287.6 496.1 287.5 499.3 287.0 502.4 286.4 505.4 285.3 507.6 283.9 509.0 281.5 511.2 280.1 513.1 278.6 515.3 276.8 517.7 275.8 520.4 275.2 522.9 274.4 525.4 273.2 528.2 272.1 528.2 269.1 528.6 266.1 529.2 263.3" stroke-width="0.75"/>
<path d="M472.3 220.5 472.0 217.4 472.3 214.4 473.0 211.3 471.8 206.7 471.4 203.7 471.0 200.8 470.5 198.2 467.7 196.9 464.9 195.9 461.9 194.8 460.3 192.7 458.4 190.9 456.6 189.0 454.7 187.2 452.5 185.6 450.9 183.7 448.9 181.9 447.7 179.5 446.5 177.4 444.3 175.8 442.3 173.9 440.3 172.4 437.9 169.3 435.6 166.0 435.8 163.3 436.1 160.7 436.1 158.0" stroke-width="0.75"/>
<path d="M420.6 262.5 420.3 259.4 420.7 256.2 420.8 253.1 420.2 249.9 419.5 247.4 418.9 244.8 417.7 242.4 415.0 239.3 414.5 236.6 413.4 234.2 411.3 232.1 411.8 228.8 411.1 225.5 412.0 222.0 413.3 218.8 412.1 215.0 412.4 211.7 411.7 208.4 411.2 205.1 411.6 201.7 412.3 198.2 411.2 195.2 410.6 192.2 411.5 189.0 412.3 185.8 413.5 183.3 415.1 181.0 416.6 178.7" stroke-width="0.75"/>
<path d="M438.4 194.3 436.0 192.3 434.1 189.8 432.2 187.2 429.9 185.6 427.8 183.7 425.8 181.7 423.5 180.2 420.2 179.4 417.2 178.7 418.6 176.3 420.2 173.9 422.0 171.6 423.6 169.3 425.2 166.9 428.1 164.6 430.4 161.4 432.8 164.1 435.9 166.0" stroke-width="0.75"/>
<path d="M504.0 317.2 506.8 319.2 510.2 320.8 512.2 318.5 514.8 317.0 517.5 315.6 519.5 313.3 521.1 311.2 523.3 309.6 524.7 307.3 526.7 305.6 528.2 303.3 530.5 301.8 532.1 299.3 535.0 299.9 537.7 301.2 540.7 301.6 543.5 302.6 546.4 303.9 549.1 305.7 552.1 306.7 551.6 309.4 551.3 312.2 550.1 314.8 549.7 317.5 548.8 320.1" stroke-width="0.75"/>
<path d="M510.0 320.5 509.7 323.6 509.4 326.7 509.4 329.8 509.6 333.1 507.9 335.3 506.5 337.7 505.0 340.1 503.3 342.2 502.3 344.9 499.7 346.2 497.5 348.1 494.7 348.9 492.3 350.9 489.8 349.4 487.2 348.5 484.4 347.8" stroke-width="0.75"/>
<path d="M505.1 340.1 508.6 341.5 511.7 343.8 514.5 343.8 517.2 344.1 519.9 344.7 522.6 345.5 525.8 345.4 529.0 345.7 532.2 345.9 535.5 346.7 538.1 344.9 540.9 343.3 543.5 341.8 545.4 339.0 547.9 336.6 549.6 333.9 552.1 333.1 554.5 332.1 556.9 330.9 559.2 329.8" stroke-width="0.75"/>
<path d="M522.7 345.0 523.9 347.7 525.5 350.1 526.9 352.7 528.4 355.1 530.4 357.3 531.3 360.1 533.2 362.2 535.9 364.4 538.1 367.1 541.0 369.0" stroke-width="0.75"/>
<path d="M541.0 369.0 539.7 368.2 542.3 366.9 544.4 365.0 547.0 363.7 549.2 361.8 551.6 360.0 553.9 358.0 555.9 355.7 557.7 353.3 560.1 351.5 561.6 348.9 564.1 347.3 565.6 344.8" stroke-width="0.75"/>
<path d="M558.1 353.6 558.7 356.3 560.2 358.7 561.0 361.3" stroke-width="0.75"/>
<path d="M515.0 371.5 518.0 371.3 521.0 371.8 523.8 371.8 525.5 374.3 527.6 376.5 529.8 378.6 531.5 381.2 534.0 383.1 535.5 385.4 533.8 388.0 532.3 390.7" stroke-width="0.75"/>
<path d="M504.5 350.3 501.8 351.6 499.2 353.0 496.8 354.7 494.1 355.9 491.7 357.6 488.6 359.7 485.5 361.6 487.2 363.7 488.9 365.4 491.5 366.5 494.0 368.0 496.9 368.3 499.5 369.7 501.9 370.8 504.4 371.7 506.9 372.5 509.4 373.5" stroke-width="0.75"/>
<path d="M502.2 344.7 503.5 347.4 504.7 350.4 503.7 353.5 505.6 355.7 507.7 357.6 509.5 359.4 510.9 362.1 511.2 365.2 512.0 368.2 515.0 371.5" stroke-width="0.75"/>
<path d="M533.1 362.3 531.1 364.8 528.8 366.4 525.4 367.2 521.9 367.8" stroke-width="0.75"/>
<path d="M642.0 340.9 645.0 339.2 647.6 337.0 648.8 334.6 650.4 332.4 652.2 330.4 653.8 328.3 655.0 325.9 657.3 324.2 658.6 321.9 660.2 319.5 662.0 317.3 663.2 314.6 664.7 312.3 666.6 310.1 667.9 307.6 669.4 305.0 670.5 302.2 671.9 299.5 673.6 297.0 675.1 294.4 672.6 292.0 669.8 290.2 667.0 288.4 664.8 286.7 662.5 285.2 660.4 283.4 659.7 278.4" stroke-width="0.75"/>
<path d="M634.2 286.1 636.6 284.9 638.3 282.7 640.6 281.4 642.9 280.1 645.0 278.7 647.9 278.5 650.8 278.5 653.8 278.8 656.7 278.8 659.7 278.4" stroke-width="0.75"/>
<path d="M644.2 350.6 647.2 351.8 649.9 353.6 652.5 355.5 655.5 356.6 656.7 359.1 657.0 361.9 658.5 364.4 659.2 367.0 659.7 369.8 664.2 372.1" stroke-width="0.75"/>
<path d="M603.9 436.0 605.5 438.4 606.5 441.1 607.9 443.6 609.6 445.9 610.6 448.6 612.1 451.1 613.4 453.6 615.0 456.0 616.4 458.5 618.2 460.5 619.5 463.0 620.6 465.5 622.2 467.7 624.5 469.4 626.0 471.7 627.4 474.0 628.6 476.5 630.4 478.6 632.2 480.6 633.5 483.1 634.9 485.4 636.4 487.7 638.2 489.7 639.5 492.1 641.0 494.3 642.5 496.5 644.4 498.4 645.4 501.0 647.3 502.9 648.8 505.0 650.0 507.5 651.8 509.4 653.2 511.7 654.4 514.1 655.8 516.3 657.3 518.5" stroke-width="0.75"/>
<path d="M657.3 518.5 659.1 516.7 661.8 515.8 663.8 514.1 665.7 512.2 667.8 510.8 669.8 509.0 672.3 507.9 673.9 505.7 676.1 504.2 678.1 502.6 680.6 501.6 682.5 499.7 684.6 498.0 686.7 496.5 689.1 495.3 690.8 493.2 693.2 492.1 695.3 490.4 697.2 488.7 699.3 487.0 701.4 485.5 703.5 483.9 705.5 482.3 707.8 480.9 709.6 479.0 711.5 477.1 713.7 475.7 715.4 473.7 717.4 471.9 719.6 470.5 721.2 468.4 723.1 466.5 725.4 465.2 727.4 463.4 729.2 461.5 730.8 459.5 732.9 457.9 734.9 456.2 736.5 454.1 738.7 452.6 740.8 451.0 742.6 449.0 744.5 447.2 746.3 445.3 748.2 443.6" stroke-width="0.75"/>
<path d="M497.9 472.6 496.7 475.4 496.1 478.4 494.5 481.0 493.6 483.9 492.1 486.7 492.7 489.5 492.2 492.1 492.8 494.8 492.3 497.5 491.8 500.2 492.2 502.9 491.7 505.6 493.3 508.0 494.3 510.6 494.9 513.3 496.8 515.5 497.3 518.3 499.3 520.4 500.0 523.2 500.9 525.7 502.1 528.4 503.7 530.9 504.6 533.7 505.7 536.4 506.8 539.1 508.0 541.8 509.4 544.4" stroke-width="0.75"/>
<path d="M465.6 446.7 466.0 449.7 466.9 452.6 466.9 455.6 467.6 458.5 468.1 461.4 468.1 464.3 468.7 467.8 467.7 471.1 467.7 474.4 469.3 476.7 471.0 478.8 473.3 480.2 475.0 482.4 476.9 484.3 478.8 486.2 480.8 487.9 482.4 490.2 483.7 492.9 485.5 495.4 487.3 497.7 488.5 500.6 490.4 503.0 491.8 505.6" stroke-width="0.75"/>
<path d="M389.2 479.8 390.6 482.1 391.3 484.8 392.5 487.3 393.5 489.8 394.1 492.6 395.5 495.1 396.2 497.9 397.7 500.3 398.4 503.1 400.1 505.4 400.7 508.4 398.1 508.9 395.6 509.8 393.1 510.6 390.7 511.9 388.2 512.9 385.7 513.7 383.2 514.4 381.0 515.6 379.0 517.3 377.0 519.1 375.6 521.4 373.7 523.3 371.6 524.9 369.7 526.8 368.5 529.2 366.6 531.3 363.9 532.0 361.1 532.6 358.3 532.4 355.5 533.1 352.9 534.1 350.1 534.4 347.3 534.8 344.7 536.0 341.8 535.8 338.8 536.7 339.4 539.7 338.9 542.7 338.9 545.7 339.3 548.7 338.7 551.8 339.1 554.8" stroke-width="0.75"/>
<path d="M665.4 392.4 668.2 393.5 670.7 395.1 673.4 396.3 676.0 397.8 678.4 399.5 681.2 400.6" stroke-width="0.75"/>
<path d="M338.0 419.4 340.7 419.6 343.3 419.8 345.9 420.2 348.6 419.6 351.3 419.7 353.8 420.0 353.4 422.9 351.8 425.4 351.7 428.2 351.4 431.2 351.3 434.2 350.7 437.1 350.0 440.2 349.6 443.3 349.5 446.2 350.5 449.9 351.3 453.5 350.9 456.7 349.4 459.7 348.8 462.9" stroke-width="0.75"/>
<path d="M552.1 306.7 554.4 304.7 555.9 302.2 557.4 299.8 558.5 297.3 560.3 295.1 561.0 292.3 562.9 290.2 563.6 287.5 565.6 285.4 566.7 282.8 568.0 280.4 569.4 278.1 571.2 276.2 573.2 274.4 575.4 272.9 576.9 270.7 578.8 268.9 580.3 266.7" stroke-width="0.75"/>
<path d="M502.2 294.6 505.4 295.5 508.4 297.0 511.2 298.2 514.0 299.0 516.7 298.6 519.5 298.9 522.2 299.4 525.0 299.6 528.5 299.3 532.0 299.5" stroke-width="0.75"/>
<path d="M621.5 280.5 623.8 279.1 626.0 277.5 628.5 276.3 630.7 274.6 633.0 273.2 635.3 271.3 637.6 269.6 639.9 267.7 642.0 265.7 644.5 264.2 647.0 262.6 649.1 260.5 651.8 259.2 654.8 258.7 657.3 257.2 660.0 256.1 659.3 253.1 659.4 250.0 658.5 247.0" stroke-width="0.75"/>
<path d="M659.7 278.4 662.3 277.5 664.8 276.3 667.4 275.3 670.0 274.2 672.5 273.0 674.3 271.0 676.2 269.0 678.1 267.1 680.0 265.2 683.3 263.5 686.6 261.8" stroke-width="0.75"/>
<path d="M352.8 312.0 349.7 313.3 346.9 314.4 343.6 311.7 345.6 308.1" stroke-width="0.75"/>
<path d="M370.1 300.8 369.2 303.4 368.3 306.2 366.2 308.5" stroke-width="0.75"/>
<path d="M367.4 320.8 367.6 325.7 368.9 328.8 369.1 332.3 370.4 335.4" stroke-width="0.75"/>
<path d="M617.8 59.9 617.1 61.7 616.0 63.2 613.9 63.8 612.7 65.2 611.7 66.8 610.7 68.1 609.6 69.4 609.1 71.0 608.1 72.4 606.9 73.6 605.3 74.8 604.7 76.4 604.3 78.1 603.9 79.8 604.7 81.9 603.9 83.5 602.2 84.7 602.3 86.6 601.8 88.2 601.5 89.9 600.0 91.2 600.0 93.0 598.3 93.9 598.6 96.2 596.3 96.7 596.7 99.1 595.6 100.1 594.9 101.7 594.1 103.3 594.7 105.1 593.6 106.6 592.6 108.2 593.1 110.0 592.6 111.7 593.1 113.3 593.2 115.0 594.0 116.6 593.6 118.3 592.9 120.0 593.5 121.7 594.4 123.3 594.1 125.0 594.1 126.7 594.7 128.3 594.5 130.0 594.7 131.7 596.0 133.2 595.8 134.9 595.3 136.7 596.3 138.3 596.6 139.5 596.6 141.5 598.2 142.3 598.4 144.3 599.9 145.1 601.6 145.8 601.8 147.7 603.3 148.5 603.5 150.2 604.3 151.8 604.9 153.5 606.7 154.7 607.4 156.4 606.8 158.5 608.6 159.8 609.1 161.5 609.9 163.2 610.3 165.0 610.3 166.8 610.1 168.8 611.7 170.2 612.0 172.0" stroke-width="0.9"/>
<path d="M242.4 58.4 239.7 61.4 244.2 61.6 242.2 64.3 243.0 65.9 241.7 68.4 247.7 67.9 245.2 70.7 246.9 71.7 244.9 74.3 248.9 74.4 246.7 77.0 250.5 77.3 249.2 79.5 247.0 82.1 251.9 81.9 252.4 83.8 248.5 85.9 250.3 87.3 254.4 88.5 253.8 90.2 253.7 91.8 253.5 93.4 250.2 95.5 251.3 97.0 249.8 98.8 251.9 99.8 251.9 101.5 253.1 103.5 250.6 104.7 251.7 106.7 254.1 108.9 251.1 110.0 251.4 111.8 250.1 113.3 252.8 115.6 252.6 117.3 246.3 117.7 249.8 120.3 249.5 121.9 250.0 123.9 246.7 124.5 244.2 125.4 248.1 128.6 245.6 129.4 245.0 131.0 242.8 132.0 243.3 134.2 244.6 136.6 244.2 138.4 240.3 138.8 243.4 142.2 238.1 141.6 242.1 145.5 240.4 146.7 238.0 147.5 235.0 148.2 235.6 150.4 234.2 151.7 233.4 153.4 233.0 155.1 236.3 158.4 231.5 157.5 233.4 161.8 232.2 162.9 231.6 164.6 230.5 165.8 225.5 163.1 226.5 166.6 226.3 169.1 225.1 170.3 220.7 167.2 220.3 169.5 217.7 168.9 220.1 174.1 218.6 175.0 216.6 175.4 215.8 177.0 215.0 178.6 213.5 179.2 210.1 178.8 211.2 182.2 210.0 183.6 207.0 183.5 206.7 185.3 207.3 187.6 204.1 188.3 203.7 190.2 203.7 192.1 202.9 193.7 205.4 195.7 201.5 196.8 203.9 198.8 202.8 200.3 204.6 202.2 198.8 203.0 200.4 204.9 201.5 206.7 200.4 208.3 197.7 209.7 202.7 211.9 200.9 213.4 198.8 215.6 201.5 216.1 200.5 218.6 200.2 220.8 205.9 219.6 205.4 221.8 205.7 222.8 205.6 226.2 206.9 227.2 208.6 227.5 209.3 229.6 211.3 226.1 213.4 226.7 216.2 228.8 217.6 227.6 217.7 223.0 221.5 227.5 223.0 225.2 224.7 224.8 224.0 221.3 226.2 221.5 228.9 222.3 229.9 221.0 229.9 218.4 232.5 219.0 234.2 218.5 234.8 216.7 235.3 214.8 237.4 215.6 236.3 210.2 238.5 211.0 240.4 211.1 240.6 207.9 243.9 210.8 243.2 206.0 246.3 208.5 246.7 205.8 248.2 205.2 250.5 206.1 250.7 203.0 252.9 203.7 255.1 205.9 257.0 206.4 257.8 201.5 259.6 201.8 261.7 203.5 262.7 200.0 265.3 203.8 265.8 199.5 268.3 201.0 269.4 199.0 270.2 196.4 271.9 195.7 273.5 195.0 275.9 196.3 277.4 195.3 281.6 198.5 281.5 195.6 280.5 191.7 284.4 193.9 283.8 190.5 286.1 190.7 288.4 190.8 290.3 190.4 291.9 189.8 291.2 186.2 291.9 184.8 293.3 183.8 293.8 182.2 297.0 182.5 296.6 180.1 298.7 179.7 296.9 176.3 301.2 177.4 303.4 176.3 299.8 172.6 302.9 172.3 301.0 169.5 301.1 167.6 304.0 167.2 303.4 165.0 307.2 165.3 307.4 163.4 308.9 162.4 311.4 162.2 307.7 157.4 308.9 156.2 309.6 154.7 312.8 155.0 315.9 154.6 315.7 152.6 315.6 150.6 318.1 149.7 315.8 146.9 314.9 144.6 318.7 144.2 315.7 141.1 317.5 140.4 316.4 138.6 317.5 137.1 317.0 135.4 320.2 134.1 317.8 132.2 321.1 130.9 322.7 129.5 319.8 127.5 318.6 125.7 322.3 124.5 322.9 122.9 324.0 121.4 322.1 119.7 323.3 118.3 325.8 117.8 325.9 115.6 328.5 115.2 325.7 112.3 328.3 110.0 327.0 108.6 325.6 107.2 322.4 106.4 324.9 104.1 322.7 104.0 322.8 101.2 321.0 100.5 319.7 99.3 316.5 100.3 316.3 99.2 315.5 95.8 313.9 94.8 312.8 92.3 310.7 92.9 308.0 95.4 306.6 93.8 305.0 93.0 303.6 90.8 301.5 93.1 300.4 89.4 298.2 91.9 296.4 92.1 294.8 91.3 292.9 91.8 292.0 87.5 289.2 93.2 287.9 90.6 286.1 92.5 284.9 88.5 282.9 91.6 281.3 91.4 279.9 89.5 278.5 88.2 277.0 86.9 275.2 88.8 273.4 89.5 271.9 88.8 270.6 85.4 268.5 89.5 266.7 90.6 265.6 84.9 263.7 87.3 261.8 89.3 260.1 89.2 258.9 84.2 257.2 84.9 255.1 89.1 253.8 85.1 252.0 86.0" stroke-width="1.3"/>
<path d="M242.1 57.6 242.5 59.7 243.2 61.5 246.6 59.7 244.4 65.2 248.1 63.2 250.1 63.2 249.4 67.7 252.5 64.2 254.4 64.3 254.8 68.6 256.9 68.1 257.8 71.3 259.7 71.2 261.4 68.2 262.8 66.7 265.4 69.6 266.8 68.3 268.1 66.8 270.9 70.0 271.2 65.2 273.6 67.4 276.1 63.5 275.5 69.2 277.0 70.1 279.6 68.9 282.0 68.0 282.5 71.1 283.7 72.8 285.6 73.0 289.5 69.5 289.4 72.9 292.0 71.7 292.1 74.8 292.2 77.9 293.9 78.3 297.4 75.8 297.8 78.3 300.1 78.3 302.1 78.7 301.0 82.7 302.2 83.9 305.4 83.0 306.3 84.6 306.5 87.0 307.7 88.1 310.0 87.8 312.6 87.1 314.0 88.0 315.0 89.3 313.4 93.4 316.2 93.3 316.6 95.3 319.2 95.4 320.3 96.8 322.4 97.3 319.2 101.2 322.0 101.8 325.4 102.1 322.7 105.0 323.9 106.2 324.5 107.8 324.2 109.7 325.7 110.8 327.0 112.0" stroke-width="1.3"/></g>
<path d="M31.6 55.0 31.5 59.0 26.3 65.0 18.0 71.7 13.7 77.0 4.0 84.0 0.0 96.6M0.0 114.4 2.6 135.0 4.4 161.0 16.0 170.5 20.0 171.8 26.0 175.4 32.0 176.9 42.0 181.2 50.0 186.0 62.0 190.9 78.0 195.2 94.0 197.1 100.0 196.5 128.0 196.9 144.0 195.8 158.0 197.2 164.0 199.6 169.1 203.0 177.1 211.0 189.1 233.0 194.2 241.0 202.4 251.0 208.0 256.9 222.0 268.6 226.0 271.1 246.0 279.0 252.0 280.4 268.0 281.8 306.0 278.4 314.0 276.5 322.0 273.3 333.0 267.0 338.5 265.0 344.0 260.4 348.0 255.4 356.0 248.9 361.2 243.0 370.9 235.0 391.8 209.0 406.1 189.0 416.2 177.0 430.0 163.6 438.0 158.2 458.0 149.5 462.0 148.5 466.0 145.1 476.0 140.7 488.0 131.4 492.4 129.0 504.0 119.5 520.0 110.6 528.0 107.6 532.0 104.8 548.0 100.9 566.0 100.8 584.0 106.3 590.0 109.9 594.0 111.4 600.0 115.7 610.0 120.0 622.0 123.7 632.0 125.0 658.0 123.1 672.0 123.9M419.7 355.0 428.0 354.3 432.7 351.0 433.7 349.0 436.2 341.0 436.6 315.0 435.5 307.0 432.0 302.0 424.0 300.0 414.0 299.9 406.0 301.5 401.4 307.0 399.6 321.0 399.7 337.0 402.0 348.1 404.0 351.0 408.0 354.3 419.7 355.0M174.8 343.0 178.0 341.2 184.5 335.0 186.6 331.0 187.6 325.0 184.0 316.4 178.0 310.0 172.0 310.6 170.0 310.1 166.0 307.1 160.0 307.6 158.0 308.7 155.4 313.0 150.0 316.2 148.0 319.0 147.2 325.0 150.0 334.7 156.0 340.8 160.0 342.8 168.0 344.3 174.8 343.0" fill="none" stroke="#000" stroke-width="2.2" stroke-linejoin="round"/>
<g fill="none" stroke="#fff" stroke-width="1.5" stroke-linejoin="round"><path d="M300.4 237.0 303.8 235.0 305.5 233.0 306.1 229.0 305.5 227.0 302.0 223.7 296.0 220.9 294.0 220.8 288.6 227.0 288.0 229.0 288.6 233.0 290.2 235.0 294.0 237.2 300.4 237.0"/>
<path d="M100.2 169.0 108.0 165.6 112.0 161.0 112.7 155.0 110.7 151.0 108.7 149.0 102.0 145.6 94.0 144.6 86.0 146.2 79.3 151.0 77.3 155.0 77.3 159.0 79.3 163.0 81.2 165.0 84.2 167.0 90.0 169.0 100.2 169.0"/>
<path d="M304.8 247.0 312.0 244.9 318.0 240.9 321.4 237.0 324.0 229.0 322.3 223.0 320.0 219.0 316.0 215.5 310.0 212.4 304.0 210.8 296.0 210.0 290.0 211.0 284.7 213.0 276.0 218.9 273.5 223.0 272.0 229.0 273.5 235.0 276.0 239.0 284.0 244.9 288.0 246.3 298.0 247.9 304.8 247.0"/>
<path d="M105.2 177.0 110.0 175.4 116.9 171.0 120.8 167.0 123.0 163.0 124.0 157.0 123.4 153.0 121.6 149.0 118.0 144.6 113.1 141.0 106.0 137.9 100.0 136.7 94.0 136.5 88.0 136.9 82.0 138.7 76.0 141.4 71.5 145.0 67.3 151.0 66.0 157.0 67.0 163.0 70.8 169.0 78.0 174.3 84.8 177.0 96.0 178.4 105.2 177.0"/>
<path d="M303.6 253.0 310.0 251.4 319.0 247.0 323.4 243.0 327.4 237.0 329.0 231.0 328.7 225.0 327.3 221.0 322.7 213.0 320.0 209.5 316.0 206.6 312.0 205.1 306.0 204.2 288.0 205.8 278.0 209.7 271.5 215.0 266.7 223.0 265.8 231.0 266.7 235.0 268.6 239.0 272.0 243.6 276.0 247.0 286.0 251.8 292.0 253.1 303.6 253.0"/>
<path d="M172.6 337.0 176.0 335.0 179.0 331.0 180.0 327.0 178.0 321.0 174.0 317.6 170.0 316.3 166.0 316.3 162.0 317.6 158.0 321.0 156.4 325.0 156.4 329.0 158.0 332.9 160.0 335.0 164.0 337.2 168.0 337.8 172.6 337.0"/>
<path d="M385.9 139.0 389.5 135.0 394.4 127.0 398.0 123.3 414.0 115.1 418.0 111.6 420.4 105.0 420.0 101.8 418.0 99.3 413.5 97.0 408.0 96.1 382.0 97.7 376.0 99.3 372.0 101.6 371.3 103.0 371.5 105.0 373.6 113.0 373.2 121.0 378.0 125.5 379.3 129.0 377.0 137.0 380.0 139.7 382.0 140.1 385.9 139.0"/>
<path d="M366.8 129.0 368.4 127.0 368.0 125.7 366.0 126.0 365.1 127.0 365.1 129.0 366.8 129.0"/>
<path d="M108.0 183.0 120.0 178.1 124.8 175.0 130.3 169.0 133.6 163.0 135.0 157.0 134.3 151.0 131.7 145.0 126.5 139.0 120.0 134.5 112.6 131.0 104.0 128.9 94.0 128.0 84.0 129.2 74.0 131.9 66.0 136.3 60.0 141.4 55.4 149.0 54.1 157.0 56.3 165.0 62.2 173.0 70.0 178.2 82.0 183.4 88.0 184.3 100.0 184.2 108.0 183.0"/>
<path d="M305.3 259.0 316.0 255.8 324.0 250.9 330.0 244.5 334.2 235.0 335.0 229.0 334.6 223.0 330.0 207.3 328.0 203.3 326.0 201.3 321.0 199.0 312.0 198.0 298.0 198.6 279.9 203.0 272.0 207.0 267.0 211.0 262.4 217.0 259.9 223.0 259.0 229.0 260.4 237.0 264.3 245.0 270.0 250.6 278.0 255.8 286.0 258.5 296.0 259.9 305.3 259.0"/>
<path d="M172.3 341.0 176.0 339.8 181.9 335.0 184.8 329.0 184.9 323.0 182.0 317.0 178.0 313.5 172.0 311.1 164.0 311.5 158.0 314.8 154.8 319.0 153.3 323.0 153.2 329.0 154.7 333.0 158.0 337.5 164.0 340.8 172.3 341.0"/>
<path d="M388.5 149.0 395.1 145.0 406.0 134.3 422.8 123.0 427.8 117.0 431.1 107.0 431.5 101.0 428.6 95.0 422.0 89.8 414.0 87.3 396.0 86.4 390.0 86.9 378.0 90.4 370.0 96.2 368.0 98.5 367.0 103.0 369.1 111.0 368.6 115.0 366.0 119.0 360.3 125.0 358.5 129.0 358.1 133.0 358.9 135.0 360.0 135.6 364.0 135.7 368.0 134.4 369.8 133.0 370.0 131.9 372.8 139.0 378.0 146.0 384.0 149.4 388.5 149.0"/>
<path d="M104.6 191.0 120.0 187.4 128.0 184.4 135.4 179.0 144.4 169.0 146.8 163.0 146.5 153.0 143.0 143.0 137.6 135.0 132.0 129.9 126.0 126.7 112.0 121.6 100.0 119.9 86.0 120.4 76.0 122.3 62.9 127.0 54.0 132.7 45.5 143.0 42.9 149.0 42.0 155.0 42.5 161.0 44.5 167.0 51.4 177.0 60.0 183.5 78.0 190.9 88.0 192.2 104.6 191.0"/>
<path d="M292.8 267.0 310.0 266.0 326.0 258.9 332.0 254.1 337.5 245.0 341.4 233.0 343.9 207.0 352.1 187.0 357.4 167.0 358.0 161.0 357.8 147.0 356.0 140.7 354.0 140.0 352.0 140.9 347.8 145.0 330.4 181.0 325.1 187.0 316.0 190.9 294.0 194.3 274.0 200.2 261.9 207.0 255.3 215.0 252.6 223.0 252.5 235.0 255.1 243.0 260.0 250.8 266.1 257.0 280.0 264.9 286.0 266.9 292.8 267.0"/>
<path d="M178.9 345.0 184.5 341.0 188.4 337.0 198.0 322.0 210.5 315.0 212.0 312.9 212.7 309.0 212.1 307.0 210.3 305.0 202.0 300.6 198.0 299.3 194.0 299.1 178.0 301.7 164.0 302.6 160.0 304.1 156.0 308.1 151.5 317.0 150.0 323.0 150.3 331.0 153.9 339.0 157.5 343.0 160.5 345.0 174.0 346.2 178.9 345.0"/>
<path d="M297.1 283.0 304.0 281.1 318.0 280.3 322.0 279.1 336.0 269.2 340.9 263.0 347.9 241.0 352.9 217.0 361.7 195.0 363.9 187.0 364.3 175.0 367.2 161.0 360.9 149.0 360.2 145.0 361.5 141.0 366.0 139.5 368.0 140.0 370.0 141.9 373.2 149.0 374.0 157.0 374.8 159.0 380.0 160.4 390.0 160.3 400.0 157.4 414.0 150.5 430.0 139.3 436.0 133.6 444.0 118.1 447.0 109.0 446.6 99.0 444.8 89.0 442.0 82.5 438.4 79.0 434.0 77.3 426.0 76.1 388.0 74.8 382.0 75.8 374.0 79.6 368.0 85.0 363.5 95.0 362.8 101.0 365.7 111.0 365.6 113.0 357.2 123.0 352.7 133.0 344.0 143.8 336.3 159.0 323.5 179.0 318.0 183.5 312.0 186.2 274.0 195.3 259.2 201.0 250.0 206.0 244.9 219.0 243.0 233.0 245.4 247.0 252.0 262.0 257.3 269.0 270.2 281.0 277.5 283.0 286.0 284.2 292.0 284.4 297.1 283.0"/>
<path d="M99.2 201.0 110.0 199.8 122.0 196.3 133.0 195.0 144.0 187.3 157.7 181.0 166.2 175.0 167.3 173.0 167.4 169.0 165.7 165.0 159.1 155.0 156.7 143.0 153.3 135.0 146.0 124.2 138.0 117.7 130.0 114.0 114.0 111.0 100.0 109.9 84.0 111.0 62.0 115.9 52.0 120.0 45.0 125.0 35.6 135.0 31.5 141.0 29.2 147.0 28.0 155.0 28.7 163.0 31.5 173.0 35.1 181.0 38.0 185.3 42.0 188.8 60.0 197.6 68.0 200.7 74.0 201.9 86.0 202.4 92.0 202.3 99.2 201.0"/>
<path d="M183.2 351.0 198.0 346.4 210.0 339.0 220.0 329.4 231.1 321.0 237.0 315.0 241.6 309.0 242.9 305.0 241.7 297.0 240.1 293.0 238.0 290.6 234.0 288.4 220.0 285.5 192.0 283.4 176.0 285.6 170.0 287.2 160.0 292.0 154.0 296.9 152.0 300.4 146.2 321.0 146.4 333.0 147.7 339.0 149.4 343.0 154.0 348.1 166.0 352.0 174.0 353.0 183.2 351.0"/>
<path d="M179.9 371.0 190.0 369.2 196.0 365.9 233.7 335.0 242.6 329.0 250.0 322.1 265.9 311.0 270.0 306.1 280.0 305.0 286.0 303.4 289.8 301.0 292.2 297.0 296.0 295.2 318.0 291.7 328.0 289.0 338.0 284.7 345.1 279.0 348.7 273.0 354.8 259.0 362.0 225.0 372.9 197.0 374.2 189.0 373.7 177.0 374.5 173.0 378.0 171.1 392.0 172.1 398.0 171.5 406.0 169.1 416.0 164.4 427.3 157.0 438.0 147.9 444.3 141.0 450.0 131.3 454.9 117.0 457.7 101.0 458.4 91.0 457.6 83.0 455.9 77.0 452.6 71.0 448.9 67.0 444.0 63.6 440.0 61.9 430.0 60.5 390.0 63.3 378.0 64.9 370.0 67.8 363.5 73.0 360.8 77.0 358.6 83.0 357.1 97.0 360.0 109.0 359.5 113.0 354.0 120.9 348.3 133.0 340.4 143.0 334.0 155.4 323.9 171.0 318.0 177.4 312.1 181.0 306.0 183.3 272.0 191.5 248.0 199.0 244.0 202.4 241.0 207.0 230.0 233.7 228.0 236.3 224.0 239.2 220.0 239.7 214.0 236.6 210.0 232.1 200.0 216.9 196.0 213.1 192.0 212.8 188.0 214.1 183.1 217.0 178.7 221.0 175.9 225.0 171.5 239.0 164.0 255.3 159.7 267.0 157.0 277.0 148.1 295.0 146.3 305.0 142.2 319.0 141.0 339.0 141.9 345.0 144.0 351.7 146.0 355.9 150.0 360.1 158.0 366.1 164.0 369.1 170.0 370.9 179.9 371.0"/>
<path d="M74.5 215.0 84.0 212.5 96.0 213.6 100.0 213.0 116.0 209.4 124.0 206.2 136.0 203.9 138.0 203.0 142.0 198.1 146.0 195.2 150.0 194.2 158.0 193.9 160.0 192.8 176.7 177.0 180.3 171.0 180.0 165.0 173.8 151.0 170.8 137.0 162.0 118.2 158.0 113.4 144.0 105.7 130.0 101.0 104.0 97.8 90.0 98.4 60.0 102.0 48.0 105.3 38.2 111.0 30.0 119.9 18.7 129.0 16.0 133.2 13.8 139.0 12.7 151.0 14.2 173.0 16.6 181.0 19.9 187.0 24.3 193.0 28.0 196.5 40.2 203.0 54.0 213.1 60.0 215.4 66.0 216.4 70.0 216.3 74.5 215.0"/>
<path d="M364.0 146.1 364.0 144.6 365.7 145.0 364.0 146.1"/>
<path d="M266.0 301.2 264.0 301.4 262.0 299.6 261.1 297.0 262.0 294.5 264.0 295.0 265.4 297.0 266.2 299.0 266.0 301.2"/>
<path d="M452.4 403.0 458.0 402.0 464.0 398.0 467.1 393.0 468.0 387.0 466.2 381.0 462.9 377.0 458.0 374.2 452.0 373.0 446.0 374.2 441.1 377.0 436.9 383.0 436.0 389.0 436.8 393.0 440.9 399.0 446.0 402.0 452.4 403.0"/>
<path d="M364.7 55.0 356.0 61.9 352.4 67.0 350.8 71.0 350.0 89.0 352.6 111.0 346.4 129.0 338.6 139.0 332.0 152.2 326.0 159.9 320.0 169.8 314.0 175.1 305.7 179.0 252.0 192.4 246.0 194.6 240.1 199.0 228.0 212.4 222.0 215.2 216.0 214.1 212.0 211.4 206.3 205.0 200.0 196.1 196.0 193.1 190.0 193.1 176.0 200.6 174.0 201.0 172.0 200.2 171.0 197.0 172.0 195.0 178.0 190.8 184.0 183.1 190.5 177.0 192.8 171.0 192.7 167.0 190.8 161.0 184.0 148.4 180.8 133.0 172.5 115.0 168.2 109.0 162.0 103.2 156.0 98.4 148.0 93.6 134.0 88.4 112.0 85.3 88.0 85.3 50.0 87.5 38.0 89.5 22.0 94.0 5.2 103.0 0.0 107.7"/>
<path d="M0.0 243.0 6.0 244.0 12.0 243.9 30.0 234.0 68.0 228.2 88.0 220.2 98.0 221.4 106.0 220.3 124.0 213.1 136.0 209.5 140.0 206.9 146.0 200.8 150.0 200.4 152.0 201.6 154.0 205.1 164.0 212.6 165.0 215.0 164.9 221.0 162.6 231.0 153.4 251.0 142.0 287.0 141.6 299.0 138.7 311.0 137.7 321.0 134.6 333.0 133.3 345.0 133.0 353.0 134.4 363.0 136.5 371.0 140.0 379.0 144.3 385.0 150.0 389.7 158.0 393.1 168.0 395.1 180.0 394.9 188.0 393.2 198.0 388.2 211.8 379.0 230.0 359.9 242.0 349.4 250.6 343.0 291.5 317.0 304.0 308.0 310.0 305.0 330.0 299.0 352.0 294.7 357.9 291.0 363.7 285.0 368.4 277.0 371.1 269.0 375.4 237.0 377.6 227.0 384.0 209.8 390.0 196.7 396.0 190.1 418.0 177.8 436.0 163.5 451.2 147.0 456.6 139.0 460.7 131.0 464.3 121.0 469.1 103.0 471.6 87.0 471.5 77.0 470.3 69.0 468.0 61.0 465.1 55.0"/>
<path d="M524.0 55.0 525.0 61.0 532.5 71.0 538.0 72.9 550.0 73.9 555.2 73.0 562.5 69.0 566.9 63.0 569.2 55.0"/>
<path d="M216.8 81.0 222.0 78.6 224.0 76.8 226.1 73.0 226.4 71.0 225.3 67.0 221.2 63.0 214.0 60.1 206.0 60.1 198.0 62.9 193.7 67.0 192.6 71.0 192.9 73.0 195.3 77.0 198.0 79.1 206.0 81.8 212.0 82.0 216.8 81.0"/>
<path d="M672.0 317.8 660.0 313.3 652.0 311.8 644.0 312.8 636.0 316.7 626.0 325.2 614.0 339.3 604.1 355.0 599.5 367.0 598.5 375.0 599.1 381.0 601.7 389.0 605.4 395.0 608.0 397.7 612.0 399.6 616.0 399.9 624.0 399.0 630.0 401.1 634.7 405.0 637.8 409.0 639.8 413.0 641.0 419.0 640.5 423.0 638.0 429.0 628.0 443.0 618.0 460.1 614.8 469.0 611.8 481.0 610.3 493.0 610.0 507.0 610.9 521.0 614.1 547.0 613.4 559.0"/>
<path d="M413.1 351.0 424.0 346.6 428.0 344.0 432.4 339.0 435.9 333.0 437.2 327.0 436.2 321.0 433.7 317.0 430.0 314.5 424.0 313.6 412.0 315.4 408.0 317.1 404.0 322.0 402.0 331.0 402.8 341.0 404.3 345.0 408.0 349.9 410.0 351.0 413.1 351.0"/>
<path d="M0.0 409.3 12.0 385.7 14.5 377.0 15.4 369.0 14.5 361.0 11.5 353.0 6.7 345.0 0.0 338.3"/>
<path d="M461.1 495.0 462.3 493.0 464.7 483.0 468.2 479.0 473.8 475.0 482.0 472.1 496.0 474.7 506.0 474.4 514.0 470.7 517.6 467.0 519.8 463.0 521.4 455.0 520.2 443.0 503.3 391.0 497.8 377.0 492.0 366.7 485.5 359.0 478.0 354.4 474.0 353.8 468.0 354.3 452.0 358.4 446.0 359.2 424.0 357.4 414.0 357.7 410.0 360.6 408.0 363.5 403.1 377.0 395.0 413.0 394.5 421.0 395.7 427.0 398.0 430.7 400.7 433.0 420.8 441.0 430.0 447.0 436.6 453.0 446.1 465.0 454.7 479.0 456.1 485.0 455.4 491.0 456.0 494.6 458.0 495.9 461.1 495.0"/>
<path d="M339.2 559.0 338.2 543.0 340.0 521.0 339.5 517.0 336.9 509.0 332.0 498.5 328.0 492.0 324.0 487.9 320.0 485.6 316.0 484.7 286.0 483.8 272.0 481.8 262.0 478.6 238.0 467.8 230.0 465.5 224.0 464.8 216.0 465.6 208.8 469.0 202.3 475.0 198.2 483.0 195.4 497.0 191.3 559.0"/>
<path d="M173.2 55.0 168.8 63.0 166.0 75.1 162.0 74.7 146.0 67.6 136.0 65.5 62.0 69.2 44.0 72.1 28.0 77.2 18.0 82.3 6.0 91.3 0.0 94.0"/>
<path d="M345.7 55.0 343.1 63.0 340.8 79.0 341.2 87.0 344.3 105.0 344.1 111.0 341.9 123.0 340.0 128.3 334.7 137.0 328.9 151.0 318.0 166.7 310.0 172.7 300.0 176.6 282.0 181.5 246.0 189.1 240.0 192.2 228.0 201.8 224.0 203.5 220.0 203.6 218.0 202.8 214.0 199.0 210.4 193.0 207.0 185.0 205.4 179.0 203.7 163.0 197.0 125.0 192.9 113.0 187.8 105.0 186.5 101.0 188.0 100.4 198.0 104.7 208.5 105.0 220.0 110.3 224.0 110.2 230.0 107.3 234.0 102.8 238.9 95.0 241.9 87.0 244.8 75.0 245.6 65.0 244.7 61.0 242.1 55.0"/>
<path d="M672.0 289.9 650.0 284.2 646.0 284.1 640.0 285.2 632.0 288.2 623.9 293.0 616.0 299.2 606.2 309.0 596.4 321.0 587.0 335.0 579.2 349.0 571.7 365.0 567.1 377.0 565.0 385.0 564.1 393.0 564.8 407.0 564.0 410.8 562.0 411.5 560.0 411.0 556.0 407.6 544.8 393.0 504.0 344.2 496.0 336.7 480.7 325.0 474.1 319.0 457.8 297.0 450.0 288.6 440.0 281.0 420.2 269.0 412.8 263.0 406.4 255.0 402.9 247.0 401.3 239.0 401.4 231.0 403.4 221.0 406.6 213.0 414.8 201.0 436.0 178.9 450.0 162.6 460.8 149.0 467.6 139.0 475.0 125.0 483.4 105.0 488.1 91.0 492.2 73.0 494.0 68.2 496.1 65.0 498.7 63.0 502.0 62.0 506.0 62.4 510.0 64.2 514.0 68.1 517.4 77.0 519.9 81.0 524.0 84.9 528.0 87.2 538.0 89.7 552.0 89.6 568.0 86.2 575.9 83.0 583.2 79.0 588.7 75.0 595.0 69.0 604.9 55.0"/>
<path d="M178.0 91.1 178.0 91.1"/>
<path d="M0.0 270.4 5.1 265.0 18.0 259.5 30.0 252.5 50.0 246.8 82.0 236.4 108.0 229.5 114.0 226.6 124.0 220.3 138.0 215.6 142.0 212.7 148.0 205.5 149.4 207.0 153.7 219.0 154.1 223.0 153.4 227.0 143.3 251.0 134.4 269.0 132.5 277.0 129.2 285.0 127.0 295.0 122.5 303.0 122.2 307.0 124.8 315.0 124.7 319.0 122.5 323.0 118.0 327.4 116.0 330.9 104.0 371.0 101.1 377.0 93.1 387.0 91.8 391.0 91.1 397.0 92.0 401.5 94.9 407.0 100.0 412.8 104.8 417.0 130.0 435.6 142.0 441.9 152.0 445.1 156.0 444.8 158.0 443.8 170.0 434.6 188.0 427.8 195.6 413.0 213.9 391.0 239.8 365.0 264.0 345.1 302.0 324.0 318.0 316.7 362.0 305.5 368.0 305.8 372.0 307.2 376.0 310.2 379.3 315.0 381.4 321.0 382.5 329.0 382.3 339.0 380.2 361.0 380.8 397.0 378.7 431.0 379.0 439.0 380.6 445.0 383.3 449.0 394.0 455.9 397.0 459.0 398.8 465.0 397.9 471.0 395.3 475.0 392.0 477.4 388.0 478.0 384.0 476.5 379.9 473.0 371.4 461.0 365.9 455.0 344.3 439.0 338.0 436.3 332.0 436.4 326.0 437.9 300.0 450.4 292.0 452.2 288.0 450.4 282.5 443.0 280.0 440.8 260.0 437.1 243.5 431.0 234.0 428.4 228.0 427.4 222.0 427.4 194.0 430.8 192.0 432.2 191.6 439.0 189.5 445.0 186.7 449.0 182.1 453.0 174.0 456.2 168.0 456.6 160.0 455.1 157.2 457.0 150.5 473.0 134.2 507.0 130.0 513.6 124.0 519.7 116.0 524.7 108.0 527.1 92.0 528.1 76.0 530.9 68.0 529.9 64.0 527.3 60.0 522.9 52.0 510.8 47.1 501.0 42.3 485.0 38.6 459.0 38.1 443.0 43.0 403.0 45.1 395.0 53.0 381.0 52.7 375.0 46.8 361.0 32.5 337.0 14.3 313.0 0.0 289.7"/>
<path d="M42.2 55.0 22.0 63.6 0.0 78.1"/>
<path d="M325.5 55.0 326.6 65.0 326.3 69.0 324.0 71.2 322.0 71.3 318.0 69.4 316.0 67.4 307.2 55.0"/>
<path d="M672.0 271.0 658.0 272.0 646.0 269.7 636.0 269.7 626.0 272.0 616.0 276.4 604.0 284.1 591.3 295.0 554.0 334.9 548.0 339.2 542.0 340.5 540.0 339.7 537.3 337.0 506.0 314.2 486.0 296.2 442.4 251.0 434.7 239.0 431.8 229.0 431.6 221.0 433.7 211.0 437.9 201.0 445.8 187.0 461.7 163.0 476.3 145.0 496.0 118.5 504.0 110.2 510.0 106.5 516.0 104.6 566.0 99.4 586.4 95.0 599.4 91.0 606.0 87.7 609.7 85.0 628.0 66.2 643.7 55.0"/>
<path d="M228.0 191.6 223.6 191.0 221.6 189.0 219.7 185.0 218.0 171.0 218.5 161.0 220.6 157.0 224.0 154.8 228.0 154.6 236.0 156.2 240.0 154.4 242.0 151.3 242.2 149.0 238.9 135.0 239.0 125.0 240.0 119.0 244.2 109.0 252.0 96.6 256.0 92.1 260.0 89.0 267.7 85.0 272.0 81.5 276.0 81.1 288.0 82.2 296.0 83.8 308.0 87.9 312.0 90.9 318.0 97.8 324.0 100.6 328.0 100.2 329.4 101.0 326.2 107.0 325.6 111.0 329.0 131.0 328.5 141.0 325.9 149.0 316.0 163.8 311.9 167.0 304.0 170.9 280.0 178.2 250.0 182.9 240.0 182.5 236.0 184.7 228.0 191.6"/>
<path d="M80.0 317.0 72.0 315.7 66.0 312.6 59.3 307.0 55.2 301.0 54.6 295.0 56.9 283.0 58.7 277.0 60.9 273.0 75.2 257.0 83.2 251.0 88.0 248.5 96.0 246.8 110.0 245.8 116.0 246.4 124.0 248.7 126.3 251.0 127.3 255.0 124.4 273.0 112.0 294.8 102.0 307.4 98.0 311.1 90.0 315.2 80.0 317.0"/>
<path d="M358.0 417.3 354.0 416.1 344.0 409.0 338.0 407.3 326.0 407.2 284.0 411.2 280.0 411.0 275.7 409.0 271.0 405.0 268.8 401.0 267.1 389.0 267.9 381.0 267.4 373.0 269.4 367.0 272.9 361.0 280.0 353.0 286.0 347.8 300.0 341.0 312.0 337.9 340.0 333.2 352.0 329.6 356.0 329.5 359.3 331.0 360.7 333.0 361.4 337.0 359.2 367.0 361.7 411.0 361.0 415.0 360.0 416.6 358.0 417.3"/>
<path d="M1.4 55.0 0.0 55.9"/>
<path d="M672.0 239.6 656.0 246.3 628.0 252.2 612.0 257.7 594.0 267.4 566.0 287.6 556.0 293.9 544.0 298.3 534.0 298.5 522.0 294.7 510.0 287.8 496.0 276.4 480.0 260.2 468.8 247.0 461.1 235.0 457.2 225.0 455.8 213.0 456.8 203.0 460.1 191.0 466.0 177.0 470.8 169.0 492.0 147.2 506.0 134.5 517.1 127.0 532.0 120.1 552.0 113.7 586.0 111.0 600.0 110.8 618.0 107.6 622.0 106.0 625.6 103.0 635.4 91.0 638.0 89.8 642.0 89.6 646.6 91.0 649.9 95.0 650.4 107.0 652.0 113.3 654.0 117.3 658.0 120.2 672.0 126.8"/>
<path d="M274.0 175.5 268.0 175.6 260.0 173.8 256.0 171.6 254.2 169.0 252.7 155.0 248.2 133.0 249.4 123.0 252.3 115.0 256.0 109.0 262.0 101.6 266.0 98.3 269.1 97.0 275.7 97.0 284.0 93.8 288.0 93.5 310.0 98.9 311.9 101.0 311.6 105.0 316.7 111.0 318.7 115.0 319.5 121.0 316.0 129.0 320.0 130.6 323.3 135.0 323.8 139.0 322.8 143.0 319.1 149.0 314.6 159.0 310.0 163.0 296.5 169.0 274.0 175.5"/>
<path d="M282.0 167.3 274.0 168.2 270.6 167.0 268.8 165.0 266.0 155.6 259.7 145.0 257.9 137.0 257.8 129.0 259.0 123.0 261.6 117.0 265.5 111.0 270.0 106.2 274.0 103.9 278.0 103.5 286.0 100.8 292.0 100.7 303.0 105.0 313.0 115.0 314.9 119.0 314.9 121.0 312.5 127.0 312.4 129.0 314.0 131.9 318.6 135.0 318.7 139.0 311.1 153.0 305.9 159.0 298.0 163.0 282.0 167.3"/>
<path d="M542.0 267.3 534.0 267.9 528.0 267.1 522.0 264.6 516.1 261.0 508.0 254.5 500.3 247.0 488.0 231.0 481.6 217.0 480.0 210.2 479.4 203.0 480.0 195.0 481.4 189.0 483.8 183.0 487.5 177.0 499.8 165.0 516.9 153.0 536.0 142.9 546.0 138.9 553.0 137.0 566.0 136.1 602.0 138.8 616.0 142.1 628.0 148.3 635.9 155.0 642.7 163.0 647.4 171.0 650.3 179.0 651.4 187.0 650.7 195.0 648.1 203.0 644.7 209.0 635.6 219.0 624.0 227.1 588.0 244.9 558.0 261.6 550.0 265.1 542.0 267.3"/>
<path d="M290.0 159.2 282.0 159.1 277.9 157.0 274.0 152.4 270.8 147.0 268.4 141.0 267.9 137.0 268.6 127.0 270.7 121.0 274.0 115.6 280.0 110.4 286.0 110.3 290.0 107.5 294.0 108.1 298.0 109.7 308.0 118.6 309.3 123.0 308.9 129.0 312.2 137.0 311.2 141.0 304.0 153.5 299.0 157.0 290.0 159.2"/>
<path d="M566.0 217.2 550.0 218.4 544.0 217.6 540.0 216.1 535.7 213.0 533.3 209.0 532.8 205.0 534.0 201.0 540.0 195.1 551.2 189.0 560.6 185.0 572.0 181.4 578.0 180.6 594.0 180.5 598.0 181.6 602.0 184.5 604.2 189.0 604.4 195.0 603.0 201.0 599.1 207.0 592.0 210.8 566.0 217.2"/>
<path d="M294.0 152.4 282.0 148.7 278.1 145.0 275.9 141.0 275.1 135.0 276.8 129.0 280.0 124.8 286.0 121.7 292.0 121.1 297.5 123.0 302.0 126.9 304.0 131.0 305.0 137.0 304.0 141.3 300.0 147.2 294.0 152.4"/></g>
<g font-family="Liberation Sans, sans-serif" font-size="10px" text-anchor="middle">
<rect x="0.6" y="98.7" width="20.0" height="10.6" fill="#fff"/>
<text x="10.6" y="107.6" fill="#8a9090">–25</text>
<rect x="67.3" y="152.2" width="20.0" height="10.6" fill="#fff"/>
<text x="77.3" y="161.1" fill="#8a9090">–20</text>
<rect x="56.0" y="168.7" width="20.0" height="10.6" fill="#fff"/>
<text x="66.0" y="177.6" fill="#8a9090">–20</text>
<rect x="117.4" y="199.7" width="20.0" height="10.6" fill="#fff"/>
<text x="127.4" y="208.6" fill="#8a9090">–15</text>
<rect x="98.6" y="209.7" width="20.0" height="10.6" fill="#fff"/>
<text x="108.6" y="218.6" fill="#8a9090">–15</text>
<rect x="103.7" y="124.9" width="20.0" height="10.6" fill="#fff"/>
<text x="113.7" y="133.8" fill="#8a9090">–30</text>
<rect x="241.6" y="70.9" width="20.0" height="10.6" fill="#fff"/>
<text x="251.6" y="79.8" fill="#8a9090">–45</text>
<rect x="260.4" y="140.1" width="20.0" height="10.6" fill="#fff"/>
<text x="270.4" y="149.0" fill="#8a9090">–33</text>
<rect x="238.5" y="192.3" width="20.0" height="10.6" fill="#fff"/>
<text x="248.5" y="201.2" fill="#8a9090">–20</text>
<rect x="352.3" y="117.0" width="20.0" height="10.6" fill="#fff"/>
<text x="362.3" y="125.9" fill="#8a9090">–30</text>
<rect x="559.7" y="62.6" width="20.0" height="10.6" fill="#fff"/>
<text x="569.7" y="71.5" fill="#8a9090">–30</text>
<rect x="515.4" y="90.3" width="20.0" height="10.6" fill="#fff"/>
<text x="525.4" y="99.2" fill="#8a9090">–25</text>
<rect x="419.5" y="85.5" width="20.0" height="10.6" fill="#fff"/>
<text x="429.5" y="94.4" fill="#8a9090">–30</text>
<rect x="602.0" y="102.4" width="20.0" height="10.6" fill="#fff"/>
<text x="612.0" y="111.3" fill="#8a9090">–30</text>
<rect x="487.7" y="137.1" width="20.0" height="10.6" fill="#fff"/>
<text x="497.7" y="146.0" fill="#8a9090">–25</text>
<rect x="493.3" y="170.7" width="20.0" height="10.6" fill="#fff"/>
<text x="503.3" y="179.6" fill="#8a9090">–25</text>
<rect x="426.9" y="174.0" width="20.0" height="10.6" fill="#fff"/>
<text x="436.9" y="182.9" fill="#8a9090">–25</text>
<rect x="639.0" y="177.7" width="20.0" height="10.6" fill="#fff"/>
<text x="649.0" y="186.6" fill="#8a9090">–25</text>
<rect x="90.0" y="287.0" width="20.0" height="10.6" fill="#fff"/>
<text x="100.0" y="295.9" fill="#8a9090">–15</text>
<rect x="35.5" y="344.7" width="20.0" height="10.6" fill="#fff"/>
<text x="45.5" y="353.6" fill="#8a9090">–10</text>
<rect x="115.9" y="355.3" width="20.0" height="10.6" fill="#fff"/>
<text x="125.9" y="364.2" fill="#8a9090">–15</text>
<rect x="143.2" y="324.3" width="20.0" height="10.6" fill="#fff"/>
<text x="153.2" y="333.2" fill="#8a9090">–20</text>
<rect x="202.3" y="240.0" width="20.0" height="10.6" fill="#fff"/>
<text x="212.3" y="248.9" fill="#8a9090">–20</text>
<rect x="276.4" y="215.7" width="20.0" height="10.6" fill="#fff"/>
<text x="286.4" y="224.6" fill="#8a9090">–30</text>
<rect x="308.3" y="220.3" width="20.0" height="10.6" fill="#fff"/>
<text x="318.3" y="229.2" fill="#8a9090">–20</text>
<rect x="293.0" y="252.2" width="20.0" height="10.6" fill="#fff"/>
<text x="303.0" y="261.1" fill="#8a9090">–25</text>
<rect x="331.0" y="249.1" width="20.0" height="10.6" fill="#fff"/>
<text x="341.0" y="258.0" fill="#8a9090">–20</text>
<rect x="369.0" y="241.5" width="20.0" height="10.6" fill="#fff"/>
<text x="379.0" y="250.4" fill="#8a9090">–20</text>
<rect x="217.3" y="277.0" width="20.0" height="10.6" fill="#fff"/>
<text x="227.3" y="285.9" fill="#8a9090">–15</text>
<rect x="249.0" y="283.1" width="20.0" height="10.6" fill="#fff"/>
<text x="259.0" y="292.0" fill="#8a9090">–15</text>
<rect x="403.8" y="272.5" width="20.0" height="10.6" fill="#fff"/>
<text x="413.8" y="281.4" fill="#8a9090">–25</text>
<rect x="341.7" y="337.1" width="20.0" height="10.6" fill="#fff"/>
<text x="351.7" y="346.0" fill="#8a9090">–15</text>
<rect x="261.3" y="350.7" width="20.0" height="10.6" fill="#fff"/>
<text x="271.3" y="359.6" fill="#8a9090">–15</text>
<rect x="482.2" y="265.0" width="20.0" height="10.6" fill="#fff"/>
<text x="492.2" y="273.9" fill="#8a9090">–20</text>
<rect x="495.1" y="269.8" width="20.0" height="10.6" fill="#fff"/>
<text x="505.1" y="278.7" fill="#8a9090">–20</text>
<rect x="559.7" y="291.6" width="20.0" height="10.6" fill="#fff"/>
<text x="569.7" y="300.5" fill="#8a9090">–20</text>
<rect x="206.0" y="462.7" width="20.0" height="10.6" fill="#fff"/>
<text x="216.0" y="471.6" fill="#8a9090">–10</text>
<rect x="430.6" y="402.4" width="20.0" height="10.6" fill="#fff"/>
<text x="440.6" y="411.3" fill="#8a9090">–20</text>
<rect x="439.8" y="413.4" width="20.0" height="10.6" fill="#fff"/>
<text x="449.8" y="422.3" fill="#8a9090">–15</text>
<rect x="513.6" y="529.7" width="20.0" height="10.6" fill="#fff"/>
<text x="523.6" y="538.6" fill="#8a9090">–10</text>
</g>
<g font-family="Liberation Sans, sans-serif" font-size="9.8px" text-anchor="middle" fill="#000" stroke="#000" stroke-width="0.3">
<rect x="52.9" y="81.0" width="23.3" height="10.4" fill="#fff" stroke="none"/>
<rect x="86.9" y="93.2" width="23.3" height="10.4" fill="#fff" stroke="none"/>
<rect x="90.8" y="105.3" width="23.3" height="10.4" fill="#fff" stroke="none"/>
<rect x="85.3" y="114.4" width="23.3" height="10.4" fill="#fff" stroke="none"/>
<rect x="89.6" y="122.6" width="18.0" height="10.4" fill="#fff" stroke="none"/>
<rect x="85.0" y="131.1" width="18.0" height="10.4" fill="#fff" stroke="none"/>
<rect x="89.6" y="141.4" width="18.0" height="10.4" fill="#fff" stroke="none"/>
<rect x="153.6" y="70.4" width="23.3" height="10.4" fill="#fff" stroke="none"/>
<rect x="187.0" y="99.2" width="23.3" height="10.4" fill="#fff" stroke="none"/>
<rect x="68.7" y="196.3" width="23.3" height="10.4" fill="#fff" stroke="none"/>
<rect x="58.7" y="210.6" width="23.3" height="10.4" fill="#fff" stroke="none"/>
<rect x="187.0" y="189.3" width="23.3" height="10.4" fill="#fff" stroke="none"/>
<rect x="184.8" y="208.1" width="23.3" height="10.4" fill="#fff" stroke="none"/>
<rect x="208.0" y="198.4" width="23.3" height="10.4" fill="#fff" stroke="none"/>
<rect x="217.1" y="186.3" width="23.3" height="10.4" fill="#fff" stroke="none"/>
<rect x="259.6" y="76.5" width="23.3" height="10.4" fill="#fff" stroke="none"/>
<rect x="262.6" y="92.3" width="23.3" height="10.4" fill="#fff" stroke="none"/>
<rect x="265.6" y="98.9" width="23.3" height="10.4" fill="#fff" stroke="none"/>
<rect x="273.3" y="106.2" width="23.3" height="10.4" fill="#fff" stroke="none"/>
<rect x="277.8" y="127.1" width="23.3" height="10.4" fill="#fff" stroke="none"/>
<rect x="239.9" y="200.8" width="23.3" height="10.4" fill="#fff" stroke="none"/>
<rect x="320.3" y="183.3" width="23.3" height="10.4" fill="#fff" stroke="none"/>
<rect x="316.9" y="188.7" width="18.0" height="10.4" fill="#fff" stroke="none"/>
<rect x="313.8" y="194.8" width="18.0" height="10.4" fill="#fff" stroke="none"/>
<rect x="307.8" y="199.8" width="18.0" height="10.4" fill="#fff" stroke="none"/>
<rect x="292.6" y="213.0" width="18.0" height="10.4" fill="#fff" stroke="none"/>
<rect x="400.6" y="57.4" width="23.3" height="10.4" fill="#fff" stroke="none"/>
<rect x="397.6" y="71.6" width="23.3" height="10.4" fill="#fff" stroke="none"/>
<rect x="394.5" y="81.6" width="23.3" height="10.4" fill="#fff" stroke="none"/>
<rect x="500.8" y="62.7" width="23.3" height="10.4" fill="#fff" stroke="none"/>
<rect x="534.0" y="55.3" width="23.3" height="10.4" fill="#fff" stroke="none"/>
<rect x="574.6" y="105.1" width="23.3" height="10.4" fill="#fff" stroke="none"/>
<rect x="567.3" y="131.7" width="23.3" height="10.4" fill="#fff" stroke="none"/>
<rect x="574.6" y="205.5" width="23.3" height="10.4" fill="#fff" stroke="none"/>
<rect x="0.4" y="238.6" width="23.3" height="10.4" fill="#fff" stroke="none"/>
<rect x="104.5" y="241.0" width="23.3" height="10.4" fill="#fff" stroke="none"/>
<rect x="193.0" y="280.2" width="23.3" height="10.4" fill="#fff" stroke="none"/>
<rect x="173.3" y="294.8" width="23.3" height="10.4" fill="#fff" stroke="none"/>
<rect x="162.4" y="301.4" width="18.0" height="10.4" fill="#fff" stroke="none"/>
<rect x="160.8" y="309.8" width="18.0" height="10.4" fill="#fff" stroke="none"/>
<rect x="167.3" y="366.0" width="23.3" height="10.4" fill="#fff" stroke="none"/>
<rect x="282.3" y="279.6" width="23.3" height="10.4" fill="#fff" stroke="none"/>
<rect x="350.6" y="300.2" width="23.3" height="10.4" fill="#fff" stroke="none"/>
<rect x="403.6" y="309.8" width="23.3" height="10.4" fill="#fff" stroke="none"/>
<rect x="329.3" y="327.5" width="23.3" height="10.4" fill="#fff" stroke="none"/>
<rect x="515.6" y="261.4" width="23.3" height="10.4" fill="#fff" stroke="none"/>
<rect x="519.3" y="292.8" width="23.3" height="10.4" fill="#fff" stroke="none"/>
<rect x="528.5" y="334.5" width="23.3" height="10.4" fill="#fff" stroke="none"/>
<rect x="467.6" y="349.2" width="23.3" height="10.4" fill="#fff" stroke="none"/>
<rect x="449.2" y="366.6" width="23.3" height="10.4" fill="#fff" stroke="none"/>
<rect x="646.5" y="239.3" width="23.3" height="10.4" fill="#fff" stroke="none"/>
<rect x="642.8" y="267.0" width="23.3" height="10.4" fill="#fff" stroke="none"/>
<rect x="637.3" y="278.0" width="23.3" height="10.4" fill="#fff" stroke="none"/>
<rect x="162.7" y="390.0" width="23.3" height="10.4" fill="#fff" stroke="none"/>
<rect x="140.0" y="439.1" width="23.3" height="10.4" fill="#fff" stroke="none"/>
<rect x="101.1" y="521.3" width="23.3" height="10.4" fill="#fff" stroke="none"/>
<rect x="317.2" y="401.5" width="23.3" height="10.4" fill="#fff" stroke="none"/>
<rect x="215.6" y="422.7" width="23.3" height="10.4" fill="#fff" stroke="none"/>
<rect x="278.7" y="478.5" width="23.3" height="10.4" fill="#fff" stroke="none"/>
<rect x="381.5" y="452.1" width="23.3" height="10.4" fill="#fff" stroke="none"/>
<rect x="550.6" y="407.3" width="23.3" height="10.4" fill="#fff" stroke="none"/>
<rect x="596.7" y="392.5" width="23.3" height="10.4" fill="#fff" stroke="none"/>
<rect x="470.2" y="466.3" width="23.3" height="10.4" fill="#fff" stroke="none"/>
<rect x="443.6" y="488.4" width="23.3" height="10.4" fill="#fff" stroke="none"/>
<text x="64.6" y="89.7">1015</text>
<text x="98.6" y="101.9">1010</text>
<text x="102.5" y="114.0">1005</text>
<text x="97.0" y="123.1">1000</text>
<text x="98.6" y="131.3">995</text>
<text x="94.0" y="139.8">990</text>
<text x="98.6" y="150.1">985</text>
<text x="165.3" y="79.1">1020</text>
<text x="198.7" y="107.9">1020</text>
<text x="80.4" y="205.0">1005</text>
<text x="70.4" y="219.3">1010</text>
<text x="198.7" y="198.0">1015</text>
<text x="196.5" y="216.8">1010</text>
<text x="219.7" y="207.1">1020</text>
<text x="228.8" y="195.0">1025</text>
<text x="271.3" y="85.2">1025</text>
<text x="274.3" y="101.0">1030</text>
<text x="277.3" y="107.6">1035</text>
<text x="285.0" y="114.9">1040</text>
<text x="289.5" y="135.8">1045</text>
<text x="251.6" y="209.5">1005</text>
<text x="332.0" y="192.0">1000</text>
<text x="325.9" y="197.4">995</text>
<text x="322.8" y="203.5">990</text>
<text x="316.8" y="208.5">985</text>
<text x="301.6" y="221.7">980</text>
<text x="412.3" y="66.1">1010</text>
<text x="409.3" y="80.3">1005</text>
<text x="406.2" y="90.3">1000</text>
<text x="512.5" y="71.4">1020</text>
<text x="545.7" y="64.0">1015</text>
<text x="586.3" y="113.8">1030</text>
<text x="579.0" y="140.4">1035</text>
<text x="586.3" y="214.2">1040</text>
<text x="12.1" y="247.3">1015</text>
<text x="116.2" y="249.7">1025</text>
<text x="204.7" y="288.9">1005</text>
<text x="185.0" y="303.5">1000</text>
<text x="171.4" y="310.1">995</text>
<text x="169.8" y="318.5">990</text>
<text x="179.0" y="374.7">1010</text>
<text x="294.0" y="288.3">1005</text>
<text x="362.3" y="308.9">1020</text>
<text x="415.3" y="318.5">1015</text>
<text x="341.0" y="336.2">1025</text>
<text x="527.3" y="270.1">1035</text>
<text x="531.0" y="301.5">1030</text>
<text x="540.2" y="343.2">1025</text>
<text x="479.3" y="357.9">1015</text>
<text x="460.9" y="375.3">1010</text>
<text x="658.2" y="248.0">1030</text>
<text x="654.5" y="275.7">1025</text>
<text x="649.0" y="286.7">1020</text>
<text x="174.4" y="398.7">1015</text>
<text x="151.7" y="447.8">1020</text>
<text x="112.8" y="530.0">1020</text>
<text x="328.9" y="410.2">1025</text>
<text x="227.3" y="431.4">1020</text>
<text x="290.4" y="487.2">1015</text>
<text x="393.2" y="460.8">1020</text>
<text x="562.3" y="416.0">1020</text>
<text x="608.4" y="401.2">1015</text>
<text x="481.9" y="475.0">1015</text>
<text x="455.3" y="497.1">1015</text>
</g>
<g font-family="Liberation Sans, sans-serif" font-size="10px" font-weight="bold" font-style="italic" text-anchor="middle" fill="#000">
<rect x="133.6" y="189.0" width="18" height="10" fill="#fff"/>
<text x="142.6" y="197.6">552</text>
<rect x="268.0" y="279.0" width="18" height="10" fill="#fff"/>
<text x="277.0" y="287.6">552</text>
<rect x="403.3" y="293.4" width="18" height="10" fill="#fff"/>
<text x="412.3" y="302.0">552</text>
<rect x="654.0" y="118.2" width="18" height="10" fill="#fff"/>
<text x="663.0" y="126.8">552</text>
</g>
<g font-family="Liberation Sans, sans-serif" font-size="15.5px" text-anchor="middle">
<text x="453.4" y="350.6" fill="#fff">H</text>
<text x="452.6" y="349.8" fill="#000">H</text>
<text x="94.8" y="160.9" fill="#fff" font-weight="bold">T</text>
<text x="94.0" y="160.1" fill="#000" font-weight="bold">T</text>
<text x="218.6" y="157.9" fill="#fff">H</text>
<text x="217.8" y="157.1" fill="#000">H</text>
<text x="211.4" y="72.0" fill="#fff" font-weight="bold">T</text>
<text x="210.6" y="71.2" fill="#000" font-weight="bold">T</text>
<text x="290.3" y="143.9" fill="#fff">H</text>
<text x="289.5" y="143.1" fill="#000">H</text>
<text x="246.8" y="184.2" fill="#fff">H</text>
<text x="246.0" y="183.4" fill="#000">H</text>
<text x="250.8" y="220.6" fill="#fff" font-weight="bold">T</text>
<text x="250.0" y="219.8" fill="#000" font-weight="bold">T</text>
<text x="300.8" y="235.0" fill="#fff" font-weight="bold">T</text>
<text x="300.0" y="234.2" fill="#000" font-weight="bold">T</text>
<text x="379.8" y="122.1" fill="#fff" font-weight="bold">T</text>
<text x="379.0" y="121.3" fill="#000" font-weight="bold">T</text>
<text x="391.8" y="69.0" fill="#fff">H</text>
<text x="391.0" y="68.2" fill="#000">H</text>
<text x="642.4" y="109.4" fill="#fff">H</text>
<text x="641.6" y="108.6" fill="#000">H</text>
<text x="588.2" y="202.7" fill="#fff">H</text>
<text x="587.4" y="201.9" fill="#000">H</text>
<text x="94.8" y="283.6" fill="#fff">H</text>
<text x="94.0" y="282.8" fill="#000">H</text>
<text x="169.1" y="330.6" fill="#fff" font-weight="bold">T</text>
<text x="168.3" y="329.8" fill="#000" font-weight="bold">T</text>
<text x="72.1" y="392.4" fill="#fff">H</text>
<text x="71.3" y="391.6" fill="#000">H</text>
<text x="249.3" y="288.7" fill="#fff">H</text>
<text x="248.5" y="287.9" fill="#000">H</text>
<text x="416.1" y="336.7" fill="#fff" font-weight="bold">T</text>
<text x="415.3" y="335.9" fill="#000" font-weight="bold">T</text>
<text x="324.5" y="374.6" fill="#fff">H</text>
<text x="323.7" y="373.8" fill="#000">H</text>
<text x="614.0" y="381.9" fill="#fff" font-weight="bold">T</text>
<text x="613.2" y="381.1" fill="#000" font-weight="bold">T</text>
<text x="179.8" y="448.6" fill="#fff">H</text>
<text x="179.0" y="447.8" fill="#000">H</text>
<text x="99.4" y="491.0" fill="#fff">H</text>
<text x="98.6" y="490.2" fill="#000">H</text>
<text x="229.6" y="501.1" fill="#fff" font-weight="bold">T</text>
<text x="228.8" y="500.3" fill="#000" font-weight="bold">T</text>
<text x="406.4" y="434.9" fill="#fff" font-weight="bold">T</text>
<text x="405.6" y="434.1" fill="#000" font-weight="bold">T</text>
<text x="406.4" y="450.1" fill="#fff">H</text>
<text x="405.6" y="449.3" fill="#000">H</text>
<text x="354.0" y="532.9" fill="#fff">H</text>
<text x="353.2" y="532.1" fill="#000">H</text>
<text x="450.6" y="394.4" fill="#fff" font-weight="bold">T</text>
<text x="449.8" y="393.6" fill="#000" font-weight="bold">T</text>
<text x="550.2" y="449.8" fill="#fff">H</text>
<text x="549.4" y="449.0" fill="#000">H</text>
<text x="486.4" y="463.9" fill="#fff" font-weight="bold">T</text>
<text x="485.6" y="463.1" fill="#000" font-weight="bold">T</text>
</g>
<ellipse cx="421" cy="323.8" rx="30" ry="37.2" transform="rotate(2 421 323.8)" fill="none" stroke="#000" stroke-width="3"/>
<ellipse cx="455.5" cy="382.8" rx="19.3" ry="22.8" fill="none" stroke="#000" stroke-width="3"/>
</g>
<path fill="#fff" d="M0 0H732V59H0Z M0 59H4V607H0Z M667 59H732V607H667Z M0 555H732V607H0Z"/>
<line x1="0" x2="62" y1="0.5" y2="0.5" stroke="#444" stroke-width="1"/>
<line x1="78" x2="151" y1="0.5" y2="0.5" stroke="#7a7" stroke-width="1"/>
<line x1="168" x2="732" y1="0.5" y2="0.5" stroke="#000" stroke-width="1"/>
<text class="h1" x="4" y="23" textLength="221" lengthAdjust="spacing">Init : Wed,12OCT2016  12Z</text>
<text class="h1" x="442.5" y="23" textLength="221" lengthAdjust="spacing">Valid: Thu,20OCT2016  12Z</text>
<text class="ti" x="12" y="45.5" textLength="633" lengthAdjust="spacingAndGlyphs" letter-spacing="1.5">500 hPa Geopot.(gpdm), T (C) und Bodendr. (hPa)</text>
<rect x="3.9" y="59.1" width="663" height="495.6" fill="none" stroke="#000" stroke-width="1.8"/>
<g class="cb">
<path d="M690.5 139.0 L695.9 127.5 L701.3 139.0 Z" fill="#c8006e"/>
<rect x="690.5" y="139.00" width="10.8" height="11.30" fill="#c0003c"/>
<rect x="690.5" y="150.25" width="10.8" height="11.30" fill="#b8002a"/>
<rect x="690.5" y="161.50" width="10.8" height="11.30" fill="#c01820"/>
<rect x="690.5" y="172.75" width="10.8" height="11.30" fill="#cc3020"/>
<rect x="690.5" y="184.00" width="10.8" height="11.30" fill="#dc4818"/>
<rect x="690.5" y="195.25" width="10.8" height="11.30" fill="#e06010"/>
<rect x="690.5" y="206.50" width="10.8" height="11.30" fill="#e87810"/>
<rect x="690.5" y="217.75" width="10.8" height="11.30" fill="#f09008"/>
<rect x="690.5" y="229.00" width="10.8" height="11.30" fill="#f8b000"/>
<rect x="690.5" y="240.25" width="10.8" height="11.30" fill="#f8c000"/>
<rect x="690.5" y="251.50" width="10.8" height="11.30" fill="#f8d800"/>
<rect x="690.5" y="262.75" width="10.8" height="11.30" fill="#ffff00"/>
<rect x="690.5" y="274.00" width="10.8" height="11.30" fill="#00e020"/>
<rect x="690.5" y="285.25" width="10.8" height="11.30" fill="#00dc40"/>
<rect x="690.5" y="296.50" width="10.8" height="11.30" fill="#10d860"/>
<rect x="690.5" y="307.75" width="10.8" height="11.30" fill="#10d890"/>
<rect x="690.5" y="319.00" width="10.8" height="11.30" fill="#20d8b0"/>
<rect x="690.5" y="330.25" width="10.8" height="11.30" fill="#10d0e8"/>
<rect x="690.5" y="341.50" width="10.8" height="11.30" fill="#10b0f0"/>
<rect x="690.5" y="352.75" width="10.8" height="11.30" fill="#1890f0"/>
<rect x="690.5" y="364.00" width="10.8" height="11.30" fill="#1870f0"/>
<rect x="690.5" y="375.25" width="10.8" height="11.30" fill="#1050f0"/>
<rect x="690.5" y="386.50" width="10.8" height="11.30" fill="#2020e8"/>
<rect x="690.5" y="397.75" width="10.8" height="11.30" fill="#5010e8"/>
<rect x="690.5" y="409.00" width="10.8" height="11.30" fill="#8010e8"/>
<rect x="690.5" y="420.25" width="10.8" height="11.30" fill="#b010e8"/>
<rect x="690.5" y="431.50" width="10.8" height="11.30" fill="#f010f0"/>
<rect x="690.5" y="442.75" width="10.8" height="11.30" fill="#c010c0"/>
<rect x="690.5" y="454.00" width="10.8" height="11.30" fill="#a008a0"/>
<rect x="690.5" y="465.25" width="10.8" height="11.30" fill="#780878"/>
<path d="M690.5 476.5 L695.9 488.0 L701.3 476.5 Z" fill="#400040"/>
<line x1="690.5" x2="701.3" y1="139.00" y2="139.00" stroke="#000" stroke-opacity="0.8" stroke-width="1.2"/>
<line x1="690.5" x2="701.3" y1="150.25" y2="150.25" stroke="#000" stroke-opacity="0.8" stroke-width="1.2"/>
<line x1="690.5" x2="701.3" y1="161.50" y2="161.50" stroke="#000" stroke-opacity="0.8" stroke-width="1.2"/>
<line x1="690.5" x2="701.3" y1="172.75" y2="172.75" stroke="#000" stroke-opacity="0.8" stroke-width="1.2"/>
<line x1="690.5" x2="701.3" y1="184.00" y2="184.00" stroke="#000" stroke-opacity="0.8" stroke-width="1.2"/>
<line x1="690.5" x2="701.3" y1="195.25" y2="195.25" stroke="#000" stroke-opacity="0.8" stroke-width="1.2"/>
<line x1="690.5" x2="701.3" y1="206.50" y2="206.50" stroke="#000" stroke-opacity="0.8" stroke-width="1.2"/>
<line x1="690.5" x2="701.3" y1="217.75" y2="217.75" stroke="#000" stroke-opacity="0.8" stroke-width="1.2"/>
<line x1="690.5" x2="701.3" y1="229.00" y2="229.00" stroke="#000" stroke-opacity="0.8" stroke-width="1.2"/>
<line x1="690.5" x2="701.3" y1="240.25" y2="240.25" stroke="#000" stroke-opacity="0.8" stroke-width="1.2"/>
<line x1="690.5" x2="701.3" y1="251.50" y2="251.50" stroke="#000" stroke-opacity="0.8" stroke-width="1.2"/>
<line x1="690.5" x2="701.3" y1="262.75" y2="262.75" stroke="#000" stroke-opacity="0.8" stroke-width="1.2"/>
<line x1="690.5" x2="701.3" y1="274.00" y2="274.00" stroke="#000" stroke-opacity="0.8" stroke-width="1.2"/>
<line x1="690.5" x2="701.3" y1="285.25" y2="285.25" stroke="#000" stroke-opacity="0.8" stroke-width="1.2"/>
<line x1="690.5" x2="701.3" y1="296.50" y2="296.50" stroke="#000" stroke-opacity="0.8" stroke-width="1.2"/>
<line x1="690.5" x2="701.3" y1="307.75" y2="307.75" stroke="#000" stroke-opacity="0.8" stroke-width="1.2"/>
<line x1="690.5" x2="701.3" y1="319.00" y2="319.00" stroke="#000" stroke-opacity="0.8" stroke-width="1.2"/>
<line x1="690.5" x2="701.3" y1="330.25" y2="330.25" stroke="#000" stroke-opacity="0.8" stroke-width="1.2"/>
<line x1="690.5" x2="701.3" y1="341.50" y2="341.50" stroke="#000" stroke-opacity="0.8" stroke-width="1.2"/>
<line x1="690.5" x2="701.3" y1="352.75" y2="352.75" stroke="#000" stroke-opacity="0.8" stroke-width="1.2"/>
<line x1="690.5" x2="701.3" y1="364.00" y2="364.00" stroke="#000" stroke-opacity="0.8" stroke-width="1.2"/>
<line x1="690.5" x2="701.3" y1="375.25" y2="375.25" stroke="#000" stroke-opacity="0.8" stroke-width="1.2"/>
<line x1="690.5" x2="701.3" y1="386.50" y2="386.50" stroke="#000" stroke-opacity="0.8" stroke-width="1.2"/>
<line x1="690.5" x2="701.3" y1="397.75" y2="397.75" stroke="#000" stroke-opacity="0.8" stroke-width="1.2"/>
<line x1="690.5" x2="701.3" y1="409.00" y2="409.00" stroke="#000" stroke-opacity="0.8" stroke-width="1.2"/>
<line x1="690.5" x2="701.3" y1="420.25" y2="420.25" stroke="#000" stroke-opacity="0.8" stroke-width="1.2"/>
<line x1="690.5" x2="701.3" y1="431.50" y2="431.50" stroke="#000" stroke-opacity="0.8" stroke-width="1.2"/>
<line x1="690.5" x2="701.3" y1="442.75" y2="442.75" stroke="#000" stroke-opacity="0.8" stroke-width="1.2"/>
<line x1="690.5" x2="701.3" y1="454.00" y2="454.00" stroke="#000" stroke-opacity="0.8" stroke-width="1.2"/>
<line x1="690.5" x2="701.3" y1="465.25" y2="465.25" stroke="#000" stroke-opacity="0.8" stroke-width="1.2"/>
<line x1="690.5" x2="701.3" y1="476.50" y2="476.50" stroke="#000" stroke-opacity="0.8" stroke-width="1.2"/>
<path d="M690.5 139.0 L695.9 127.5 L701.3 139.0 L701.3 476.5 L695.9 488.0 L690.5 476.5 Z" fill="none" stroke="#222" stroke-width="1"/>
<text x="704.5" y="143.20">600</text>
<text x="704.5" y="154.45">596</text>
<text x="704.5" y="165.70">592</text>
<text x="704.5" y="176.95">588</text>
<text x="704.5" y="188.20">584</text>
<text x="704.5" y="199.45">580</text>
<text x="704.5" y="210.70">576</text>
<text x="704.5" y="221.95">572</text>
<text x="704.5" y="233.20">568</text>
<text x="704.5" y="244.45">564</text>
<text x="704.5" y="255.70">560</text>
<text x="704.5" y="266.95">556</text>
<text x="704.5" y="278.20">552</text>
<text x="704.5" y="289.45">548</text>
<text x="704.5" y="300.70">540</text>
<text x="704.5" y="311.95">536</text>
<text x="704.5" y="323.20">532</text>
<text x="704.5" y="334.45">528</text>
<text x="704.5" y="345.70">524</text>
<text x="704.5" y="356.95">520</text>
<text x="704.5" y="368.20">516</text>
<text x="704.5" y="379.45">512</text>
<text x="704.5" y="390.70">508</text>
<text x="704.5" y="401.95">504</text>
<text x="704.5" y="413.20">500</text>
<text x="704.5" y="424.45">496</text>
<text x="704.5" y="435.70">492</text>
<text x="704.5" y="446.95">488</text>
<text x="704.5" y="458.20">484</text>
<text x="704.5" y="469.45">480</text>
<text x="704.5" y="480.70">476</text>
</g>
<text class="ft" x="89" y="574" textLength="369" lengthAdjust="spacing">Daten: GFS-Modell des amerikanischen Wetterdienstes</text>
<text class="ft" x="89" y="587.3" textLength="121" lengthAdjust="spacing">(C) Wetterzentrale</text>
<text class="ft" x="89" y="600.5" textLength="145" lengthAdjust="spacing">www.wetterzentrale.de</text>
</svg>
</body></html>
